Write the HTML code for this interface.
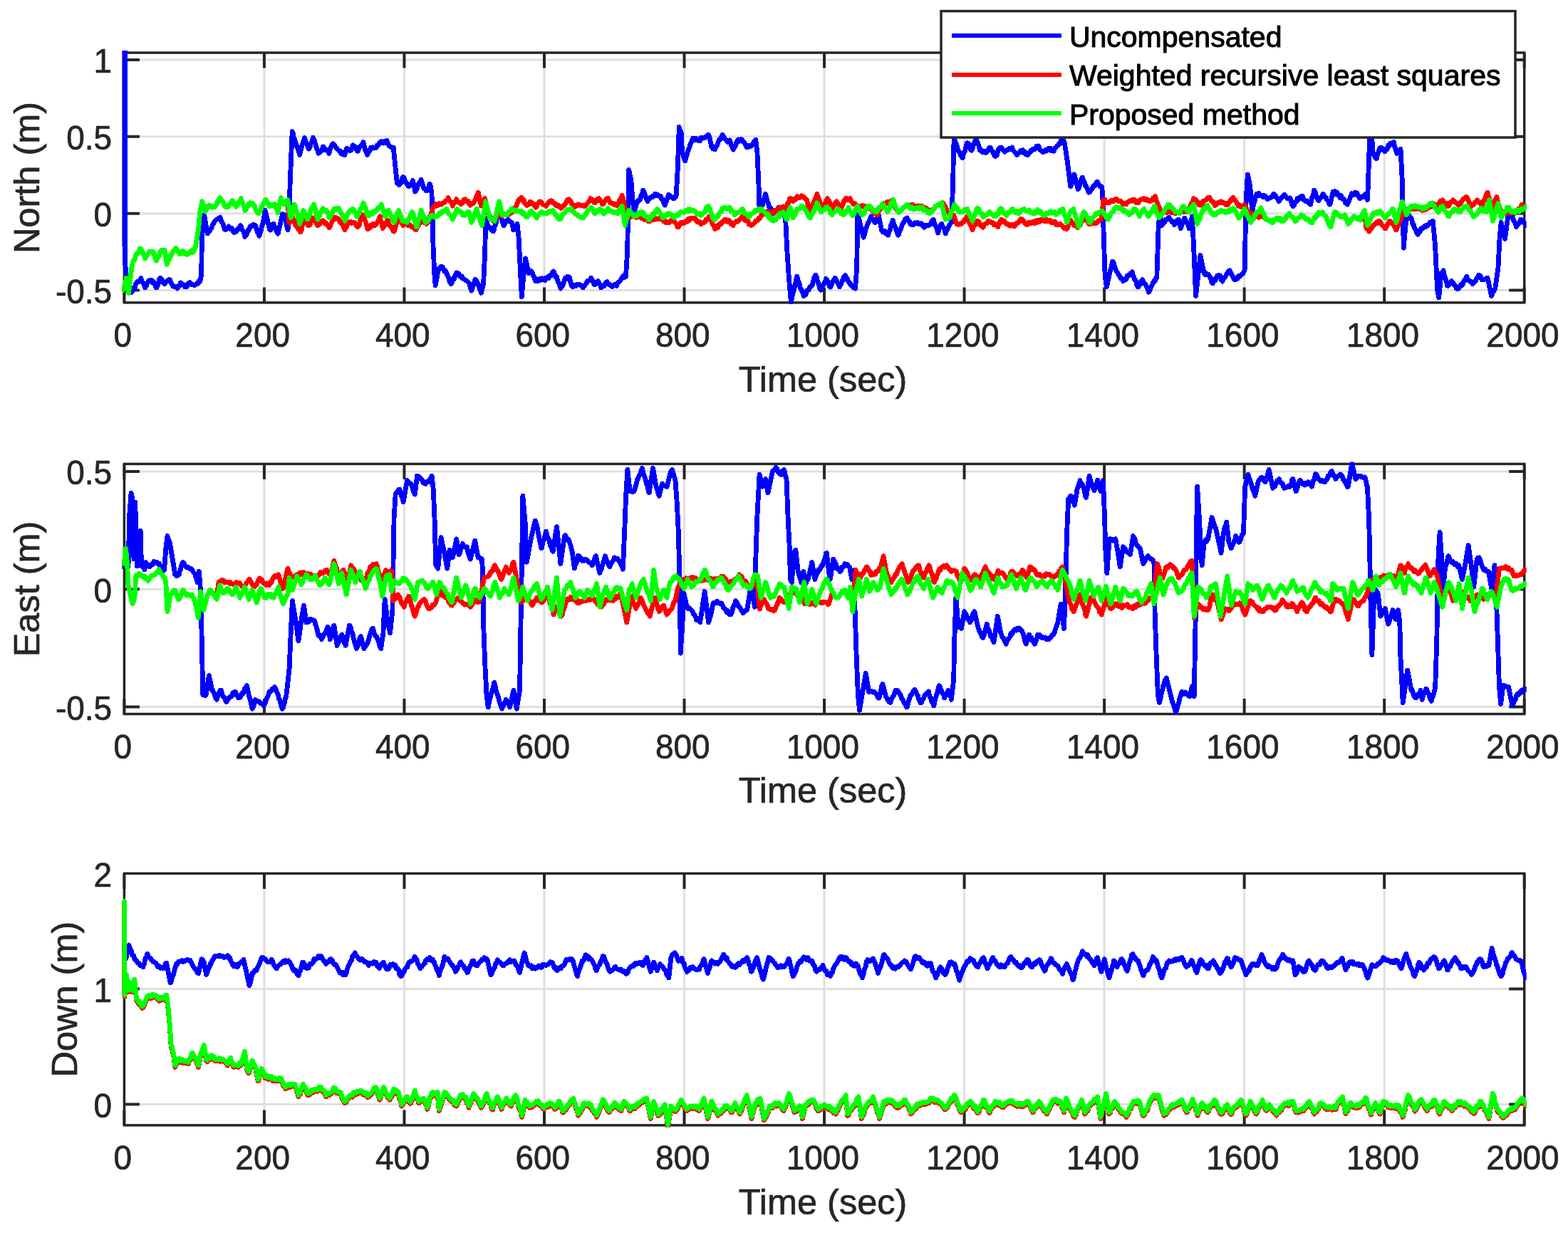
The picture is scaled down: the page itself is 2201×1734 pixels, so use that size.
<!DOCTYPE html>
<html><head><meta charset="utf-8"><title>Position error</title><style>html,body{margin:0;padding:0;background:#fff;width:2201px;height:1734px;overflow:hidden}svg{display:block}</style></head><body>
<svg width="2201" height="1734" viewBox="0 0 2201 1734" font-family='"Liberation Sans", Arial, Helvetica, sans-serif'>
<rect width="2201" height="1734" fill="#fff"/>
<path d="M370.93 74.00V424.90M567.46 74.00V424.90M763.99 74.00V424.90M960.52 74.00V424.90M1157.05 74.00V424.90M1353.58 74.00V424.90M1550.11 74.00V424.90M1746.64 74.00V424.90M1943.17 74.00V424.90M174.40 407.50H2139.70M174.40 299.67H2139.70M174.40 191.84H2139.70M174.40 84.00H2139.70" stroke="#dfdfdf" stroke-width="3" fill="none"/>
<path d="M174.40 424.90v-21.50M174.40 74.00v21.50M370.93 424.90v-21.50M370.93 74.00v21.50M567.46 424.90v-21.50M567.46 74.00v21.50M763.99 424.90v-21.50M763.99 74.00v21.50M960.52 424.90v-21.50M960.52 74.00v21.50M1157.05 424.90v-21.50M1157.05 74.00v21.50M1353.58 424.90v-21.50M1353.58 74.00v21.50M1550.11 424.90v-21.50M1550.11 74.00v21.50M1746.64 424.90v-21.50M1746.64 74.00v21.50M1943.17 424.90v-21.50M1943.17 74.00v21.50M2139.70 424.90v-21.50M2139.70 74.00v21.50M174.40 407.50h21.50M2139.70 407.50h-21.50M174.40 299.67h21.50M2139.70 299.67h-21.50M174.40 191.84h21.50M2139.70 191.84h-21.50M174.40 84.00h21.50M2139.70 84.00h-21.50" stroke="#262626" stroke-width="4" fill="none"/>
<rect x="174.40" y="74.00" width="1965.30" height="350.90" stroke="#262626" stroke-width="3.5" fill="none"/>
<clipPath id="c0"><rect x="171.40" y="71.00" width="1971.30" height="356.90"/></clipPath>
<g clip-path="url(#c0)" fill="none" stroke-width="6.8" shape-rendering="crispEdges" stroke-linejoin="round" stroke-linecap="round">
<path stroke="#0000ff" d="M174.2 72.1l0 271.8 1.5 0 0 -271.8 0.1 299.9 2.6 22.9 1.1 11 0.5 0.6 1.5 0 1.5 0.8 1.5 3.2 1.3 -1.2 1.7 -5.3 1.5 0.7 1 -3.9 0.5 -1.8 1.5 -2.2 1.5 -1.6 1.5 0.4 1.5 -1.3 0.9 -2.9 0.6 -0.7 1.5 4.6 1.5 1.7 1.5 3.6 1.2 3.4 1.8 -2.6 1.5 -3.9 1.5 -3.4 0.5 0.4 1 0.2 1.5 -1.6 1.5 0.5 1.5 3.8 0.8 -1.8 0.7 0.2 1.5 3.6 1.5 4.5 0.5 0.1 1 -1.2 1.5 -3.6 1.5 -6.9 1.3 -2 1.7 4.2 1.5 -1.7 1.5 4.5 1.6 1.4 1.4 -2 1.5 -1.9 1.5 -0.1 1.5 -2.1 0.4 -0.2 1.1 0.6 1.5 3.9 1.5 2.5 1.2 2.5 1.8 0.5 1.5 -0.3 1.5 0.6 1.5 2.3 1.1 -1 0.4 -1.6 1.5 -1 1.5 -4.5 0.8 0.8 0.7 1.7 1.5 -0.2 1.5 0.4 1.6 3.3 1.4 -2.2 1.5 1.5 1.5 -3.7 1.5 -1.5 1.4 -0.4 1.6 2.9 1.5 -0.3 1.5 1 1.8 0.6 1.2 -1.3 1.5 -1 1.5 -0.1 1.5 -3.7 1.6 0.9 2.1 -9.5 1.1 -84.3 1.2 1.4 1.5 -0.1 0.5 0.8 4.2 24.2 1.3 -2.2 1.5 -0.9 1.5 -3.3 0.9 -0.9 0.6 -0.4 1.5 -5.2 1.5 -1.2 1.5 -3.5 1.3 -1.3 1.7 -1.1 1.5 -1.1 1.5 -0.7 1.6 -1.3 1.4 5.3 1.5 2.4 1.5 3.3 1.5 4.6 0.4 1.2 1.1 0.7 1.5 -0.5 1.5 -1 1.5 -3.2 0.7 0.9 0.8 2.6 1.5 -0.1 1.5 -0.9 1.5 3.9 1.5 2.3 1.7 -0.5 1.3 -0.6 1.5 -3 1.5 -1.9 1.5 0.6 1.5 -4.4 1.1 0.9 0.4 2.5 1.5 3 1.5 2.5 1.5 4.3 0.3 2.5 1.2 -1.8 1.5 -2.1 1.5 -5.3 1.5 -0.2 1.7 -5.4 1.3 1.2 1.5 -2 1.5 -1.5 1.5 0.6 1.6 0.6 1.4 5.1 1.5 4.5 1.5 1.3 0.9 3.9 0.6 -2.1 1.5 -4.5 1.5 -6.4 1.6 -4.9 3.2 -17.9 6.3 27.4 0.9 0.3 1.5 -2.5 1.5 -5.9 1.4 -0.4 1.6 4.3 1.5 3.1 1.5 3.5 1.7 2.8 6.3 -27.4 1 1.4 1.5 -0.8 0.7 2.6 4.2 19 1.7 -10.6 1.5 -52.6 2.1 -52.7 1 -22.2 0.8 1.2 1.5 8.2 1.5 2.1 0.4 2.2 1.1 2.8 1.5 5.1 1.5 3.5 1.5 5.2 0.8 2.4 0.7 -3.7 1.5 -6.3 1.5 -5 1.5 -4.1 1.1 -4.1 0.4 -0.7 1.5 4.8 1.5 3.2 1.5 3.9 1.4 3.6 1.6 -2.4 1.5 -5.5 1.5 -2.2 1.7 -5.7 1.3 3.2 1.5 5 1.5 5.4 1.5 3.4 1.6 5.1 1.4 -1.2 1.5 -1.6 1.5 -2.1 1.5 -3.4 0.4 -1.2 1.1 0.7 1.5 4.1 1.5 0.4 1.5 -0.6 1.5 1.7 1.4 3.2 1.6 -6 1.5 -4.1 1.5 -2.4 0.6 -1.2 0.9 1.1 1.5 1.4 1.5 1.8 1.5 2.1 1.5 2.1 1.6 1 1.4 0.5 1.5 3.7 1.5 -1.8 1.5 3.2 1.5 -0.3 1 1 0.5 -2.1 1.5 -5.7 1.1 -1.7 0.4 1.7 1.5 0.2 1.5 1.8 1.5 -1 0.4 0.5 1.1 -2.1 1.8 -5.3 1.2 1 1.5 1 1.5 1 1.5 5.4 1.6 0 1.4 -3.7 1.5 -2.4 1.5 -1.8 1.5 -1.9 1.5 -2.8 1.5 7 1.5 5.1 1.5 1.7 0.8 4.1 0.7 -1.8 1.5 -1.9 1.5 -2.2 1.6 -4.6 1.4 1.9 1.5 -2.1 1.5 0.9 1.5 0.3 0.4 0 1.1 -0.6 1.5 -3.5 1.5 -0.1 1.5 -3.2 1.5 -1.2 1.3 -0.9 1.7 2.3 1.5 0.3 1.5 -2.5 0.6 2.1 0.9 -2.8 1.2 -0.4 0.3 -0.4 1.5 4.7 1.5 2.9 0.9 0.2 0.6 0.5 1.5 1.2 1.5 0.9 1.7 -0.5 2.1 21 3.1 29.5 0.6 -0.7 1.5 0.3 1.1 2.6 0.4 -2.8 1.5 0.3 1.5 -5 1.5 -3.7 0.4 0.6 1.1 0.3 1.5 4.3 1.5 3.5 1.5 0.4 1.5 3.8 1.3 0.4 1.7 -2.5 1.5 -2 1.5 -1.9 0.6 -2.1 3.1 15.8 0.8 -0.7 1.5 -2.8 1.5 -6.1 0.4 0.2 1.1 -1.8 1.5 -2.3 1.6 -3.3 1.4 4 1.5 5.7 1.4 2.9 1.6 1.2 1.5 1.8 1.1 -0.9 0.4 0.4 1.5 -3.6 1.5 -5.6 0.8 0.4 2.1 11.6 1.1 31.6 1 42.1 2.1 46.4 1.1 10.5 4.2 -23.1 1.1 0.8 1.5 -3.6 1.5 1.7 1.2 -1 0.3 -1.1 1.5 2.7 1.5 4.1 1.5 -1.1 1.5 3.8 1.5 3.2 1.5 3.8 1.5 5 1.8 2.7 1.2 -1.9 1.5 -5.3 1.5 0.2 1.5 -5.6 1.7 -3.2 1.3 0.9 1.5 0.1 1.5 3.2 0.9 1.1 0.6 -1 1.5 0.5 1.5 3.3 1.5 1.1 1.3 0.3 1.7 1.7 1.5 0.4 1.5 1.4 1.6 1.8 1.4 4.7 1.7 5.8 1.3 -3.3 1.5 -5.1 1.5 -3.8 1 -3.6 0.5 0.1 1.5 1.4 1.5 4.5 0.7 0.3 0.8 2.8 1.5 5.2 1.5 1.9 0.4 2.8 3.2 -12.7 2.1 -44.2 1.1 -48.5 0.7 3.2 1.5 5.5 0.9 1.8 0.6 0.8 1.5 2.8 1.5 -0.7 1.5 4.1 1.5 0.3 0.8 1.2 0.7 -1.3 1.5 -6.2 1.5 -3.7 1.5 -7.9 1.1 -2 0.4 -2.6 1.5 0.6 1.3 -4.3 1.7 7.8 1.5 5.6 1.5 4.2 0.5 1.3 1 -0.9 1.5 -3.5 1.5 -2.4 1.5 0.9 0.9 -2.5 0.6 2.1 1.5 0.7 1.5 0.9 1.6 0.5 2.1 10.6 0.8 -2.8 1.5 -1.1 1.5 -1.9 1.5 -2.7 2.1 19 2.1 42.2 2.1 41 2.1 -24.2 3.2 -29.5 4.2 19 0.7 1.8 1.5 -0.9 1.5 -2.6 0.5 1.7 1 0.6 1.5 4.7 1.5 2.3 1.3 5 1.7 -2.8 1.5 3.1 1.5 -1.4 1.6 -2 1.4 1.8 1.5 -2.5 1.5 0.2 1.5 2.1 0.4 -0.6 1.1 1.4 1.5 -3.7 1.5 -1 1.5 0.9 0.8 0.3 0.7 -2.9 1.5 0.3 1.5 -0.9 1.5 -4.7 1.1 -0.2 0.4 -0.9 1.5 3.3 1.5 4.9 1.5 -0.9 0.4 2 1.1 5.1 1.5 1.8 1.5 4.6 1.1 3.3 0.4 -1.8 1.5 -0.9 1.5 -3.4 1.5 -4.8 1.4 -3.9 1.6 1.7 1.5 -3.9 1.5 1.6 0.7 -0.5 0.8 0.7 1.5 6.9 1.5 4.1 1.5 2 1.5 -1.4 1.5 -1.1 1.5 1.3 1.5 -2.6 0.3 0.7 1.2 0.3 1.5 -0.7 1.5 1.1 1.5 0.3 1.5 1 0.9 2.2 0.6 -2.5 1.5 -0.7 1.5 -1.6 1.7 -2.6 1.3 -2.5 1.5 -0.1 1.5 -0.4 1.5 -3.5 0.5 1.3 1 1.3 1.5 2.1 1.5 4.7 1.3 0.3 1.7 -2.5 1.5 -1.9 1 -0.9 0.5 2.1 1.5 1.7 1.5 2.9 0.7 2.8 0.8 -1.6 1.5 -0.8 1.5 0.4 1.5 -2.1 1.5 -3.6 1.6 -0.7 1.4 2.1 1.5 1.9 1.5 0.1 1.5 1.3 0.5 0.9 1 0.8 1.5 -1.8 1.5 -1.2 1.5 0.4 1.5 1.5 0.3 -1.8 1.2 -2.9 1.5 -0.7 1.5 -1.2 1.5 -2.6 1.7 -2.1 1.3 -2.5 1.5 2.2 1.5 -0.9 1 -0.9 2.1 -33.7 1 -52.7 1.1 -63.2 3.2 14.7 2.1 27.4 2.1 16.9 0.9 -2.5 1.5 -5 1.8 -7.3 1.2 0.5 1.5 -2.7 1.5 0.1 1.5 -6.3 1.5 -1.9 1.2 -5.5 1.8 3.5 1.5 4.8 1.5 4 1.5 3.5 1.5 -3.3 1.5 -1.1 1.5 -1.6 1.5 0.1 0.4 -1.4 1.1 1.2 1.5 -1.7 1.5 -2.8 1.5 2.5 0.7 -1.3 0.8 -0.4 1.5 0.9 1.5 1.5 1.5 -0.4 1 1.5 0.5 2.8 1.5 0.3 1.5 4.3 1.8 4.2 1.2 -3.4 1.5 -3.9 1.5 -4 1 -3.4 0.5 0.5 1.5 0.7 1.5 2.2 1.5 0.3 1.4 1.5 1.6 -0.1 1.5 -3.1 1.1 0.1 2.1 -36.9 2.1 -60.1 0.7 2.9 1.5 3.3 1 3.3 1 27.4 1 1 1.5 5.9 1.7 3.6 1.3 -4.5 1.5 -5.5 1.4 -4.7 1.6 -3.4 1.5 -5.5 1.5 -2.7 1.8 -5.3 1.2 -0.3 1.5 2.3 1.5 -2.2 1.5 2.9 1.5 -1.9 1.2 2.4 0.3 -0.3 1.5 0.6 1.5 -4.5 1.5 1.1 1.5 -1.1 1.5 0.6 1.5 -1.6 1.5 -0.6 1.5 -1.2 1.4 -1.4 1.6 3.6 1.5 7.4 1.5 6.6 0.7 0.3 0.8 1.9 1.5 0 1.5 0.9 0.4 -0.7 1.1 -3.4 1.5 -0.9 1.5 -4.8 1.5 -3.8 0.7 0.2 0.8 -1.3 1.5 -2.8 1.5 -2.9 0.4 0.7 1.1 1.2 1.5 3.9 1.5 0.1 1.5 2.1 0.7 1.1 0.8 0.9 1.5 -0.8 1.5 -1.5 0.4 1.4 1.1 4.6 1.5 2.3 1.7 4.7 1.3 -3.1 1.5 -1.3 1.5 -4.7 1.5 -3.7 0.5 0.2 1 -1.6 1.5 2.3 1.5 -2 1.2 -0.8 1.8 2.3 1.5 1.7 1.5 1.8 1.5 2.8 1.1 3 0.4 -1.9 1.5 1.8 1.5 -2.4 1.5 1.3 1.4 -0.9 1.6 -1.3 1.5 -2.8 1.5 -2.9 1.8 -1.5 2.1 16.9 2.1 46.4 1 31.6 0.5 -0.3 1.5 0.8 1.2 -2.6 0.3 0.8 1.5 -4.9 1.5 -4.8 1.5 -6.2 0.5 -1.8 1 3.7 1.5 6.3 1.5 3.4 1.2 5.6 1.8 0.5 1.5 2.5 1.5 1.3 1.6 4.1 1.4 -3.4 1.5 0.6 1.5 -2.4 1.5 -0.9 0.4 -2.3 1.1 -0.3 1.5 2.3 1.5 -1.6 1.5 -0.3 1.7 0.9 3.2 20 2.1 42.2 2.1 31.6 3.2 37.9 1.2 -5.4 1.5 -6.6 1.5 -4.8 4.2 -19 1.8 6.7 1.5 3.1 1.5 7 0.5 0.1 1 1.5 1.5 4.1 1.7 4.9 1.3 -3.6 1.5 1.6 1.5 -5.5 1.5 -0.4 0.5 -0.5 1 -0.2 1.5 -4.3 1.4 0.2 1.6 -2.2 1.5 -6.1 1.5 -5.4 1.8 -3.1 1.2 2 1.5 6.9 1.5 2.9 1.5 6.3 1.6 3 1.4 -4.7 1.5 -1.8 1.5 -1.9 1.5 -2.9 1.5 -4.5 1.5 2 1.5 4.5 1.5 1.9 0.8 3.1 0.7 0.3 1.5 -2.3 1.5 -5.1 1.5 -2.1 1.5 -2.1 0.6 -1.3 0.9 0.9 1.5 4 1.5 1.6 1.5 3.4 1 2.7 0.5 -1.3 1.5 -2.6 1.5 -3.5 1.5 -4.3 1.5 -3.3 0.8 -0.8 0.7 -0.4 1.5 5 1.5 -0.4 1.5 4.9 1.5 0.4 0.7 2.1 0.8 -0.2 1.5 3.1 1.5 1 1.5 1.6 1.5 0.4 0.6 0.5 2.1 -29.5 1.1 -73.8 0.7 3.1 1.5 2.9 0.9 4.5 0.6 3.3 1.5 4.5 1.5 7.3 1.7 6 1.3 -4 1.5 -7 1.4 -3.7 1.6 -4.8 1.5 -2.4 1.5 -2.9 1.7 -4.7 1.3 2.6 1.5 1 1.5 1.9 1 2.9 0.5 0.2 1.5 -4 1.5 -3.9 1.8 -2.8 4.2 21.1 1.5 2.9 1.5 -0.9 1.5 -0.7 1.5 3.8 1.5 1 1.5 1 0.5 -0.8 1 -3 1.5 -4.3 1.5 -6.7 1.5 -2.6 0.8 -3.4 0.7 3.3 1.5 4.1 1.5 2.6 1.5 5.3 1.5 4.4 0.7 1.3 0.8 -0.5 1.5 -6.9 1.5 -0.8 1.5 -5 1 -2.6 0.5 -1.2 1.5 -1.6 1.5 -3.8 1.5 -1.2 1.3 -0.6 1.7 3.2 1.5 1.6 1.5 4.1 1.6 0.6 1.4 -1.3 1.5 1.6 1.5 -2.9 1.5 0.8 1.5 -0.2 1 -1.2 0.5 1.6 1.5 0.8 1.5 -0.7 1.5 -0.3 1.5 0.8 1.5 3.7 0.5 -0.6 1 1.6 1.5 -2.9 1.5 0.1 1.5 0.7 1.5 -0.6 1.4 -1 1.6 -1.6 1.5 -3.5 1.5 -1.9 0.7 -0.4 0.8 2.7 1.5 5.2 1.5 2.2 1.5 4 1 4.9 0.5 -0.7 1.5 -6 1.5 -3.6 1.8 -2.4 1.2 3.6 1.5 1.3 1.5 3.6 1 4.2 0.5 0.9 1.5 -5.2 1.5 -1.1 1.8 -5.2 1.2 -1.8 1.5 -2.3 0.5 -0.1 2.1 -52.6 1 -52.7 1.1 -12.7 1.3 5.3 1.5 3.3 1.5 4.9 0.9 3.4 0.6 0 1.5 3.5 1.5 3.4 1.5 2.3 1.3 1.3 1.7 -7.6 1.5 -1.5 1.5 -7 1.6 -4.9 1.4 0.3 1.5 3.1 1.5 5.4 1.5 1.1 0.4 0.6 1.1 -2 1.5 -6.3 1.5 -3.3 1.5 -2 0.7 -3.3 0.8 3.8 1.5 2.5 1.5 3.9 1.5 6.7 1.5 -0.7 1.5 3.1 1.5 0.3 1.5 -1.5 1.4 1.9 1.6 -0.1 1.5 -3.1 1.5 -1.7 1.7 -2.4 1.3 0.5 1.5 4.1 1.5 0.8 1.5 4.5 1.5 2 1.1 0.7 0.4 -2.6 1.5 0.6 1.5 -6.6 1.5 -2.8 1.4 -1.2 1.6 0.1 1.5 1.9 1.5 2 1.8 2.3 1.2 -1.1 1.5 -1.5 1.5 0 1.5 -1.3 1.5 -1.2 1.5 1.5 1.5 -2.3 0.3 -0.4 1.2 3.9 1.5 1.7 1.5 1.7 1.5 1.2 0.6 2 0.9 -0.1 1.5 -2.4 1.5 -0.5 1.5 -2.8 0.9 -0.5 0.6 0.4 1.5 -0.8 1.5 4 1.5 -1.7 1.5 3.7 1.5 0.8 0.4 -0.1 1.1 0 1.5 -3.5 1.5 0.1 1.5 -3.4 1.5 -0.2 1.3 -1.4 1.7 0.9 1.5 -0.9 1.5 -4 1.5 0.6 0.9 -0.8 0.6 0.1 1.5 4.6 1.5 1.8 1.5 0.6 1.2 1.3 0.3 0.7 1.5 -1 1.5 -2.2 1.5 1.4 1.5 -0.9 1.1 -2.2 0.4 -0.6 1.5 2.1 1.5 -2.5 1.5 3.7 1.5 -0.6 0.9 0 0.6 1.1 1.5 -4.1 1.5 -0.8 1.7 -2.5 1.3 -0.4 1.5 -2.4 1.5 -0.2 1.5 -5.6 1.6 0.1 1.4 0.1 1.8 4.2 4.2 27.3 4.2 33.8 0.3 0.1 1.5 -5 1.5 -7 1.5 -3.4 0.4 -1.6 5.3 21.1 1.8 -4.1 1.5 -6 1.5 -4.2 1.5 -2.6 1.5 4.9 1.5 2.9 1.5 4.4 1.5 1.8 1.5 3.8 1 3.3 0.5 -1 1.5 0.2 1.5 -3 1.5 -1.1 1.3 -3.5 1.7 -1.5 1.5 0.2 1.5 -4.7 1.6 -0.4 1.4 3.1 1.5 2.2 1.5 1.6 1.5 -0.4 0.4 2 1.1 16.8 1 42.2 2.1 63.2 2.2 16.8 4.2 -18.9 1 -3.7 1.5 -5.2 1.7 -8 1.3 1.2 1.5 5.5 1.5 5.2 1.5 2.4 0.5 0.5 1 2 1.5 2.2 1.5 1.8 1.5 3.1 1.5 0.4 1.4 3.1 1.6 -2.4 1.5 1.1 1.5 -1.5 1.5 -4.9 1.5 -0.1 1.5 -0.3 1.5 -2.6 1.5 -1.3 0.6 -0.6 0.9 3.5 1.5 3.3 1.5 4.8 1.5 0.6 1.5 6.8 1.5 2 1.5 -1.9 1.5 -1.3 1.5 -5.2 1.5 0 0.3 -2.1 1.2 3.6 1.5 2.5 1.5 1.1 1.5 3 1.5 3.1 1.3 4.6 1.7 -2.7 1.5 -4.8 1.5 -1.6 1.6 -4.6 1.4 -2.1 1.5 0.1 1.5 -5.1 0.8 0.8 2.2 -67.4 2.1 -29.5 3.1 23.1 0.8 -2.8 1.5 -0.1 1.5 -1.7 1.5 -3.8 1.5 0.2 1.7 -2.3 1.3 -0.6 1.5 2.2 1.5 1.2 1.5 3.2 1.5 -0.5 1.1 2.9 0.4 1.3 1.5 -1.8 1.5 -1.1 1.5 -4 1.4 -0.7 1.6 8.3 1.6 4.4 1.4 -5 1.5 -2.6 1.5 -4.5 0.8 -2.7 0.7 1.2 1.5 3.1 1.5 2.5 1.5 3.8 1.2 4.2 0.3 -2.9 1.5 -4.6 1.5 -5.3 0.9 -4.1 2.1 40 3.1 71.7 3.2 -29.5 3.2 -27.4 5.2 25.3 1.8 1.8 1.5 -1.9 1.5 0.7 1.5 1.5 1.5 1.9 1.5 3 1.5 5.7 0.8 -0.1 0.7 1.3 1.5 -5.1 1.5 1.3 1.5 -3 1.5 -3.7 1.5 0.5 1.3 -1.8 1.7 1.5 1.5 5.9 1 1 0.5 0.6 1.5 -5.1 1.5 0.2 1.5 -2.8 1.5 -3 1.5 -1.2 1.5 -3.3 1.1 -0.1 0.4 0.2 1.5 4.3 1.5 2.3 1.5 3.3 1.4 2.5 1.6 0.5 1.5 -2.7 1.5 1.1 1.5 -3.6 1.5 0.6 0.8 -0.1 0.7 -1.5 1.5 -1.6 1.5 -0.5 1.5 -3.3 1.1 -1.5 1.1 -56.9 1 -42.2 2.1 -35.8 3.2 14.8 3.2 35.8 0.3 0.3 1.5 -8.3 1.5 -4.6 1.5 -6.9 1.5 -3.7 1.5 0.1 1.5 -0.9 1.5 3.4 1.5 0.2 0.3 -0.7 1.2 -0.1 1.5 2.6 1.5 -2.4 1.5 0.5 1.5 1.8 1.5 2.8 1.5 -0.9 1.5 -0.3 1.5 -1.3 1.5 0 1.5 -2.5 1.5 -2.5 1 1.3 0.5 2 1.5 -0.2 1.5 3 1.5 2.2 1.3 2.5 1.7 -2.9 1.5 -2.7 1.5 -0.2 1.6 -2.7 1.4 -1.2 1.5 2.5 1.5 1.1 1.5 2.1 1.5 -0.8 1 0.6 0.5 -0.8 1.5 2.9 1.5 6.2 1.5 2.7 0.3 -0.5 1.2 -0.5 1.5 -4.8 1.5 -0.8 1.1 -2.3 0.4 -2 1.5 1.7 1.5 -3.3 1.5 1.3 1.4 -3 1.6 0 1.5 5.2 1.5 0.7 1.7 1.5 1.3 -1 1.5 2.3 1.5 0.1 1.5 2.6 0.6 0.2 0.9 -5 1.5 -5.6 1.5 -2.7 1.3 -6.7 1.7 3.3 1.5 6.4 1.5 2.9 0.6 1.1 0.9 0.7 1.5 -3.6 1.5 -0.1 1.5 -2.6 0.9 -1.8 0.6 -1.2 1.5 2.6 1.5 1.9 1.5 1.3 1.2 2.8 1.8 1.5 1.5 4.9 1 -0.1 4.2 -17.9 0.8 0.6 1.5 -1.4 1.5 4.4 1.5 -2.9 1 2.4 0.5 0 1.5 3 1.5 2 1.5 -2.6 1.5 4.5 0.9 -0.5 0.6 0.8 1.5 0.2 1.5 4.9 1.5 -0.7 1.2 3.2 0.3 -0.3 1.5 -3 1.5 -4 1.5 -4.7 0.5 -0.7 1 -2.6 1.5 0.7 1.5 0.9 1.5 -3.3 0.8 0.1 0.7 0 1.5 1.5 1.5 3.5 1.5 2.1 1.1 1.4 0.4 -2.1 1.5 0.3 1.5 -0.2 1.5 0.1 1.5 -3.2 1.5 -1.1 0.5 -0.2 1 3.8 1.1 4.7 1.1 -31.7 2.1 -61.1 2.1 -8.4 2.1 33.7 0.5 2.2 1.5 3.4 1.5 2.2 1.8 1.7 1.2 -6.2 1.5 -2.8 1.5 -5.8 1.5 -0.4 1.5 -0.3 1.5 1.7 1.5 2.5 1.5 1.2 0.9 -1.5 0.6 -2.4 1.5 0.8 1.5 -5.5 0.6 0.8 0.9 0.2 1.5 -3.8 1.5 0.5 1.5 0.7 1.5 -2.9 0.5 0 1 5.4 1.5 4.8 1.7 5.6 1.3 -2.8 1.5 -1.1 1.5 -1.5 1 -0.9 2.1 40 1.1 42.2 1 56.9 3.2 -35.8 3.1 -12.7 0.5 1.8 1.5 1.7 1.5 2.7 0.8 0.2 0.7 1 1.5 7.5 1.5 1.4 0.5 2.7 1 2.4 1.5 1.8 1.5 4.4 1.2 1.9 1.8 -3 1.5 -1.4 1.5 -4.1 0.5 0.1 1 0.4 1.5 -2.2 1.5 -1.7 1.5 1.2 1.5 -2.5 1.4 0.6 1.6 -1.7 1.5 -2.6 1.5 1.2 1.5 -1.4 1.3 -1.8 3.2 33.7 3.1 63.2 2.2 10.6 3.1 -33.8 0.6 -1.3 1.5 0.1 1.1 -3 0.4 2.7 1.5 5.9 1.5 4.5 1.5 5.1 0.3 2.9 1.2 0.7 1.5 -1.9 1.5 -3.3 1.5 0.3 0.7 -2.1 0.8 2.8 1.5 -0.1 1.5 2.8 1.5 1.4 1.5 3.6 0.5 0 1 0.8 1.5 -1 1.5 -2.2 1.5 -3 1.5 1 0.4 -1.9 1.1 0.2 1.5 -5.1 1.5 -0.1 1.5 -4.3 0.7 -1.3 0.8 2.9 1.5 2 1.5 1.1 1.5 1.4 1.5 -0.3 1.7 3.5 1.3 -1.6 1.5 -1.8 1.5 -1.4 1.5 -3.9 1.5 -1.5 1.1 -2.5 0.4 1 1.5 -0.2 1.5 3.2 1.5 2.9 1.4 -0.5 1.6 0.2 1.5 -0.8 1.5 -1.5 1.7 0 5.3 25.2 0.5 -1 1.5 -4.5 1.5 -1.6 1.8 -3.4 4.2 -29.5 2.1 -42.1 2.1 -21.1 5.3 23.2 4.2 -31.7 1.3 1 1.5 -2 1.5 -0.2 1 -0.9 0.5 0.3 1.5 6 1.5 2.8 1.5 2.4 1.3 5.4 1.7 -3.3 1.5 -0.5 1.5 -3.8 1.6 -2.9 1.4 3.1 1.5 -1.9 1.5 3.5 1.5 0.5 1.5 2.2 1 1"/>
<path stroke="#ff0000" d="M172.5 407.2l1.5 -3.7 1.5 -5.5 1.5 -5.2 0.4 -2.5 3.1 21.1 4.3 -35.8 1.2 -5.5 1.5 -4.2 1.5 -1.2 1 -3.9 0.5 -1.8 1.5 -2.9 1.5 -0.3 1.5 -3.4 1.5 -3.5 0.9 0.3 0.6 0 1.5 4.7 1.5 1.8 1.5 3.7 1.2 3.5 1.8 -2.8 1.5 -2.8 1.5 -1.7 1.5 -2.2 1.5 -0.1 1.5 0.4 1.5 -0.6 0.8 1.4 0.7 0.3 1.5 7.3 1.5 2.6 0.5 1.4 1 -3.2 1.5 -1.4 1.5 -2.1 1.5 -6.2 0.8 0.2 0.7 -2.2 1.5 -0.1 1.5 1.7 1.6 -1.5 3.2 20 1.2 -2.7 1.5 -4.9 1.5 -0.6 1 -4.4 0.5 0.5 1.5 -3.2 1.5 -3.4 1.5 -0.4 1.5 -3.2 0.9 -0.8 0.6 1.2 1.5 1.4 1.5 3.6 1.7 2.2 1.3 -2.1 1.5 1.1 1.4 -3.2 1.6 0.8 1.5 3.7 1.1 -0.3 0.4 -0.9 1.5 2 1.5 -1.3 1.5 -1.8 1.4 -0.1 1.6 -2.6 1.5 2.9 1.5 -4 0.7 1.6 0.8 -1.7 1.5 -4.9 0.9 -5 3.1 -17.9 2.1 -25.3 3.2 -14.8 1.2 3.5 1.5 4.7 1.5 5.5 1.5 -1.9 1.5 -3.6 1.2 -1.8 1.8 -1 1.5 2.7 1.5 -1 1.5 1.4 1.5 -2 1.5 1 1.5 -1.2 1.5 -4.7 0.4 1.6 1.1 -3.5 1.5 -2.5 1.6 -2.4 1.4 3.7 1.5 1 1.5 2.2 1.5 4.6 0.4 0.1 1.1 1.3 1.5 0.4 1.5 -2.4 1.2 0.7 0.3 1 1.5 -2.9 1.5 -2.9 1.5 -0.1 0.4 -2.5 1.1 0.6 1.5 4.4 1.5 -0.2 1.2 3.6 1.8 -1.2 1.5 -5.1 1.5 -0.2 1.5 -3 1.1 -2.1 0.4 2.7 1.5 2.9 1.5 4.7 1.5 4.6 0.3 2 1.2 -0.6 1.5 -3.8 1.5 -1.3 1.1 -3.8 0.4 1.6 1.5 -2.8 1.5 2 1.5 -1.6 1.4 1.8 1.6 1 1.5 5.8 1.5 2.2 1.5 2.8 1.3 0.9 1.7 -2.9 1.5 -2.4 1.5 -4.6 0.6 -0.6 0.9 -1.2 1.5 -3.8 1.5 -3 1.4 -0.5 1.6 4.2 1.5 1.1 1.5 3.9 0.6 -0.7 0.9 -0.5 1.5 -1.2 1.5 1.5 1.5 -0.3 0.9 -1.7 0.6 -0.7 1.5 6 1.5 0.9 1.7 5.4 4.2 -21 1.6 5.5 1.5 1.1 1.1 2.8 0.4 -1.9 1.5 -1.6 1.5 -1.5 1.5 0.2 0.4 -1.5 2.1 31.6 0.5 0.7 1.5 -5.1 1.5 -0.7 0.7 -3.3 0.8 3.8 1.5 1.6 1.5 4 0.4 2.2 1.1 1.4 1.5 0.7 1.5 4.3 1.5 -0.3 1.5 2 0.3 2.4 1.2 -2.1 1.5 -7.8 1.5 -3.9 1.1 -4.1 0.4 0.4 1.5 1.4 1.5 1 1.5 5.4 1.4 0.2 1.6 -0.7 1.5 -6 1.5 -2 1.7 -1.8 1.3 4.1 1.5 0.7 1.5 3.1 1.5 2.4 0.6 0.2 0.9 -1.6 1.5 0 1.5 -2.1 1.5 -1.4 1.5 -1.7 1.5 0.5 1.5 3.5 1.5 -0.7 1.5 2.4 1.5 1.4 1.5 2.7 0.9 -0.8 0.6 -1.8 1.5 -3.5 1.5 -3.2 1.5 -3.3 1.2 -1.9 1.8 2.4 1.5 -1.6 1.5 0.9 1.6 1.4 1.4 2.9 1.5 2.7 1.5 1.2 1.5 1.7 1.5 3.5 1 2.8 0.5 -2.6 1.5 -0.6 1.5 -4.4 1.5 -2.5 1.3 -0.5 1.7 -0.8 1.5 2 1.5 -1.2 1.3 0 1.7 0.3 1.5 2.9 1.5 2.7 1.6 0.5 1.4 -1.9 1.5 -7.1 1.5 -1.6 1.5 -3.1 0.5 -3.2 1 3.9 1.5 1.9 1.5 3 1.5 5.5 1.5 5.5 0.3 -0.8 1.2 -1.8 1.5 1.2 1.5 -4.2 1.1 0.5 0.4 1.6 1.5 -4.1 1.5 0.7 1.5 1.8 1.4 -2.1 1.6 -1.5 1.5 -3.2 1.5 -3.4 0.7 -2.4 0.8 4 1.5 3.9 1.5 7 0.4 2 1.1 -3.2 1.5 -0.3 1.5 -2.7 1.5 -4.1 0.7 -0.3 0.8 -0.5 1.5 5.9 1.5 1.7 1.5 1.3 1.5 2.3 1.5 3.6 1.2 0.5 1.8 -5.8 1.5 -4.7 1.5 -4.8 1.5 -3.7 1.5 3 1.5 1.6 1.5 3.1 1.5 0.5 0.4 2.3 1.1 -0.7 1.5 -1 1.5 -0.3 1.5 0.4 1.5 2.1 1.3 -1.5 1.7 0.9 1.5 2 1.5 -0.3 1.5 0.3 1.5 3.2 1.8 1.3 1.2 -1.9 1.5 -3.8 1.5 -2 1.5 -2.9 0.6 -2.1 0.9 -0.6 1.5 1.8 1.5 0.7 1.5 -0.3 1.5 1.5 1.5 1.1 1.5 -1.3 1.5 -2.9 1.5 -5.6 1.5 -1.5 0.3 -1.3 1.2 -5.3 1.5 -4.4 1.6 -2.9 1.4 0.9 1.5 -3.5 1.5 1.8 0.8 -1.4 0.7 1.4 1.5 -2.6 1.5 1.1 1.5 0.3 1.5 -2.3 1.8 0 1.2 -0.5 1.5 -2.3 1.5 -0.7 1.5 -1.6 0.6 -2.2 0.9 3.5 1.5 1.2 1.5 1.2 1.5 3 0.9 2.7 0.6 -2.3 1.5 -1.2 1.5 -2 1.7 -4 1.3 2.3 1.5 1.8 1.5 0.3 1.5 2.4 0.5 0.5 1 -2.5 1.5 0.5 1.5 -4.5 1.5 2 0.8 -2.8 0.7 1.9 1.5 0.8 1.5 0 1.5 4.1 1.5 1.7 0.7 -1.2 0.8 -2 1.5 1.3 1.5 -0.9 1.5 -2.6 1.5 -2.9 1.5 -4.6 1.5 -1.7 0.7 -3.4 4.2 19 1.1 -2.4 1.5 -4.1 1.5 -2.4 1.2 -1.7 5.3 23.2 1 1.8 1.5 1.2 1.5 0.8 1.5 2.7 0.8 1.9 0.7 -1.7 1.5 0.5 1.5 -4.5 1.5 -0.7 1.5 -0.5 1.7 -1.5 1.3 0.5 1.5 -0.1 1.5 0.9 1.5 -2.5 0.5 1.2 1 -0.9 1.5 1.1 1.5 -1.1 1.5 1.2 0.9 -0.3 0.6 -1.6 1.5 0.2 1.5 -1.1 1.5 -1.4 1.5 -0.8 1.8 -3.7 1.2 -2.5 1.5 -1.5 1.5 -3.4 1.5 -3.8 0.6 -1.5 0.9 -0.9 1.5 -1.1 1.5 -1.5 0.3 1.4 1.2 2.8 1.5 -0.8 1.5 4.6 1.5 1.2 0.7 0.6 0.8 1.5 1.5 -1.4 1.5 0.2 1.5 -4 1.5 0.8 0.5 -0.2 1 1.4 1.5 0.7 1.5 2.5 1.5 1.2 0.9 1.6 0.6 -1 1.5 -4.5 1.5 -0.6 1.6 -2.4 1.4 0.3 1.5 1.5 1.5 2.6 1.5 0.8 1.5 0.3 1.1 0.9 0.4 0.2 1.5 -2.4 1.5 -2 1.5 -2.2 1.5 -0.2 1.5 0 0.5 -0.8 1 2.4 1.5 1 1.5 0 1.5 3.1 0.8 -1.3 0.7 0.2 1.5 2.3 1.5 -1 1.5 2.1 1.5 1.7 1.7 -1 1.3 -2.9 1.5 0 1.5 -2.2 1.5 -2.6 1.5 -3.2 1.5 -0.3 0.7 -0.4 0.8 0.7 1.5 1.8 1.5 3.8 1.5 0.8 1.5 2.5 0.6 -0.1 0.9 1.2 1.5 -1.1 1.5 -1.5 1.5 0.5 0.9 -1.3 0.6 0.8 1.5 0.4 1.5 0.3 1.5 -0.5 1.5 1.3 1.5 -0.1 1.5 -0.1 1.5 -2.5 1.5 -1.6 1.5 -2.2 1.5 -1.7 1 -2.5 0.5 1 1.5 0.5 1.5 1.1 1.5 3.3 1.3 0.4 1.7 -1.8 1.5 -3.4 1.5 0.9 0.6 -2 0.9 1.5 1.5 2.3 1.5 0.7 1.3 3.9 1.7 -1.2 1.5 -3.3 1.5 -2.3 1.6 -1.6 1.4 -0.5 1.5 3.4 1.5 3.3 1.5 0.4 0.5 -0.3 1 0.2 1.5 1.9 1.5 0.4 1.5 -0.9 1.5 0.8 1.4 1.9 1.6 -4.7 1.5 -4.3 1.5 -0.5 1.7 -5.3 1.3 4.6 1.5 6.6 1.4 5.7 1.6 3.3 1.5 6.5 1.1 2.8 0.4 0.9 1.5 0.4 1.5 -2.2 1.5 1.3 1.5 -0.4 1.5 0.2 1.5 -1.5 1.5 2.5 1.5 0.3 1.5 -2.2 1.5 -0.4 1.5 1.1 1.5 1.6 1.5 1.3 1.5 -2.5 1.5 4.2 1.5 -0.4 1.5 -0.4 1.5 1.2 1.5 2 0.6 -0.7 0.9 0.7 1.5 -3.1 1.5 1 1.5 -2.6 1.5 2.5 1.6 -2.7 1.4 2 1.5 -0.3 1.5 -0.2 1.5 -1 1.5 1.5 1 0.1 0.5 -1.2 1.5 0.8 1.5 3 1.5 -0.6 1.5 2.3 1.5 -1.3 0.4 1.2 1.1 0.6 1.5 -0.3 1.5 -2.1 1.5 -1.1 1.5 0.8 1.4 0 1.6 0.6 1.5 2.4 1.5 1.4 1.7 4.1 1.3 0.2 1.5 -4.2 1.5 -2.2 1.5 1.2 0.5 -1.4 1 1 1.5 0.1 1.5 -1.9 1.5 -1.6 0.8 0.3 0.7 1 1.5 -3.6 1.5 1.6 1.5 -3.2 1.5 0.5 1.8 -0.5 1.2 0.4 1.5 0.1 1.5 1.3 1.5 3.3 0.6 -0.9 0.9 0.5 1.5 1.5 1.5 -0.5 1.5 3 0.9 -0.3 0.6 -1.2 1.5 -0.5 1.5 -0.2 1.5 -1.2 1.2 -3.2 1.8 -0.6 1.5 -1.2 0.9 -2.4 0.6 0.4 1.5 3.3 1.5 3.7 1.5 4.4 1.5 0.9 1.5 4.9 0.4 -0.7 1.1 0.1 1.5 -3.5 1.5 1.9 1.5 -4.7 1.5 -0.6 1.3 0.4 1.7 -3.4 1.5 -0.2 1.5 -2.5 1.6 -0.2 1.4 2.3 1.5 1.3 1.5 -2.5 1.5 1.1 0.4 2 1.1 2.5 1.5 -1.7 1.7 3.4 1.3 -2.8 1.5 -1.6 1.5 -1.8 1.5 1 0.5 -1.1 1 0 1.5 -1.7 1.5 -0.9 1.5 -2.2 0.8 -1.5 0.7 0.3 1.5 2.4 1.5 2.9 1.5 0.2 1.1 0.5 0.4 -0.6 1.5 0.7 1.5 5 1.5 0.2 1.4 1 1.6 -0.7 1.5 -1.3 1.5 -1.3 1.5 -3 1.5 0.1 0.9 -0.1 0.6 -1.2 1.5 -2.8 1.5 0.7 1.5 -3.8 1.2 -1.3 0.3 0.4 1.5 -0.8 1.5 -0.8 1.5 -1.1 1.5 -1.9 1.5 -0.6 1.5 3.2 1.5 -2.9 1.5 3.5 1.5 0.1 0.9 -1.2 0.6 1 1.5 -4.3 1.5 -1 1.5 1.8 1.5 -2.5 1.5 -1.6 0.4 0.3 1.1 1.6 1.5 -4.1 1.5 1.6 1.5 -0.8 1.5 -1.6 1.3 1.2 1.7 -0.1 1.5 0 1 -2 0.5 -3.2 1.5 -1.7 1.5 -5.5 0.7 -0.2 0.8 2 1.5 -1.4 1.5 1.3 0.4 2.3 1.1 -1.5 1.5 -0.1 1.5 -3.2 1.5 -2.2 0.8 0.7 0.7 1.1 1.5 -0.2 1.5 -0.1 1.5 -2.4 1.1 0.6 0.4 0 1.5 0.5 1.5 2.5 1.5 0.4 1.4 1.8 1.6 5.9 1.5 5.1 1.5 3 0.4 0.8 1.1 -4.4 1.5 -1.4 1.5 -4.5 1.5 -1.5 1.5 -4.8 1.5 -3.2 0.9 -3.4 0.6 2.4 1.5 3.1 1.5 5.2 1.5 3.5 1.5 1.6 1.8 5.3 1.2 -3.4 1.5 -2.9 1.5 -5.2 1.5 -2.5 0.6 -0.8 0.9 2.4 1.5 1.4 1.5 6.6 1.5 2.8 0.9 1.6 0.6 -1.7 1.5 -2.6 1.5 -2.3 1.5 -2.6 1.3 -1.4 1.7 3 1.5 2.6 1.5 0.9 1.6 4.1 1.4 -4.1 1.5 -3.4 1.5 -4.6 1.5 0.2 0.4 -2.9 1.1 -0.1 1.5 1.8 1.5 0 1.5 0.2 0.7 -1.9 0.8 2.3 1.5 2.5 1.5 2 1.5 1.5 1 0.1 0.5 -1.3 1.5 2.1 1.5 0.7 1.5 2.2 1.4 -1.5 1.6 0.8 1.5 0.1 1.5 -1.5 1.5 2.3 1.5 -1.2 0.8 -0.5 0.7 -0.1 1.5 1 1.5 2.8 1.5 -1 1.5 -0.7 1.7 2.2 1.3 2 1.5 1 1.5 2.9 1.5 -1.4 1.5 2.4 1.1 1.5 0.4 0.3 1.5 -5.3 1.5 -2.5 1.5 -0.8 1.5 -3.8 1.5 -3.2 0.6 0.5 0.9 -1.2 1.5 1 1.5 -1 1.5 -2.2 1.5 -0.6 1.5 2.6 1.5 -1.3 1.5 -2.4 1.2 0.9 1.8 1.2 1.5 4 1.5 4.6 1.5 2.1 1.5 0.9 0.7 2 0.8 0.8 1.5 -2.4 1.5 -0.2 1.5 -1.1 1.5 -3.1 1.5 -0.3 1.5 -1.7 1.5 0.3 1.3 -2.9 1.7 1.3 1.5 0.6 1.5 1.1 1.5 -2.7 1.5 0.1 1.5 2.5 1.3 -0.7 1.7 0 1.5 -0.1 1.5 -0.3 1.5 1.9 1.5 -0.4 1.5 -0.8 1.4 -0.3 1.6 2.7 1.5 -0.4 1.5 0.1 1.5 1.7 1.5 2.7 1.5 -1.5 1.4 3.1 1.6 -2.4 1.5 0.8 1.5 -2 1.5 -0.6 1.5 -3.2 0.8 -1 0.7 0 1.5 -0.7 1.5 -0.7 1.5 -0.5 1.5 0.5 1.5 -0.1 1.5 -2.8 0.9 0 0.6 1.8 1.5 1.7 1.5 3 1.5 3.8 1.2 2.4 0.3 0.5 1.5 0.6 1.5 2.4 1.5 -2.5 1.5 2.7 1.5 2.2 0.6 -1.7 0.9 3.6 1.5 3.8 1.5 3.7 0.3 1.5 1.2 -0.6 1.5 1.7 1.5 -0.5 1.5 -1.3 1.5 0.5 1.3 -1.9 1.7 -0.9 1.5 -3.8 1.5 -1.7 1.6 -2 1.4 3.1 1.5 5.4 1.5 2.8 1.5 3.3 1.5 4.4 1.5 -4.2 1.5 -1.6 1.5 -2.4 1.5 -4.1 1.3 -0.4 1.7 1.3 1.5 4.4 1.5 0.9 1.7 1.9 1.3 0.6 1.5 -4.5 1.5 -0.4 1.5 -0.6 1.5 -1.7 1.1 -1.9 0.4 -0.1 1.5 1.9 1.5 -0.7 1.5 1.4 1.4 -0.4 1.6 3.3 1.5 0.3 1.5 -1.3 1.5 1.5 1.3 2.6 1.7 -4.6 1.5 -3.8 1.5 -2.1 0.6 -0.1 0.9 0.7 1.5 3 1.5 -1.1 1.5 2.4 1.5 1.6 1.5 -0.3 1.5 0.8 1.5 1.8 1.5 -1.5 1.5 0.3 1.5 -0.5 1.5 2.7 1.5 -1.5 1.5 -3 1.5 0.3 1.5 -2.1 1.5 -0.4 1.5 -3.8 0.9 0.6 0.6 -0.5 1.5 1.2 1.5 1.9 1.5 2.4 1.5 1.4 1.5 0.8 0.4 -0.9 1.1 0.5 1.5 -2.8 1.5 0.9 1.5 0.7 1.5 -1.9 1.3 0.5 1.7 1.2 1.5 -3.5 1.5 2.5 1.5 -3.3 1.5 0.7 0.4 0.3 1.1 1.4 1.5 -3.1 1.5 1 1.5 -0.7 1.5 1.6 1.5 0.1 1.5 -3.1 0.5 0.7 1 0.5 1.5 2.4 1.5 -0.7 1.5 -0.6 1.5 3 1.4 -0.4 1.6 0.3 1.5 -1.6 1.5 4.2 1.5 -1 1.5 1.4 1.5 0.4 1.4 -1.6 1.6 1.4 1.5 0.8 1.5 2.4 1.5 1.5 1.5 -1.3 1.5 1.4 0.4 1.2 1.1 -1.5 1.5 -4.5 1.5 -4.5 1.2 -1.1 0.3 -0.9 1.5 2.8 1.5 1.5 1.5 2.8 1.5 -0.4 1.5 1.7 1.5 -0.5 1.2 2.5 1.8 -3.8 1.5 -0.7 1.5 -4.2 1.5 -2.6 1.5 -1.9 0.6 -0.5 0.9 0.7 1.5 1 1.5 2.6 1.5 -0.2 1.5 4.3 1.6 0 1.4 -0.2 1.5 -2.3 1.5 0.7 1.5 1.1 1.5 -0.5 1 -0.9 0.5 1 1.5 -0.5 1.5 -3.2 1.5 -0.1 1.5 -1.6 0.9 0.2 3.1 -27.4 0.5 -0.6 1.5 0.3 1.5 2.8 1.5 1.6 1.4 0.1 1.6 0 1.5 -2.6 1.5 -0.9 1.5 0.7 1.5 0.6 0.8 -2 0.7 -0.1 1.5 -1.3 1.5 0.4 1.5 1.5 1.5 1.7 1.7 -0.1 1.3 -0.4 1.5 2.5 1.5 2 1.5 -1.8 1.5 1.8 1.2 0.1 0.3 -0.1 1.5 -3.1 1.5 0.1 1.5 -1.9 1.5 -0.7 1.5 0.9 0.6 -1.5 0.9 1.2 1.5 -1.8 1.5 0.9 1.5 3.3 1.5 -1.7 1.5 2.3 1.5 -2 1.5 -2 1.5 -1.2 1.5 -0.7 1.5 -0.1 0.9 -0.3 0.6 2 1.5 -0.4 1.5 -0.8 1.5 2.5 1.5 -0.9 1.5 1.7 0.4 0.1 1.1 -1.8 1.5 1 1.5 -3.9 1.5 0.3 1.7 -2.9 1.3 5.4 1.5 3.9 1.5 4.4 1.5 2.7 1.6 3.6 1.4 0.7 1.5 0 1.5 0.4 1.5 0.2 1.5 -0.3 1.5 2.3 1.7 -1.2 1.3 0.4 1.5 -1.6 1.5 2.1 1.5 -1 1.5 0.4 1.5 1.2 1.7 0.6 1.3 -1.3 1.5 -0.2 1.5 0.7 1.5 -0.5 1.5 -0.6 1.5 -1.5 1.7 1.3 1.3 0.3 1.5 -0.8 1.5 -0.4 1.5 0.8 1.5 -0.8 1.2 -1.2 0.3 -0.2 1.5 -6.6 1.5 -2.9 1.5 -2.5 1.5 -4.7 1.5 3.2 1.5 -1.6 1.5 4.5 1.5 -1.2 1.5 4 0.9 -0.5 0.6 1 1.5 -3 1.5 1.2 1.5 -3.9 1.2 0.5 1.8 -1.7 1.5 -0.8 1.5 -2.4 1.5 0.9 1.1 -1.2 0.4 -0.4 1.5 3.5 1.5 2.4 1.5 1.2 1.5 -0.5 1 3.2 0.5 1.6 1.5 -0.9 1.5 -1.8 1.5 -1.8 1.5 -0.1 1.5 0.6 0.4 -1.8 1.1 0.3 1.5 1.9 1.5 -0.1 1.5 -0.1 1.5 2.6 1.5 -1.5 1.5 1.4 0.4 -0.3 1.1 -3.1 1.5 -0.4 1.5 -3.7 1.5 0.7 0.8 -1.9 0.7 -1.1 1.5 2.1 1.5 2.1 1.5 2 1.5 3.4 1.7 2.1 1.3 -1.3 1.5 2.5 1.5 -0.7 1.5 -1.4 1.5 0.2 1.1 -1.5 0.4 2.3 1.5 1.4 1.5 6 0.8 0.9 0.7 -0.7 1.5 2 1.5 -0.1 1.5 0 1.5 3.2 1.8 -0.2 1.2 -0.5 1.5 2.6 1.5 -1.9 1.5 1.6 1.5 1.6 1.5 -0.6 1.5 -2.5 0.3 1.8 1.2 0.2 1.5 0.3 1.5 0.2 1.5 2.6 0.3 -1.1 1.2 0.6 1.5 2.2 1.5 0.8 1.5 0.7 1.5 -0.7 1.3 2.7 1.7 0.2 1.5 -4 1.5 0.8 1.5 -1.8 1.5 -1.7 0.7 0.2 0.8 1.2 1.5 1.8 1.5 -3.1 1.5 4.3 1.5 -1.3 1.6 1.3 1.4 -3.1 1.5 0.3 1.5 -4.3 1.5 -0.9 1.5 0.6 1 -3.2 0.5 1.2 1.5 2.4 1.5 0.6 1.5 1.9 1.5 2 1.5 3 0.5 -0.5 1 -0.2 1.5 -3.6 1.5 -0.5 1.5 -1.1 1.5 -1.4 1.4 -1.7 1.6 3 1.5 -1.3 1.5 2.4 1.7 2.3 1.3 -1.3 1.5 0.9 1.5 1.2 1.5 3.1 1.5 0.4 1.2 -0.1 0.3 0.6 1.5 -4.5 1.5 -3.1 1.5 0.8 1.5 -4.4 1.5 1.1 1.5 -4.5 1.5 0.8 1.5 0.2 1.5 -0.4 0.9 -1.4 0.6 2.7 1.5 1 1.5 1.9 1.5 0.9 1.2 4.1 1.8 5.4 1.5 2.7 1.5 2 0.5 0.4 5.3 -21.1 1.7 3.2 1.5 -2.1 1.5 2.8 1.5 0.8 1.5 0.8 0.7 0.8 0.8 1 1.5 0 1.5 -1.3 1.5 -0.6 1 -1.2 0.5 2.2 1.5 4.4 1.5 4 0.7 2.1 0.8 -2 1.5 0.3 1.5 -4.5 1.5 0.2 1.5 -2.9 1.7 -1.7 1.3 1.3 1.5 0.1 1.5 2.7 1.5 -2.2 1.5 -0.1 1.1 2.5 0.4 1 1.5 -5.6 1.5 -3.1 1.5 -2.5 1.4 -2.5 2.1 23.2 1 2.3 1.5 0.7 1.7 3.3 1.3 -1.7 1.5 -1.7 1.5 -2.2 1.5 -2.9 1.5 -1 1.2 -1 0.3 -0.7 1.5 -1.7 1.5 1.4 1.5 -2.8 1.5 -0.4 1.5 2.1 1.5 3 1.5 1.6 1.5 1.3 1.5 2.3 0.9 0.2 0.6 -1.6 1.5 -3.3 1.5 -2 1.5 -2.1 1.3 -1.5 1.7 2.5 1.5 0.9 1.5 2.2 1.5 2.7 1.5 2.1 0.7 2.2 0.8 -0.7 1.5 -4.5 1.5 -4.9 1.5 -2.6 1 -2 0.5 0.2 1.5 -4.9 1.5 -3.9 0.7 -2 0.8 -0.8 1.5 -1.5 1.5 0.9 1.5 -2.9 1.5 2.1 1.7 -2 1.3 1 1.5 -1.5 1.5 1.2 1.5 -0.3 1.5 -1.9 1.5 1.7 1.5 -1.9 1.5 0.7 0.8 1 0.7 -0.5 1.5 -0.4 1.5 1.6 1.5 1.3 1.5 -2.6 1.5 2 1.5 -2.5 0.8 1.1 0.7 0.4 1.5 -2.3 1.5 -0.1 1.5 -2.7 1.5 2 1.5 -3.4 1.5 0.2 0.9 -0.4 0.6 -0.9 1.5 2.1 1.5 -0.8 1.5 0 1.2 -0.4 0.3 0.7 1.5 -3.5 1.5 -2.3 1.5 1.6 1.5 -2.8 1.5 2.7 1.5 2.1 1.5 0.2 1.5 -0.6 1.5 4.5 1 -0.5 0.5 -0.2 1.5 -3.6 1.5 -2.1 1.5 -0.8 1.3 -1.7 1.7 2.9 1.5 0.3 1.5 1.6 1.5 -0.6 1.5 3.2 0.7 -1.1 0.8 -2.3 1.5 0.9 1.5 -3.4 1.5 -2.5 1.5 -1 1.5 -1.2 1.5 0.7 0.7 -1.8 0.8 1.1 1.5 3.4 1.5 3.5 1.5 1.6 1.1 3.1 0.4 0.1 1.5 -1.4 1.5 -0.5 1.5 -3.1 1.5 -0.1 1.5 -1.1 0.5 -2.3 1 2.4 1.5 0.6 1.5 1.4 1.5 1.3 0.8 2.7 0.7 -0.2 1.5 -6.2 1.5 -1.7 1.5 -3.7 1.5 -5.1 1.7 -2.1 1.3 5.9 1.5 4.4 1.5 7 1.5 5.4 0.6 0.5 0.9 -4.1 1.5 -1.7 1.5 -6.5 1.5 -2.5 0.9 -2.1 0.6 2 1.5 7.6 1.5 4 1.5 3.9 1.2 5.7 1.8 -0.3 1.5 -1.7 1.5 0.3 1.5 1.7 1.5 0 0.6 -2.1 0.9 1.1 1.5 -2.8 1.5 3.3 1.5 -1.7 1.5 1.5 1.5 -2.7 1.5 -0.1 1.5 3 1.3 -1.6 1.7 -3.9 1.5 -0.1 1.5 0.1 1.5 -2.5 1.5 -3.6 0.7 -0.5 0.8 2.2 1.5 -0.3 1.5 0.7 1.5 -0.3 1 -0.2"/>
<path stroke="#00ff00" d="M172.5 407.2l1.5 -3.7 1.5 -5.5 1.5 -5.2 0.4 -2.5 3.1 21.1 4.3 -35.8 1.2 -5.5 1.5 -4.2 1.5 -1.2 1 -3.9 0.5 -1.8 1.5 -2.9 1.5 -0.3 1.5 -3.4 1.5 -3.5 0.9 0.3 0.6 0 1.5 4.7 1.5 1.8 1.5 3.7 1.2 3.5 1.8 -2.8 1.5 -2.8 1.5 -1.7 1.5 -2.2 1.5 -0.1 1.5 0.4 1.5 -0.6 0.8 1.4 0.7 0.3 1.5 7.3 1.5 2.6 0.5 1.4 1 -3.2 1.5 -1.4 1.5 -2.1 1.5 -6.2 0.8 0.2 0.7 -2.2 1.5 -0.1 1.5 1.7 1.6 -1.5 3.2 20 1.2 -2.7 1.5 -4.9 1.5 -0.6 1 -4.4 0.5 0.5 1.5 -3.2 1.5 -3.4 1.5 -0.4 1.5 -3.2 0.9 -0.8 0.6 1.2 1.5 1.4 1.5 3.6 1.7 2.2 1.3 -2.1 1.5 1.1 1.4 -3.2 1.6 0.8 1.5 3.7 1.1 -0.3 0.4 -0.9 1.5 2 1.5 -1.3 1.5 -1.8 1.4 -0.1 1.6 -2.6 1.5 2.9 1.5 -4 0.7 1.6 0.8 -1.7 1.5 -4.9 0.9 -5 3.1 -17.9 2.1 -25.3 3.2 -14.8 1.2 3.5 1.5 4.7 1.5 5.5 1.5 -1.9 1.5 -3.6 1.2 -1.8 1.8 -1 1.5 2.7 1.5 -1 1.5 1.4 1.5 -2 1.5 1 1.5 -1.2 1.5 -4.7 0.4 1.6 1.1 -3.5 1.5 -2.5 1.6 -2.4 1.4 3.7 1.5 1 1.5 2.2 1.5 4.6 0.4 0.1 1.1 1.3 1.5 0.4 1.5 -2.4 1.2 0.7 0.3 1 1.5 -2.9 1.5 -2.9 1.5 -0.1 0.4 -2.5 1.1 0.6 1.5 4.4 1.5 -0.2 1.2 3.6 1.8 -1.2 1.5 -5.1 1.5 -0.2 1.5 -3 1.1 -2.1 0.4 2.7 1.5 2.9 1.5 4.7 1.5 4.6 0.3 2 1.2 -0.6 1.5 -3.8 1.5 -1.3 1.1 -3.8 0.4 1.6 1.5 -2.8 1.5 2 1.5 -1.6 1.4 1.8 1.6 1 1.5 5.8 1.5 2.2 1.5 2.8 1.3 0.9 1.7 -2.9 1.5 -2.4 1.5 -4.6 0.6 -0.6 0.9 -1.2 1.5 -3.8 1.5 -3 1.4 -0.5 1.6 4.2 1.5 1.1 1.5 3.9 0.6 -0.7 0.9 -0.5 1.5 -1.2 1.5 1.5 1.5 -0.3 0.9 -1.7 0.6 -0.7 1.5 6 1.5 0.9 1.7 5.4 4.2 -21 1.6 5.5 1.5 1.1 1.1 2.8 0.4 -1.9 1.5 -1.6 1.5 -1.5 1.5 0.2 0.4 -1.5 4.2 25.3 1.4 -3.1 1.5 -5.6 1.5 -7.9 0.9 -2.4 0.6 1.3 1.5 6.5 1.5 4.1 1.5 7.7 1.5 3.2 0.8 4.6 0.7 -4.6 1.5 -1.5 1.5 -8.1 1.5 -4.7 1.5 3.3 1.5 3.1 1.5 2.6 0.8 3.6 0.7 -0.3 1.5 -3.8 1.5 -4.2 0.5 -3.3 1 -3.3 1.5 -2.3 1.5 -1.1 1.3 -2.8 1.7 7.1 1.5 6.6 1.5 5.9 0.6 1.5 0.9 -3 1.5 -2.1 1.5 -4.2 1.5 -3.5 0.9 -0.9 0.6 -1.5 1.5 1 1.5 3.1 1.5 -1.9 1.2 0.4 0.3 1.3 1.5 3.8 1.5 4.9 0.9 0.5 0.6 -1.6 1.5 -3.3 1.5 -3 1.5 -3 1.2 -1.7 1.8 1.2 1.5 -2.6 1.5 -0.1 1.6 0.4 1.4 3.4 1.5 3.3 1.5 1.7 1.5 2.3 1.5 4.1 1 3.1 0.5 -2.7 1.5 -1.1 1.5 -4.9 1.5 -3 1.3 -0.9 1.7 -2.3 1.5 0.7 1.8 -2.6 1.2 3.5 1.5 -0.4 1.5 3.9 1.5 3.7 0.6 -0.2 0.9 -3.7 1.5 0.1 1.5 -6.5 1.5 -1 1.5 -2.5 1.5 -5.4 1.5 3.3 1.5 3.1 1.5 5.6 1.5 5.7 0.3 -0.8 1.2 -1.3 1.5 1.7 1.5 -3.6 1.5 2.4 1.7 -2.4 1.3 -2 1.5 0.9 1.5 -1.9 1.5 -1.1 0.5 -2.2 1 0.4 1.5 -1.9 1.5 -1.7 1.3 -2.1 1.7 5.2 1.5 3.7 1.5 7 0.6 1 0.9 -0.8 1.5 -4.1 1.5 -3.1 1.3 -0.4 1.7 5 1.5 2.4 1.5 3.4 1.5 4.7 1.2 1.3 1.8 -5.1 1.5 -4.3 1.5 -4.3 1.5 -3.1 1.5 4.7 1.5 3.2 1.5 4.8 0.8 2 0.7 -1.5 1.5 1.7 1.5 -0.4 1.5 0.5 1.1 1.8 0.4 -1.7 1.5 -0.7 1.5 -4.7 1.5 -3 1.5 -2.2 1 -2.4 0.5 0.6 1.5 4.1 1.5 7 1.5 4.9 1.3 4.5 1.7 -6.4 1.5 -4.5 1.5 -5.4 1.6 -6.9 1.4 3.6 1.5 3.9 1.5 3 1.5 4.7 0.5 1.6 1 -0.9 1.5 -0.3 1.5 -1.7 1.5 -4.3 1.5 -0.2 0.3 -1 1.2 -1.8 1.5 0.1 1.5 1.8 1.5 1.4 1.7 -1.5 1.3 0 1.5 -0.8 1.5 -3.5 1.5 0.3 0.5 -1.3 1 0.8 1.5 -2.8 1.5 0.4 1.5 -0.8 1.5 -1.5 1.5 -1.3 1.5 4.2 1.5 2.9 1.5 1.1 1.5 1 1.5 2.9 0.9 2.6 0.6 -2.5 1.5 -2.1 1.5 -2.7 1.5 -6.4 1.2 -1 1.8 2.6 1.5 0 1.5 2.2 1.5 0.1 1.5 3.8 0.7 -0.3 0.8 -2.3 1.5 3 1.5 -1.4 1.5 -1.5 1.5 -2.2 1.6 0.2 3.1 14.7 1.3 -2.1 1.5 -3.6 1.5 -4.6 1.5 -3.7 1.6 -4.9 1.4 6 1.5 4.9 1.5 2.4 1.5 6.4 1.5 3.4 5.3 -33.7 6.3 25.3 0.4 -0.2 1.5 -0.7 1.5 1.2 1.5 0.4 1.4 1.4 6.3 -27.4 4.2 19 1.6 -1.2 1.5 0.3 1.5 1.1 1.8 -0.2 1.2 -1.3 1.5 -3.3 1.5 -0.3 1.5 -1.6 0.6 -1.9 0.9 1.5 1.5 1.1 1.5 -1.3 1.5 0.2 1.5 1.9 0.5 -1.3 1 1.4 1.5 -0.4 1.5 -0.3 1.5 0 1.5 -0.3 0.3 1.7 1.2 2.4 1.5 -1.3 1.5 4 1.5 0.7 0.7 0.5 0.8 1 1.5 -2.3 1.5 -0.6 1.5 -4.9 1.5 0 0.5 -0.6 1 1.6 1.5 0.8 1.5 2.7 1.5 1.4 1.5 2.6 0.4 0.4 1.1 -3.4 1.5 -0.3 1.5 -1.9 1.5 -2.6 0.7 -0.2 0.8 -0.2 1.5 1.9 1.5 0 1.5 -0.4 1.5 1 1.7 -0.2 1.3 -1.9 1.5 -1.5 1.5 0.3 1.5 0.6 1.5 0.3 1.1 -2 0.4 1.9 1.5 1 1.5 4.1 1.5 0.2 1.5 3.7 1.5 0.6 0.5 1.1 1 -0.2 1.5 -0.9 1.5 -4.6 1.5 -2.5 1.5 0 1.4 -2.3 1.6 -1.4 1.5 -2.1 1.5 0.8 1.5 -0.6 1.5 -0.9 0.9 0 0.6 2 1.5 0.4 1.5 2.1 1.5 2.2 1.5 0.9 1.5 0.5 0.3 0.3 1.2 1.6 1.5 0.4 1.5 0.8 1.5 0.7 1.5 -0.1 0.9 0.8 0.6 -0.4 1.5 -2.5 1.5 -1.3 1.5 -3.1 1.3 -3.2 1.7 -0.4 1.5 -1 1.5 -2 0.5 -0.8 1 0.9 1.5 2.1 1.5 4.2 1.3 1.2 1.7 -1.5 1.5 -3.1 1.5 1.2 1.6 -2.9 1.4 1.2 1.5 -0.2 1.5 3.4 1.5 2.4 0.4 -0.5 1.1 -1.4 1.5 -1.8 1.5 -0.3 1.5 -4 0.8 1.2 0.7 0.5 1.5 2.8 1.5 -0.1 1.5 -0.1 1.1 1.1 0.4 0.9 1.5 0.1 1.5 -1 1.5 0.5 1.4 1.6 1.6 -3.6 1.5 -3.3 1.5 0.5 1.7 -4.1 4.2 27.3 5.3 -21 0.8 2.2 1.5 -0.5 1.5 3.1 1.5 0.2 1.5 3 0.6 0.4 0.9 -1.9 1.5 1.6 1.5 -0.6 1.5 -3 1.5 -1.4 1.5 2.1 1.5 -1.9 0.6 -1.2 0.9 2.2 1.5 -1.7 1.5 5 1.5 0.4 1.5 0.2 1.5 2 1.5 2.8 0.6 -0.4 0.9 0.1 1.5 -4.3 1.5 -0.2 1.5 -3.7 1.5 1.3 1.5 -4 1.5 -0.1 1.7 -3.8 1.3 2.6 1.5 1.2 1.5 3.6 1.5 1 1.6 4.2 1.4 -0.2 1.5 -2.5 1.5 0.4 1.5 -3.1 1.5 0.7 1 -1.6 0.5 1.2 1.5 -0.5 1.5 0.3 1.5 2.3 1.5 1.5 1.5 -0.4 0.5 1.9 1 -2.3 1.5 -2 1.5 0.7 1.5 -0.4 1.5 -4.1 1.4 -0.3 1.6 0.4 1.5 0.1 1.5 0.2 1.5 -1.8 1.5 -1.4 0.8 0.4 0.7 1.3 1.5 -2.9 1.5 2.3 1.5 -2.3 1.5 1.2 1.8 0.4 1.2 0.3 1.5 0.2 1.5 1.2 1.5 3.4 0.6 -0.9 0.9 0.1 1.5 1 1.5 -1 1.5 2.6 0.9 -0.6 0.6 -1.5 1.5 -0.9 1.5 -0.8 1.5 -1.6 1.5 -5.8 1.5 1 1.4 -3 1.6 3.4 1.5 4.1 1.5 4.6 1.5 5.3 1.3 1.5 1.7 0.4 1.5 -1.5 1.5 -3.4 1.6 0.3 1.4 -4.3 1.5 -2 1.5 -0.4 1.5 -4.9 0.4 1.1 1.1 -0.8 1.5 -1.4 1.5 1 1.5 1.1 1.5 -0.1 1.3 -1.9 1.7 0.3 1.5 5 1.5 -1.3 1.5 2.8 1.5 1.2 0.8 2.5 0.7 -2.2 1.5 -1.5 1.5 1.3 1.5 -0.8 1.5 -1.4 1.5 -0.6 1.5 -1.9 0.8 -1.3 0.7 0.4 1.5 2.8 1.5 3.3 1.5 0.5 1.5 0.3 1.7 3.2 1.3 0.8 1.5 -2.5 1.5 -2.1 1.5 -0.1 1.5 -1.3 1.2 -1.1 0.3 -0.1 1.5 -2.4 1.5 0.6 1.5 -0.4 1.5 -1.5 1.5 2.2 1.5 -2.5 1.2 -0.1 0.3 0.9 1.5 1.7 1.5 1.6 1.5 1.5 1.5 1.6 1.5 -0.5 0.6 1.6 0.9 2.8 1.5 -1.8 1.5 4.6 1.5 1.2 1.5 1.5 1.6 0.1 1.4 -3.1 1.5 1.4 1.5 -2.8 1.5 -1.9 0.4 0.1 1.1 1 1.5 -5.1 1.5 0.7 1.5 -1.6 1.7 -1.3 1.3 2.1 1.5 4.2 1.5 3.7 1 0.5 4.2 -16.8 0.8 3.9 1.5 2.3 1.5 5.1 0.4 3.4 1.1 -2.6 1.5 -1.6 1.5 -4.6 1.5 -3.8 0.8 0 0.7 0.7 1.5 -1 1.5 -0.8 1.5 -3.2 1.1 0.1 0.4 0.2 1.5 1.3 1.5 3.2 1.5 1.1 1.4 2.6 1.6 3.8 1.5 3.3 1.5 1 0.4 0.3 1.1 -4.1 1.5 -1.1 1.5 -4.2 1.5 -1.1 1.5 -4.4 1.5 -2.9 0.9 -3.3 0.6 2.1 1.5 2.4 1.5 4.4 1.5 2.8 1.2 1 0.3 -1.1 1.5 -1.7 1.5 -0.2 1.5 -0.5 1.5 -2.9 1.5 -0.1 0.6 0.2 0.9 1.7 1.5 0.4 1.5 5.6 1.5 1.9 0.9 0.9 0.6 -1.3 1.5 -1.6 1.5 -1.3 1.5 -1.6 1.5 0.2 1.5 -2.5 0.4 -0.3 1.1 1.4 1.5 0.2 1.5 4.8 1.5 -0.7 1.7 2.7 1.3 -3.5 1.5 1.5 1.5 -4.2 1.5 -0.4 1.6 -3.9 1.4 4.2 1.5 1.8 1.5 3 1.5 2.5 0.4 -1 1.1 -0.9 1.5 -5.7 1.5 -1.4 1.5 -2.8 0.8 -1.8 0.7 3.4 1.5 2.2 1.5 2.7 1.5 3.1 1.1 1.2 0.4 -1.2 1.5 0.1 1.5 -3.5 1.5 -3.2 1.5 -2 1.5 -0.2 0.5 -2.6 1 0.8 1.5 -0.4 1.5 1.1 1.5 3.2 1.5 0.6 1.5 2.5 1.5 -1.8 1.6 2.4 1.4 -0.7 1.5 -4.3 1.5 -1.5 1.5 0.1 1.5 -2.8 1.5 -2.3 0.6 0.9 0.9 0.6 1.5 4 1.5 2.1 1.5 0.7 0.9 3.2 0.6 -3.1 1.5 -0.3 1.5 -4.3 1.5 -5.3 1.5 -0.7 0.8 -3.2 0.7 -0.2 1.5 4.8 1.5 5.3 1.5 2.9 1.5 1.7 0.7 2.4 0.8 0.8 1.5 -2.4 1.5 -0.2 1.5 -1.1 1.5 -3.1 1.5 -0.3 1.5 -1.7 1.5 0.3 1.3 -2.9 1.7 2.2 1.5 1.5 1.5 1.9 1.5 -1.9 1.5 0.9 0.7 1.8 0.8 0.8 1.5 -0.2 1.5 -1.3 1.5 -0.4 1.5 -0.7 1.5 1.6 1.5 -0.6 0.8 -1.3 0.7 0.8 1.5 -1.2 1.5 4.3 1.5 -0.6 1.5 -0.1 1.5 1.5 1.5 2.5 1.5 -1.7 1.4 2.9 1.6 -2.8 1.5 0.5 1.5 -2.5 1.5 -0.9 1.5 -3.6 0.8 -1.2 0.7 -0.1 1.5 -0.8 1.5 -0.9 1.5 -0.7 1.5 0.4 1.8 -2.2 5.2 23.2 0.5 -1 1.5 0.3 1.5 -0.3 1.8 -1.1 1.2 -1.2 1.5 -7.1 1.5 -1.9 1.5 -2.5 1.7 -6.3 1.3 2.2 1.5 1.4 1.5 2.2 1.5 4.3 1.5 0.5 1.5 0.1 1.5 0.3 1.5 -0.5 1.5 -0.9 1.5 -2.5 1.5 -0.2 1.6 -0.5 1.4 2.7 1.5 4.9 1.5 2.4 1.5 2.8 1.5 4 1.5 -5.2 1.5 -2.7 1.5 -3.4 1.5 -5.3 1.3 -1.3 1.7 1.3 1.5 4.5 1.5 1 1.5 0.8 1.5 4.9 0.8 -0.9 0.7 -1.5 1.5 -0.1 1.5 -0.2 1.5 -1.4 1.5 -2.1 1.7 -1 1.3 0.9 1.5 2.1 1.5 0.2 1.5 3 1.5 0.1 1.1 0 0.4 -2.2 1.5 -2 1.5 1.2 1.5 -5 1.5 -3 1 0.5 0.5 -0.4 1.5 2.6 1.5 3.6 1.5 -0.5 1.5 3 0.9 0.1 0.6 0.7 1.5 -4.5 1.5 0.6 1.5 0.1 1.5 -3.3 1.5 -1.6 0.3 -0.4 1.2 0.3 1.5 3.5 1.5 1.2 1.5 -2.3 1.5 2.9 1.2 0.7 1.8 -0.6 1.5 -3.4 1.5 -0.5 1.5 -1.1 1.5 -0.3 0.7 -0.4 0.8 1.6 1.5 1 1.5 0.4 1.5 0.3 1.5 -1.6 1.5 2 1.5 1.9 1.5 -0.8 1.3 1.5 1.7 0.6 1.5 -4 1.5 2 1.5 -3.9 0.9 1.1 0.6 0.1 1.5 3.3 1.5 -1.5 1.5 2.6 1.5 0.8 0.8 1 0.7 1.2 1.5 -0.4 1.5 -3.5 1.5 0 1.5 0.9 1.7 -2.4 1.3 -0.8 1.5 2.5 1.5 -1.3 1.5 1 1.5 -1.6 1.1 2.3 0.4 1.7 1.5 -2.2 1.5 0.2 1.5 -0.8 1.5 -3.7 1.5 0.2 1.5 -1.3 1.1 -0.4 0.4 2.3 1.5 5.7 1.5 3 1.5 5.5 0.4 2.4 1.1 -2.2 1.5 -5.4 1.5 -5.3 1.2 -1.8 0.3 -1.6 1.5 0 1.5 -1.3 0.9 -1.3 0.6 3.9 1.5 3.4 1.5 5.5 1.5 3.3 1.5 6.2 0.8 3 0.7 -3 1.5 -2.6 1.5 -6 1.5 -4.5 1.5 -3.7 0.6 -1.3 0.9 1.4 1.5 2.1 1.5 3.7 1.5 0.9 1.5 5.4 1.6 1.2 1.4 -2 1.5 -4.1 1.5 -1.2 1.5 -0.8 1.5 -2.4 1 -2.1 0.5 1.1 1.5 0 1.5 -2.7 1.5 0.3 1.5 -1 1.5 -1.2 0.4 1.4 1.1 -0.1 1.5 2.3 1.5 1.2 1.5 3.7 1.5 2.5 1.4 0.9 1.6 -2.1 1.5 -4.5 1.5 -2.7 1.5 -1.1 1.5 -1.4 0.8 -2.9 0.7 -0.5 1.5 -1.9 1.5 -0.2 1.5 0.9 1.1 0.6 0.4 0.6 1.5 -1.5 1.5 1.1 1.5 2.4 1.5 1.8 1.5 -2.1 0.5 0.9 1 1.3 1.5 1.2 1.5 -0.5 1.5 2.8 0.9 1.5 0.6 -2.1 1.5 -1 1.5 0.5 1.5 -1.8 1.5 -4.1 1.8 0.1 1.2 2.9 1.5 0 1.5 3.3 1.5 2.4 0.6 1.9 0.9 -3.3 1.5 -2.5 1.5 -2.1 1.5 -1.5 0.9 -1.1 0.6 2.6 1.5 1.4 1.5 0.9 1.5 4.2 1.3 1.4 1.7 -3 1.5 -3.4 1.5 -0.1 1.5 -5 1.5 -0.8 0.7 -2.4 0.8 2.7 1.5 4.8 1.5 3 1.5 5.1 1 1.2 0.5 -1 1.5 -0.9 1.5 -2.3 1.5 -2.3 1.3 -1.9 1.7 -2.7 1.5 -3 1.5 -0.5 1.7 -4.4 1.3 1.6 1.5 -0.5 1.5 3.3 1.5 0.2 1.5 1.7 1.5 2.3 1.7 2 1.3 -0.6 1.5 0.6 1.5 1.5 1.5 0.3 0.5 0.3 1 -2.9 1.5 -4.9 1.7 -2.7 1.3 1.8 1.5 1.1 1.5 1.5 1.5 2.7 1.5 1 1.2 0.3 0.3 0.1 1.5 -5.1 1.5 -1.4 1.5 -1 1.5 -3.2 5.2 27.4 0.8 -3 1.5 -1.4 1.5 -3.8 1.5 -5.9 1.5 -1.7 0.6 -3.1 0.9 -2.3 1.5 1.3 1.5 -3.4 1.5 -1.2 0.9 -0.7 0.6 -0.7 1.5 4.1 1.5 1 1.5 3.8 1.5 2.8 1.5 1.5 0.4 0.1 1.1 -2.6 1.5 2.8 1.5 -1 1.5 -2 1.5 -2 1.5 -0.1 1.5 0.4 0.4 -1.8 1.1 0 1.5 1.6 1.5 -0.4 1.5 -0.4 1.5 2.3 1.5 -1.8 1.5 1.1 0.4 -0.3 1.1 -2.3 1.5 0.9 1.5 -2.5 1.5 1.9 1.5 -3.5 1.4 1.3 1.6 1.7 1.5 3.1 1.5 4.5 1.7 3.3 1.3 -2.9 1.5 0.6 1.5 -2.5 1.5 -3.3 1.5 -1.6 1.1 -2.9 0.4 2.1 1.5 1.1 1.5 5.6 1.5 1.1 1.5 4.7 1.5 2.5 0.6 1.8 0.9 -3 1.5 -0.1 1.5 -2.1 1.5 -5 1.5 -0.4 1.5 -4.1 1.5 -0.4 1.5 0.4 1.5 -1.9 1.5 -3.9 0.3 1.6 1.2 2.2 1.5 3 1.5 2.8 1.5 5.2 0.3 -0.5 1.2 0.6 1.5 2.2 1.5 0.8 1.5 0.7 1.5 -0.7 1.3 2.7 1.7 0.2 1.5 -4 1.5 0.8 1.5 -1.8 1.5 -1.7 0.7 0.2 0.8 1.2 1.5 1.8 1.5 -3.1 1.5 4.3 1.5 -1.3 1.6 1.3 1.4 -3.1 1.5 0.3 1.5 -4.3 1.5 -0.9 1.5 0.6 1 -3.2 0.5 1.2 1.5 2.4 1.5 0.6 1.5 1.9 1.5 2 1.5 3 0.5 -0.5 1 -0.2 1.5 -3.6 1.5 -0.5 1.5 -1.1 1.5 -1.4 1.4 -1.7 1.6 3 1.5 -1.3 1.5 2.4 1.7 2.3 1.3 -1.3 1.5 0.9 1.5 1.2 1.5 3.1 1.5 0.4 1.2 -0.1 0.3 0.6 1.5 -4.5 1.5 -3.1 1.5 0.8 1.5 -4.4 1.5 1.1 1.5 -4.5 1.5 0.8 1.5 0.2 1.5 -0.4 0.9 -1.4 0.6 2.7 1.5 1 1.5 1.9 1.5 0.9 1.2 4.1 1.8 5.4 1.5 2.7 1.5 2 0.5 0.4 5.3 -21.1 1.7 3.2 1.5 -2.1 1.5 2.8 1.5 0.8 1.5 0.8 0.7 0.8 0.8 1 1.5 0 1.5 -1.3 1.5 -0.6 1 -1.2 0.5 2.2 1.5 4.4 1.5 4 0.7 2.1 0.8 -2 1.5 0.3 1.5 -4.5 1.5 0.2 1.5 -2.9 1.7 -1.7 1.3 1.3 1.5 0.1 1.5 2.7 1.5 -2.2 1.5 -0.1 1.1 2.5 0.4 1 1.5 -5.6 1.5 -3.1 1.5 -2.5 1.4 -2.5 4.2 21.1 0.4 -1.5 1.5 -2.1 1.5 -3.3 1.5 -2.8 1.5 -3.4 1.5 -4 0.6 0.2 0.9 -0.6 1.5 -0.3 1.5 -1.1 1.5 2.2 1.5 -2.1 1.5 -1.1 1.5 1.3 0.6 -0.4 0.9 2.6 1.5 1.7 1.5 1.4 1.5 2.4 0.9 0.4 0.6 -1.4 1.5 -2.6 1.5 -1.3 1.5 -1.4 1.5 -2.1 1.5 -1.1 1.5 -3 1 0.2 4.2 19 0.8 -1.7 1.5 -6.3 1.5 -6.6 1.5 -4.3 1.5 -3.5 1.6 -7.1 1.4 4.3 1.5 3.9 1.5 3.7 1.5 6.2 0.4 0.8 1.1 -3.8 1.5 -0.1 1.5 -6 1.5 -0.2 0.8 -2.5 0.7 -0.3 1.5 1.5 1.5 -0.1 1.5 -1.5 1.5 1.9 1.5 -1.6 1.5 1 0.8 1.2 0.7 -0.5 1.5 -0.4 1.5 1.5 1.5 1.3 1.5 -2.5 1.5 2 1.5 -2.5 0.8 1.1 0.7 0.3 1.5 -2.5 1.5 -0.4 1.5 -2.9 1.5 1.8 1.8 -2.6 1.2 1.7 1.5 1.5 1.5 4.4 1.5 1.3 1.5 2.4 1.2 1.3 0.3 0.6 1.5 -4 1.5 -2.7 1.5 1 1.5 -3.3 1.5 3.8 1.5 3.2 1.5 1.3 1.5 0.6 1.5 5.6 1 0.2 0.5 -0.1 1.5 -3.4 1.5 -2.1 1.5 -0.6 1.5 -3.5 1.5 1.3 0.4 -2.1 1.1 1.4 1.5 1.2 1.5 -1 1.5 2.9 1.5 -2.4 1.3 2.1 1.7 -2.6 1.5 -2.6 1.5 -1 1.5 -1.2 1.5 0.8 0.7 -1.8 0.8 0.6 1.5 2.5 1.5 2.6 1.5 0.7 1.5 3.6 1.5 2.2 1.5 3.1 0.8 -0.6 0.7 -0.8 1.5 -0.5 1.5 -1.4 1.5 -2.7 1.5 -3.3 1.7 -1.8 1.3 -1 1.5 3.7 1.5 -2 1.5 2.4 1.5 0.4 1.1 0.7 0.4 -3.2 1.5 -5.4 1.5 -3.5 0.9 -4.7 5.2 29.5 1.4 -4 1.5 -7.7 1.5 -3.6 1.5 -5.1 1.5 -4.9 4.2 21.1 1.8 -3.1 1.5 -3.9 1.5 -2 1.5 -0.5 1.5 -2.2 0.6 -3.1 0.9 1.7 1.5 -1.7 1.5 4.5 1.5 -0.7 1.5 2.7 1.6 -0.2 1.4 -1.7 1.5 2.6 1.5 -2.8 1.5 -1.4 1.5 1.5 1 -0.3 0.5 1.7 1.5 -1.5 1.5 -2.7 1.5 1.5 1.5 -1.7 1.5 -0.7 1.5 -1.7 1 -1.2"/>
</g>
<g font-size="46" fill="#262626" stroke="#262626" stroke-width="0.7"><text transform="translate(172.20 486.90) scale(1 1.045)" text-anchor="middle">0</text><text transform="translate(368.73 486.90) scale(1 1.045)" text-anchor="middle">200</text><text transform="translate(565.26 486.90) scale(1 1.045)" text-anchor="middle">400</text><text transform="translate(761.79 486.90) scale(1 1.045)" text-anchor="middle">600</text><text transform="translate(958.32 486.90) scale(1 1.045)" text-anchor="middle">800</text><text transform="translate(1154.85 486.90) scale(1 1.045)" text-anchor="middle">1000</text><text transform="translate(1351.38 486.90) scale(1 1.045)" text-anchor="middle">1200</text><text transform="translate(1547.91 486.90) scale(1 1.045)" text-anchor="middle">1400</text><text transform="translate(1744.44 486.90) scale(1 1.045)" text-anchor="middle">1600</text><text transform="translate(1940.97 486.90) scale(1 1.045)" text-anchor="middle">1800</text><text transform="translate(2137.50 486.90) scale(1 1.045)" text-anchor="middle">2000</text><text transform="translate(157.2 425.90) scale(1 1.045)" text-anchor="end">-0.5</text><text transform="translate(157.2 318.07) scale(1 1.045)" text-anchor="end">0</text><text transform="translate(157.2 210.24) scale(1 1.045)" text-anchor="end">0.5</text><text transform="translate(157.2 102.40) scale(1 1.045)" text-anchor="end">1</text></g>
<text x="1155" y="549.80" text-anchor="middle" font-size="50.5" fill="#262626" stroke="#262626" stroke-width="0.7">Time (sec)</text>
<text transform="translate(54.80 249.45) rotate(-90)" text-anchor="middle" font-size="50.5" fill="#262626" stroke="#262626" stroke-width="0.7">North (m)</text>
<path d="M370.93 651.40V1002.50M567.46 651.40V1002.50M763.99 651.40V1002.50M960.52 651.40V1002.50M1157.05 651.40V1002.50M1353.58 651.40V1002.50M1550.11 651.40V1002.50M1746.64 651.40V1002.50M1943.17 651.40V1002.50M174.40 992.40H2139.70M174.40 827.20H2139.70M174.40 662.00H2139.70" stroke="#dfdfdf" stroke-width="3" fill="none"/>
<path d="M174.40 1002.50v-21.50M174.40 651.40v21.50M370.93 1002.50v-21.50M370.93 651.40v21.50M567.46 1002.50v-21.50M567.46 651.40v21.50M763.99 1002.50v-21.50M763.99 651.40v21.50M960.52 1002.50v-21.50M960.52 651.40v21.50M1157.05 1002.50v-21.50M1157.05 651.40v21.50M1353.58 1002.50v-21.50M1353.58 651.40v21.50M1550.11 1002.50v-21.50M1550.11 651.40v21.50M1746.64 1002.50v-21.50M1746.64 651.40v21.50M1943.17 1002.50v-21.50M1943.17 651.40v21.50M2139.70 1002.50v-21.50M2139.70 651.40v21.50M174.40 992.40h21.50M2139.70 992.40h-21.50M174.40 827.20h21.50M2139.70 827.20h-21.50M174.40 662.00h21.50M2139.70 662.00h-21.50" stroke="#262626" stroke-width="4" fill="none"/>
<rect x="174.40" y="651.40" width="1965.30" height="351.10" stroke="#262626" stroke-width="3.5" fill="none"/>
<clipPath id="c1"><rect x="171.40" y="648.40" width="1971.30" height="357.10"/></clipPath>
<g clip-path="url(#c1)" fill="none" stroke-width="6.8" shape-rendering="crispEdges" stroke-linejoin="round" stroke-linecap="round">
<path stroke="#0000ff" d="M172.2 793.8l0.3 1.4 1.5 -1.6 1.5 -1.8 1 -0.2 0.5 1.1 1.5 2.5 1.5 -0.1 1.9 -75.2 2.2 -27.9 1.9 8 1 60 1 25.1 1.1 -45 0.8 -35.1 1.1 64.9 1.5 25.2 1.5 -35.1 1.6 -10 0.9 -1.7 0.6 -3.3 0.8 29.9 1.1 20.2 0.5 0.3 1.5 -5.3 1.9 9.9 1.8 -10.6 0.8 2.9 1.5 1.9 1.5 -1 1.6 2.7 1.4 -3.1 1.5 0 1.5 -0.5 1 -2.9 0.5 -1 1.5 1.1 1.5 -0.6 1.5 1 1.5 1.7 1.5 -0.4 1.5 4.8 1.5 0.8 0.9 -0.9 0.6 0.7 1.5 3.1 1.1 0.6 2.2 -30.4 2.2 -17.3 0.5 2.1 1.5 3.6 1.2 3 3.3 19.5 4.3 26 1.7 1.5 1.5 -0.1 1.5 -0.8 0.7 -0.6 0.8 -4.3 1.5 -3.4 1.5 -6.1 1.6 -3.6 1.4 1.1 1.5 3.1 1.5 2.3 1.5 1.1 1.5 -0.9 1.5 2.1 1.5 -0.2 0.5 0.1 1 1.4 1.5 1 1.5 2.8 1.5 1.6 1 1.9 0.5 2.7 1.5 4 1.2 4.1 2.2 -15.2 2.1 26 1.1 39 1.1 54.1 1.1 54.2 1.7 -0.4 1.5 1.5 1.1 -1.1 4.3 -27.1 4.4 20.6 0.7 -0.5 1.5 4.2 1.5 3 1.5 4.7 1.3 1.6 1.7 -5.1 1.5 -3.9 1.5 -3.7 0.7 -0.3 0.8 0 1.5 5.8 1.5 3.6 1.5 0.1 1.5 5.1 0.8 0.5 0.7 1.1 1.5 -4.5 1.5 0 1.5 -2 1.3 -1.1 1.7 -0.2 1.5 -4.9 1.5 -0.8 1.8 -0.6 1.2 2.8 1.5 2.8 1.6 3.1 1.4 -0.4 1.5 -0.7 1.5 -4 1.5 -2.6 0.6 1.2 0.9 -1.1 1.5 -5.5 1.5 -1 1.5 -3.2 3.2 15.1 1.3 3.7 1.5 6 1.6 7.7 1.4 -2.8 1.5 -4 1.4 -6.2 1.6 2.7 1.5 -0.6 1.5 0.3 1.5 1.2 0.4 0.7 1.1 1.2 1.5 0.3 1.5 0.4 1.3 2.4 1.7 -3.5 1.5 -4.2 1.5 -3.4 1.5 -2.8 1.4 -5.6 1.6 0 1.5 -1.3 1.5 -3.2 1.5 -0.5 1.5 -1.5 1.5 2.5 1.5 4.5 1.5 2.5 0.9 3.5 0.6 3.7 1.5 1.8 1.5 6.6 1.5 4.6 0.3 0.7 1.2 -2 1.5 -5.5 1.5 -6.5 1.2 -3.4 4.4 -38.9 2.1 -49.9 2.2 -45.4 4.3 26 4.3 30.3 4.4 -32.5 3.2 -17.3 3.3 23.8 0.6 -0.6 1.5 0.3 1.5 -0.6 1.5 -3.8 1.4 0.4 1.6 0.9 1.5 0 1.5 1 0.8 0.2 0.7 4.4 1.5 4 1.5 4.9 0.6 4 0.9 3.3 1.5 -1 1.5 2.4 1.5 4 1.5 -3.7 1.5 -3.1 1.5 -1.5 1.5 -2.1 1.5 -5.1 1.2 -1.8 3.2 17.3 1.6 -5.5 1.5 -7.4 1.5 -4.9 0.9 -1.7 4.3 28.2 0.8 -1.4 1.5 -4.1 1.5 -3.1 1.5 -4.2 1.2 -2.4 0.3 -0.2 1.5 4.7 1.5 6.7 1.5 1 0.6 3 5.4 -28.2 1.5 1.8 1.5 7 1.3 2 1.7 8.3 1.5 5.3 1.5 4.5 0.8 3.6 0.7 -1.6 1.5 -2.7 1.5 -7.4 1.5 -4 1 -1.6 0.5 1.1 1.5 8.2 1.5 3.7 0.8 4.3 0.7 -2.1 1.5 -0.9 1.5 -2.5 1.7 -3.2 1.3 -3.5 1.5 -6.6 1.5 -4.6 1.5 -4.4 0.7 -0.3 0.8 -0.3 1.5 5.9 1.5 3.8 1.7 1.4 1.3 3.1 1.5 2.5 1.5 5.7 1.5 4.9 0.7 1.1 3.2 -21.7 2.2 -47.6 3.2 26 4.3 21.6 3.3 -32.4 1.1 -65 1.1 -65 2.1 -32.5 1.3 -2.8 1.5 -0.6 1.5 -3.1 1.1 0 0.4 -0.5 1.5 6.6 1.5 3.3 1.5 4.6 0.6 3.4 5.4 -30.3 1.5 1.5 1.5 1.4 1.5 1.7 0.9 -0.3 0.6 1.4 1.5 4.6 1.5 5 1.8 4.1 3.2 -25.9 1 0.9 1.5 -0.1 1.5 1.5 1.5 2 1.5 1.5 1.5 3.6 1.5 -0.2 0.9 1.6 0.6 0.4 1.5 -2.8 1.5 0.1 1.8 0.1 1.2 -3.7 1.5 -1.2 1.6 -3.7 2.2 19.4 2.1 49.9 1.1 54.1 0.5 2.2 1.5 2.8 1.3 1.5 4.3 -43.3 4.3 19.5 4.4 23.8 3.2 -26 0.5 3 1.5 2.2 1.5 2.1 0.9 3.5 5.4 -26 3.2 21.7 1 -0.9 1.5 -6 1.5 -4.7 1.4 -3.6 1.6 2.8 1.5 2 1.5 0.7 1.5 -0.9 0.4 1.9 1.1 5.8 1.5 5 1.8 4.4 6.5 -26 4.3 23.8 0.9 0.2 1.5 0 1.5 2.4 1.5 -0.4 1.1 17.3 1.1 75.8 2.1 54.2 2.2 43.3 2.2 17.3 3.2 -15.2 1.6 -5.3 1.5 -5 1.5 -4.9 0.8 -4.3 0.7 2 1.5 7.7 1.5 5.5 1.7 4.3 1.3 5.1 1.5 5.2 1.5 3.7 1.2 3.4 0.3 -2.4 1.5 -1.4 1.5 -4.5 1.5 -2 0.6 -2.7 0.9 0.7 1.5 2.2 1.5 3.7 1.5 4.2 5.4 -23.8 4.3 26 4.4 -26 1 -69.3 1.1 -65 1.1 -65 1.1 -73.6 3.2 36.8 2.2 56.3 5.4 -30.3 6.5 -28.1 1.8 5.4 1.5 5.7 1 6.2 4.4 21.6 0.6 -0.7 1.5 -8.7 1.5 -2.1 1.5 -6.2 1.4 -6.1 1.6 6.2 1.5 2.8 1.5 3 1.5 8.4 0.4 -0.9 1.1 3.6 1.5 4.3 0.6 0.8 5.4 -34.7 5.4 52 5.5 -39 1.1 -1 1.5 3.3 1.5 1.5 1.3 0.5 1.7 4.8 1.5 4.5 1.5 5.4 0.7 2.7 3.2 23.8 0.6 -3.7 1.5 -2.7 1.5 -3.7 1.5 -8 0.4 0.8 1.1 -0.2 1.5 4.8 1.5 -1.3 1.5 3.4 0.8 -0.2 0.7 -1.9 1.5 1.7 1.5 -1.7 1.5 0.8 1.3 1.1 1.7 2.3 1.5 0.6 1.5 1.1 1.5 1.8 0.3 0.7 1.2 -2.2 1.5 -5.5 1.5 -4.2 1 -1.1 5.4 23.8 1.1 -3.4 1.5 -2.9 1.5 -6.7 1.5 -3.5 1.5 -6.4 0.5 -0.9 1 2.5 1.5 4.4 1.5 3.2 1.5 3.1 1 1.9 0.5 -1.8 1.5 -4 1.5 -1.3 1.5 -2 1.5 -3.9 1.5 1.9 1.5 0 1.5 -0.6 1.5 3.1 0.5 0 1 2.4 1.5 2.4 1.5 2.8 1.4 4.3 2.2 -50.9 2.1 -54.2 2.2 -34.6 3.2 30.3 0.9 -0.4 1.5 0 1.5 1.6 1.6 -1.2 1.4 -2.8 1.5 -5.2 1.5 -6.2 1 -3.1 0.5 0.2 1.5 -4.8 1.5 -2 1.5 -5.2 1.5 -3.4 1.5 6.4 1.5 4.9 1.3 3.9 1.7 6.9 1.5 3.6 1.5 7 0.7 2 5.4 -34.7 4.4 26 1.5 3.6 1.5 6.4 1.3 3 4.3 -17.3 0.4 1.3 1.5 1.2 1.5 0.9 1.5 0.5 1.6 0.4 4.3 -17.3 1.6 -4.4 1.7 -2.1 1.3 5.1 1.5 4.9 1.5 5.2 2.2 30.3 2.2 43.3 1 43.3 1.1 43.3 0.7 82.3 2.6 -39 2.1 -45.5 4.4 19.5 1.7 2.4 1.5 -1.2 1.5 1.6 1.8 1.6 1.2 2.1 1.5 3.4 1.5 1.3 1.5 2.9 0.8 3.3 0.7 1.4 1.5 -0.6 1.5 1.3 1.7 2.2 3.2 -21.7 3.3 -21.6 5.4 43.3 1.4 -4.9 1.5 -5.1 1.5 -6.6 1.5 -7.3 0.6 -2.1 0.9 -2 1.5 0.4 1.5 0.1 0.4 -0.7 1.1 -1.5 1.5 2.8 1.5 -0.3 1.5 0.8 0.9 0.4 0.6 -1 1.5 2.1 1.5 4.3 1.5 0.5 1.4 2.8 1.6 2.8 1.5 -2 1.5 3.9 1.5 1.8 1.5 0 1.5 -3.9 1.5 -7 1.5 -2.9 1.5 -2.8 0.5 -2.9 1 1.2 1.5 2.9 1.5 3.3 1.4 1.2 1.6 2 1.5 3.4 1.5 1.8 0.8 1.5 0.7 -1.2 1.5 -2.3 1.5 -0.4 1.7 -0.4 4.4 -28.2 1.4 1.3 1.5 3.6 0.3 1.6 3.3 17.3 1 -60.6 2.2 -65 3.3 -60.6 4.3 17.3 0.6 -0.5 1.5 -5.3 1.5 -1.7 0.7 -3.3 3.3 19.5 3.2 -15.2 3.3 -15.1 1.5 -1.1 1.5 -1.2 1.5 -3.1 0.9 1 0.6 0.2 1.5 4.9 1.5 1.8 1.8 1.8 1.2 0.4 1.5 -5.4 1.5 0.5 1.2 -2 1.8 8.6 1.5 4.4 2.1 54.1 2.2 43.3 1.1 43.4 0.6 1.9 1.5 2.4 2.2 -36.8 0.8 -1.5 1.5 -6.5 0.9 -0.7 3.3 30.3 0.3 0.4 1.5 6.3 1.5 3.1 1 5.4 3.3 -15.2 3.2 17.3 1.5 -4.2 1.5 -1.6 1.4 -5 4.3 -19.5 4.3 23.9 0.5 -1.9 1.5 -3.8 1.5 -3.4 1.5 -4.5 0.4 0.6 1.1 0.1 1.5 -3.5 1.5 -2.8 1.3 -0.3 1.7 -6.6 1.5 -2 1.5 -8.3 0.8 -0.5 4.3 34.7 0.8 2.2 4.3 -28.2 1.8 3 1.5 3.2 1.1 4.6 0.4 2.2 1.5 -1.1 1.5 1.3 1.5 4.6 0.5 -0.5 1 -1.4 1.5 -4.7 1.5 -0.3 1.5 -2.7 1 -1.7 0.5 2 1.5 -0.3 1.5 -0.8 1.5 2.9 1.5 0.5 3.2 17.4 1.3 -4.8 1.5 -8.1 0.5 -0.1 1.1 56.3 2.1 64.9 2.2 54.2 2.2 21.6 3.2 -19.5 5.4 -32.4 4.4 25.9 1.4 -0.9 1.5 -0.3 1.5 1.3 1.5 0.8 1.6 -0.9 1.4 1.2 1.5 1.6 1.5 3.4 1.5 2 0.6 0.5 0.9 -1.7 1.5 -5.5 1.5 -8.7 1.5 -3.6 4.4 17.3 1.6 2.2 1.5 2.9 1.5 2.5 1.5 0.1 0.4 1 1.1 -4.6 1.5 -2.6 1.5 -1.8 1.5 -3.6 1.5 -4.9 0.5 0.2 1 2 1.5 -1.4 1.5 2 1.5 3 1 0.9 0.5 1.5 1.5 4.2 1.5 0.9 1.5 4.7 1.5 1.7 1.5 2.3 0.6 2 0.9 -1 1.5 -6.7 1.5 -3.9 1.5 -5.7 1.5 0 1.5 -3.1 1.5 -3.2 1.5 -1.4 0.5 1.2 1 1.6 1.5 3.7 1.5 2.2 1.5 6.4 1.5 2.2 0.6 1.2 0.9 0.5 1.5 -3.3 1.5 -1.5 1.5 -4.6 1.5 -2.6 1.5 -1.3 1.5 -1.4 0.9 -1 0.6 -0.3 1.5 7.4 1.5 1.3 1.5 5.8 1.5 0.9 1 4.4 0.5 -0.4 1.5 -7.6 1.5 -4.9 1.5 -5.2 1.5 -5.5 1.1 -4.5 0.4 0.1 1.5 3.3 1.5 3.9 1.5 4.1 1.5 1.2 1.2 4.7 0.3 -1.7 1.5 -3.7 1.5 0.1 1.5 -3.6 0.6 -1.9 0.9 4 1.5 3.9 1.5 2 0.4 3.1 3.3 -28.2 1 -54.1 2.2 -60.7 3.3 41.2 0.3 -1.5 1.5 1.8 1.5 0.6 1 1.3 4.3 -23.9 0.7 3.2 1.5 0.3 1.5 4.9 1.5 2.8 1.5 0.4 0.9 3.6 0.6 -1.1 1.5 -2.3 1.5 -6.9 1.5 -2.7 1.4 -2.2 5.4 23.9 0.7 0.8 1.5 4.2 1.5 2.5 1.5 4.1 1.3 1.3 1.7 -4.4 1.5 -5.6 1.5 -5.9 0.7 -3.5 0.8 3.9 1.5 3.5 1.5 3.1 0.6 2.4 0.9 4.1 1.5 1.2 1.5 3.6 1.5 4.1 5.4 -36.8 4.3 23.8 0.8 1.8 1.5 3.5 1.5 1.5 1.5 4.2 1.5 2.4 0.8 1.8 0.7 -3.3 1.5 -2.8 1.5 -1.8 1.5 -1.7 1.5 -5.2 0.9 -0.4 0.6 1.4 1.5 -3.7 1.5 -2.3 1.5 -1 1.5 1.7 1 -2.5 0.5 1.5 1.5 -0.2 1.5 -1.9 1.5 2.8 1.5 -0.1 1.5 3.6 1.5 3.8 1.5 6.9 1.5 5.1 0.4 0.1 1.1 -4.1 1.5 -1.6 1.8 -7.3 1.2 3.5 1.5 0 1.5 4.9 1.5 1.9 1.5 0.4 0.4 2.3 1.1 -2.4 1.5 -4.5 1.7 -6.1 1.3 -0.1 1.5 0.3 1.5 3.1 1.5 -0.2 0.7 1.2 0.8 -0.8 1.5 1.2 1.5 -0.9 1.5 2.5 1.5 -1 1.5 0.3 0.4 0.9 1.1 -1.4 1.5 -1.5 1.5 -1.5 1.5 -2.2 0.8 0.1 0.7 -0.7 1.5 -3.4 1.5 -5.4 1.5 -3.3 1.3 -4.5 4.4 -26 4.3 34.7 1.9 -47.7 2.2 -86.6 2.1 -47.7 1.8 -2.1 1.5 -2.2 1.5 2.2 1.5 5.9 1.5 1.8 0.9 3.1 3.3 -19.5 0.3 -3 1.5 -3.8 1.5 -4.3 1 -4 0.5 1.8 1.5 3.2 1.5 0.4 0.8 3.2 0.7 0.9 1.5 6 1.5 7.4 0.7 0.9 4.3 -30.3 1 4 1.5 4.5 1.5 3.6 0.3 3 1.2 2 1.5 3.3 0.6 -1 0.9 -2.1 1.5 -4.3 1.5 -7.1 0.4 0.6 1.1 4.3 1.5 6.5 1.7 4.3 3.3 -15.1 2.1 51.9 1.1 43.3 2.2 34.7 3.2 -47.7 1.4 -0.4 1.5 0.9 1.5 1.7 1.5 -1.2 1.5 -0.5 1.3 -0.5 3.2 17.4 3.3 21.6 4.3 -28.1 1.4 2 1.5 1 1.5 3.5 1.5 1 1.5 0.4 1.5 2.1 0.9 0.8 4.3 -26 0.8 2.6 1.5 1.3 1.5 6.2 1.6 2.9 1.4 1.5 1.5 1.8 1.4 1 4.4 21.7 1.7 -2.8 1.5 -2.7 1.5 -3.8 1.8 -1.5 1.2 1.5 1.5 1.7 1.5 0.7 1.2 0.4 0.3 0.6 1.5 1.2 1.4 4.7 1.1 65 2.2 64.9 2.2 54.2 2.1 10.8 5.4 -23.8 0.6 0 1.5 -7 1.5 -2 0.8 -1.8 4.3 17.3 4.3 17.3 1.1 1.7 1.5 4.5 1.8 6.8 1.2 -2.1 1.5 -5.3 1.6 -5.6 1.4 -6.3 1.5 -4.8 1.4 -4.1 1.6 0.8 1.5 2.3 1.5 -2.4 0.8 1.5 0.7 0.3 1.5 1.3 1.5 1.5 1.7 1.2 1.3 -4.6 1.5 -7 1.6 -3.5 2.1 15.1 2.2 -121.2 1.1 -108.3 1.1 -65 2.1 32.5 2.2 39 2.2 39 3.2 -32.5 1.7 -2.6 1.5 1.7 1.5 -4.7 0.7 1.2 5.4 -30.3 1.4 4.6 1.5 4.3 1.5 4.5 1.1 1.8 4.3 19.5 3.2 15.1 3.3 -28.1 1.6 -7.6 1.5 -1.9 1.2 -5.7 3.3 28.2 1.5 3.9 1.7 4.7 1.3 -4 1.5 -1.9 1.5 -3.8 1.5 -3.7 0.7 -3.9 0.8 1.9 1.5 3.3 1.5 2.6 0.5 0.9 1 -0.8 1.5 -3.4 1.5 -5.3 1.5 -1.8 1 -1.7 1.1 -32.5 1.1 -32.5 4.3 -17.3 1.5 5.6 1.5 3.2 1.5 5.5 1 3 0.5 3 1.5 2.9 1.5 5 0.8 2.1 4.3 -19.5 0.9 -2.4 1.5 -0.9 1.5 -3 1.5 -0.2 1.5 0.8 1.5 4.5 1.4 1.2 1.6 -3.3 1.5 -5.3 1.5 -6.1 0.8 -2.6 5.4 26 1.3 -3.1 1.5 0.6 1.5 -3.5 1.5 -4.3 1.5 -0.8 1.4 -1.9 1.6 4 1.5 1.7 1.5 0.3 1.5 4.6 1.4 2.4 1.6 -1.4 1.5 0.2 1.5 -1.1 1.5 -0.9 1.5 1 1.5 -1.7 1.5 -7.5 1.3 -1.6 4.4 17.3 0.3 -1.2 1.5 -3.6 1.5 -5.6 1.6 -4.7 1.4 -0.2 1.5 3.9 1.5 1.3 1.5 -0.9 1.7 2.3 1.3 -2.5 1.5 0.9 1.5 -2.7 1.5 0.6 1.5 2.9 1.5 1.2 0.9 1.8 0.6 -2.1 1.5 -6.1 1.5 -2.5 1.5 -7 0.3 0.4 1.2 -0.1 1.5 3.8 1.5 3.2 1.5 1.3 0.8 0.5 0.7 1.1 1.5 -1.4 1.5 0.9 1.5 1.5 1.3 0 1.7 -3.1 1.5 -0.8 1.5 -5 1.5 -0.1 1.5 -3.8 1.5 -2.4 0.6 0.1 0.9 3.1 1.5 3 1.5 0 1.5 4.7 1.5 -2.1 1.5 -1.2 1.5 -1.6 1.5 -0.6 0.5 -1 1 0.9 1.5 1.4 1.5 5 1.5 2.1 1 -0.7 0.5 2.3 1.5 3.1 1.5 3.5 0.8 -0.3 5.4 -32.5 1.3 5.6 1.5 5.6 1.5 7.4 1.1 3.1 0.4 -2.2 1.5 0.6 1.5 -2.4 1.5 -0.1 1.6 -0.2 1.4 1.4 1.5 0.5 1.5 0.3 1.5 -0.5 0.6 0.4 0.9 3.6 1.5 6.9 0.9 2.5 2.1 43.3 1.1 43.3 1.1 65 2.2 84.5 2.1 -62.8 2.2 -28.2 0.3 -0.8 1.5 1.8 1.5 2.3 1 3.2 3.3 30.3 1.7 -2.5 1.5 -4.9 1.5 0.9 1.8 -4.3 4.3 21.7 1.4 -2.8 1.5 -6.1 1.5 -3.9 1.5 -3.4 0.6 -3.3 0.9 2 1.5 6.3 1.5 4.4 0.4 0.3 1.1 -4.2 1.5 -6.9 0.7 -1.9 2.1 17.3 1.1 47.6 3.3 65 3.2 -21.7 3.3 -23.8 5.4 28.2 0.4 -1.3 1.5 3.1 1.5 5 1.5 3.1 1.6 0.9 1.4 -2.8 1.5 -2.3 1.5 -1.9 1.5 -1.1 0.6 -2.7 2.1 13 1.8 -6.6 1.5 -2.4 1.5 -3.7 0.7 -2.5 0.8 0.9 1.5 4 1.5 2.2 1.5 6.2 1.5 2.5 0.7 1.5 0.8 -4.2 1.5 -2.9 1.5 -4.6 1.7 -7.8 2.1 -64.9 1.1 -65 1.1 -54.1 2.1 -33.6 2.2 31.4 2.2 52 3.2 -34.7 0.8 -1.3 1.5 -5.3 1.5 -7.2 0.6 -1.3 0.9 1.3 1.5 5.3 1.5 1.4 0.4 0.6 1.1 -1.3 1.5 0.9 1.5 3.5 1.3 -0.9 1.7 -0.1 1.5 4 1.5 -1.8 0.7 2.2 0.8 2.5 1.5 6.4 1.5 7.8 0.6 0.7 4.3 -21.7 4.3 -26 4.3 30.3 3.3 28.2 4.3 -39 1.4 -1.9 1.5 -0.2 0.4 -0.1 1.1 2.8 1.5 5.3 1.5 4.6 1.5 1.9 0.9 2.8 0.6 -1.7 1.5 0.6 1.5 2.9 1.5 0.7 1.4 -0.4 4.3 23.8 4.3 -32.4 2.2 41.1 2.2 65 2.1 64.9 2.2 23.9 3.2 -26 0.6 2.1 1.5 -2.1 1.5 1.1 1.5 0.2 1.5 1.5 1 -0.7 5.4 26 1.1 -2.6 1.5 -3.6 1.5 -1.8 1.5 -5.7 0.9 -1.4 0.6 -1.4 1.5 1.1 1.5 -3.3 1.5 0.8 0.3 -1.6 1.2 -2.5 1.5 0.1 1.5 -1.1 1.5 1.1 0.8 -1.9"/>
<path stroke="#ff0000" d="M174.3 791.6l2.2 -21.7 2.2 21.7 1 28.1 3.3 15.2 1.5 6.8 1.7 6.2 1.3 -3.7 1.5 -6.9 0.5 -2.4 1.1 -26 1.4 -1.8 1.5 1.5 1.5 -3.2 1 1.4 0.5 -1 1.5 1.9 1.5 1.6 1.5 -0.4 1.5 0 1.5 3.5 1.5 -1 1.5 1 0.9 3 0.6 -1.6 1.5 -1.1 1.5 -3.4 1.5 -1.3 0.3 0.9 1.2 -1.1 1.5 0.1 1.6 -1.1 1.4 -2.5 1.5 0 1.5 -1.7 1.1 -3.4 0.4 1.4 1.5 2.8 1.5 2.3 1.5 0.9 0.5 2.3 1 0.2 1.5 2.9 1.5 6.6 0.3 -1 2.2 41.1 4.3 -23.8 0.7 -0.9 1.5 -0.8 1.5 -3.5 1.7 -1.3 1.3 0.9 1.5 4.9 1.5 3.7 1.5 3.7 0.7 -0.2 0.8 -0.9 1.5 -3.8 1.5 -3.2 1.6 -5.1 1.4 0.8 1.5 2.8 1.5 2.4 1.5 1.4 0.6 -0.9 0.9 -0.3 1.5 1.5 1.5 0.3 1.5 -1.2 1.1 -0.3 0.4 1.5 1.5 2.7 1.5 4.6 1 2 4.3 21.7 3.2 -36.8 4.4 26 0.6 -2.3 1.5 -6.5 1.5 -4.4 1.8 -8.5 1.2 -0.8 1.5 -5.2 1.6 -0.5 1.4 2 1.5 1.3 1.4 3.2 1.6 2.3 1.5 2.8 1.3 1.4 2.1 -21.7 1.1 -3 1.5 -0.3 1.8 -1 1.2 -0.9 1.5 0.3 1.5 3.3 1.5 -0.6 1.5 -0.5 1.4 0.6 1.6 -0.2 1.5 1.9 1.5 -1.4 1.5 1.4 0.4 0.4 1.1 0.8 1.5 -0.1 1.5 -0.8 1.3 -2 1.7 1 1.5 -0.5 1.5 -0.1 0.8 1.7 0.7 0.5 1.5 2.4 1.5 1 1.5 0.5 1.3 0 1.7 -3.8 1.5 -3 1.5 -1.3 1.7 -2.7 1.3 0.9 1.5 3.3 1.5 3.3 1.5 2 0.7 1.3 0.8 -1.7 1.5 0.2 1.5 -1.3 1.5 -4 1.5 -3.4 1.5 -2 0.4 1.4 1.1 2.5 1.5 -1.8 1.5 4.2 1.5 0.9 0.9 0.6 0.6 -0.5 1.5 2.4 1.5 -2.6 1.5 1 1.4 1.9 1.6 -4.6 1.5 0.8 1.5 -4.9 1.5 -2.9 0.4 0.8 1.1 -2.6 1.5 1.4 1.5 -1.8 1.5 -0.2 0.9 -1.1 0.6 2.4 1.5 5.1 1.5 5.1 1.5 3.4 1.4 3.4 6.5 -28.1 1.1 4.2 1.5 2.3 1.7 6.5 1.3 -1.3 1.5 0.7 1.5 -1.5 1.5 -0.3 1.5 -0.2 1.4 -1.7 1.6 0.7 1.5 0.1 1.5 -3.7 1.5 3.1 1.5 -1.3 1 -1.1 0.5 -1.4 1.5 1.6 1.5 1 1.5 1.4 1.5 -1.8 1.5 1.1 1.5 1.5 1.4 -1.2 1.6 2.8 1.5 -0.9 1.5 1.7 1.5 -0.7 0.4 1.4 1.1 -0.3 1.5 -1.1 1.5 -2.2 1.5 -1.2 0.9 -1.7 0.6 -1.5 1.5 2 1.5 -0.4 1.5 -0.8 1.5 -2.5 1.5 0.3 0.5 -1.4 1 0.2 1.5 3.9 1.5 1.3 1.5 -0.6 1 1.7 4.4 -19.5 0.6 3.2 1.5 3.9 1.5 3.1 1.5 8.1 1.4 3.3 1.6 -1 1.5 -4.5 1.5 -1.3 1.5 -0.2 0.4 -1.6 1.1 1.6 1.5 4 1.5 5.5 1.5 4.8 0.8 1.4 4.4 -23.8 0.8 1.3 1.5 4.3 1.5 -0.9 1.5 3 1.2 3.1 0.3 0.5 1.5 0.8 1.5 3.5 1.5 1.5 1.5 1.3 1 1.1 0.5 1.3 1.5 -1.1 1.5 -1 1.5 0.3 1.5 0.5 1.5 -2.5 1.5 -6.7 1.5 -1.5 1.5 -3.5 0.5 -3.2 1 -0.4 1.5 -0.5 1.5 -2.3 1.5 0.6 1.5 -0.9 1.7 -0.8 1.3 2.6 1.5 8.8 1.5 3.1 1.5 4.6 0.7 2.6 0.8 -0.3 1.5 -3.4 1.5 -2.8 1.5 -1.7 1.1 -2.7 0.4 -1.7 1.5 1.9 1.5 -0.5 1.5 2.1 1.5 -0.1 1.5 -2.6 0.8 0.9 2.2 41.2 1.5 -2.3 1.5 -0.5 1.5 -1.7 1.5 -3.7 0.5 -0.5 1 1.3 1.5 2.5 1.5 4.7 1.5 4.3 1.5 -0.2 1.6 4.7 1.4 -5.1 1.5 -2.8 1.5 -3.3 1.5 -1.7 0.6 -2.2 0.9 2.1 1.5 5 1.5 5.9 1.5 2.8 1.5 7.4 1.8 4.9 1.2 -3.1 1.5 -5.1 1.5 -4.2 1.5 -2.7 0.8 -2.2 0.7 -1 1.5 -1.7 1.5 -1.4 1.5 -1 1.3 -1.4 1.7 2.2 1.5 4.8 1.5 3 1.8 3 1.2 0.5 1.5 -2.1 1.5 -0.1 1.5 -3.7 1.5 0.9 1.4 -2 1.6 -2.5 1.5 -6.4 1.5 -4 1.5 -1.6 0.4 -2.8 1.1 -0.1 1.5 4.6 1.5 1.1 1.5 -1.5 1.5 1.9 1.6 2.6 1.4 0.8 1.5 1.2 1.5 4.9 1.5 0.2 1.5 3.3 1.3 0.5 1.7 -2.6 1.5 -0.7 1.5 -4.6 1.5 -1.1 1.5 0 0.9 -1.9 0.6 2.3 1.5 1.7 1.5 -1.9 1.5 3 1.5 2.5 1.5 0.5 0.6 0.6 0.9 1.2 1.5 -1.2 1.5 0.2 1.5 0.9 1.5 0.5 1.8 2.7 1.2 -1.6 1.5 -1.8 1.5 -3.6 1.5 -1.9 0.8 0.3 0.7 -1.2 1.5 2.5 1.5 0.6 1.5 -0.2 1.3 -1.7 6.4 -32.5 1.3 -1.1 1.5 0 1.5 -0.3 1.5 -0.8 0.7 0 0.8 -0.9 1.5 -5 1.5 0.1 1.5 -2 1.5 -5.3 1.5 -1.5 0.4 -0.5 1.1 3.4 1.5 2 1.5 2.6 1.5 3.2 1.5 4.8 1.6 3.5 1.4 -2.3 1.5 -4.4 1.5 -4.3 1.5 -3.4 0.6 -3 0.9 2.4 1.5 2.1 1.5 3.8 0.4 0.4 1.1 -2.6 1.5 -1.6 1.5 -4.2 1.5 -5.7 0.9 -1.1 6.5 34.7 4.3 21.6 1.8 -1.3 1.5 -2 1.5 -3.4 1.7 -1.9 1.3 0.2 1.5 3.3 1.5 2.8 1.5 0.4 1.5 3.6 1.4 2.7 1.6 -2.2 1.5 -4.1 1.5 0.3 1.5 -3.6 0.4 -1.3 1.1 0.5 1.5 2.8 1.5 1.1 1.5 1.4 0.9 0.7 0.6 -1.2 1.5 0.6 1.5 -3.3 1.5 -1.7 1.5 -1.6 1.5 -1 0.5 -2.6 1 1.2 1.5 7.3 1.5 5.3 1.5 3 1.5 5.4 1.7 6 1.3 -4.5 1.5 -3 1.5 -3.4 1.5 2 1.5 5.6 1.5 1.6 1.5 2.8 0.5 1 1 -1.3 1.5 -6.6 1.5 -3.3 1.5 -6.5 1 -3.9 0.5 1 1.5 -3.7 1.5 1.3 1.5 -0.1 1.5 -3.6 1.5 2.8 0.7 -2.1 0.8 -0.5 1.5 2.7 1.5 0.3 1.5 2.8 1.2 1.2 0.3 0.4 1.5 -2.5 1.5 3.3 1.5 -2.4 1.5 0.1 1.5 0 1.5 -1.3 1.5 0.3 1.5 0.2 1.5 -0.7 1.5 -1.5 1.5 1.3 1.5 -2 1.2 0.5 0.3 -1.8 1.5 1.3 1.5 -0.3 1.5 0.9 1.5 2.8 1 -0.7 0.5 0.2 1.5 4 1.5 1.4 1.5 -0.8 1.5 3.8 1.5 -0.1 1.5 -5.3 1.5 1.4 1.5 -3.8 1.5 -1.6 1.2 -1.4 0.3 1.9 1.5 -2.9 1.5 1.1 1.5 1.7 1.5 -0.9 1.5 -1 1.5 2 1.5 -1.9 1.5 -0.7 1.5 -3.1 1.5 0.9 1.5 -1.8 1.5 -2.1 1.1 0.3 4.4 17.3 4.3 21.7 6.5 -36.8 1.7 6.5 1.5 3.8 1.5 3.1 1.5 2 0.3 1.9 1.2 -4.3 1.5 -0.4 1.5 -4 1.5 -4.1 0.8 -2.4 0.7 1.1 1.5 3.2 1.5 5.1 1.5 3 1.3 2.8 1.7 3.4 1.5 2.9 1.5 0.3 1.8 4.2 6.5 -26 0.7 0.4 1.5 5.3 1.5 5.2 1.5 5.3 1.3 3.3 1.7 -2.1 1.5 -3.9 1.5 -1.9 1.8 -0.7 1.2 3.8 1.5 4.8 1.6 4.4 1.4 -2 1.5 -3 1.5 -1.5 1.5 -0.4 0.6 -1.8 0.9 -0.4 1.5 -6.1 1.5 -2.8 1.5 -1.5 3.3 -17.4 1.2 -2.9 1.5 -1.4 1.5 -3 1.5 0 1.5 -4 1.4 -1.6 1.6 1.6 1.5 -3 1.5 0.6 1.5 0.5 1.5 0.4 1.5 -2.3 1.8 0 1.2 -1.1 1.5 3.7 1.5 -2.6 1.5 0.6 1.5 2.5 1.5 0.3 1.5 1.4 0.6 -0.5 0.9 -1 1.5 1.5 1.5 -3.2 1.5 0.2 1.5 1.4 1.8 -1 1.2 -0.8 1.5 1.7 1.5 -0.2 1.5 -1.6 1.5 -0.6 1.5 0.9 1.5 1.5 1.5 -1.5 1.3 0.6 1.7 0.1 1.5 -1.2 1.5 0.8 1.5 -0.5 1.5 -0.7 1.5 -2.5 1.6 -0.4 1.4 0.7 1.5 1.5 1.5 1.8 1.5 3.7 1.5 1.3 1.2 -0.3 1.8 -1 1.5 -0.4 1.5 -0.4 1.5 -0.2 1.5 -0.4 0.9 0.2 0.6 -2 1.5 -0.5 1.5 -1.1 1.5 -3 1.4 -2 1.6 2.2 1.5 0.3 1.5 4.2 1.5 2.4 1.5 -0.5 1.1 2.2 0.4 -1.3 1.5 3.9 1.5 2.1 1.5 2.1 1.6 1.8 1.4 -1.3 1.5 -1.4 1.5 -4.9 1.5 -0.1 0.6 -0.9 0.9 3.5 1.5 0.9 1.5 3.8 0.4 2.6 2.2 26 0.4 0.7 1.5 -6.3 1.5 -0.8 1.5 -4.9 1.6 -1.7 1.4 3.5 1.5 1.4 1.5 2.9 1.5 5.2 0.5 0 1 0.3 1.5 1.4 1.5 -1.1 1.5 0.1 1.5 2.9 1.7 -1.4 1.3 -3.5 1.5 -3.8 1.5 -3.3 1.5 -4 0.7 -2.8 0.8 2.5 1.5 -0.5 1.5 3.1 1.5 0.9 1.2 0.5 1.8 -1.4 1.5 -2.2 1 -2.9 0.5 1 1.5 -1.8 1.5 -3.2 1.5 -2.5 1.5 -2.1 1.5 1.9 1.5 -0.8 1.5 0.8 1.5 -0.4 1.5 3.2 1.2 -0.4 0.3 2.4 1.5 -0.6 1.5 1 1.5 2 1.5 2.8 1.5 1.3 0.9 1.9 0.6 2.1 1.5 -3.3 1.5 1.4 1.5 -0.4 1.5 2.5 1.5 0.9 0.5 -1 1 -1.3 1.5 -0.5 1.5 1.6 1.5 0.5 1.5 1.3 1.7 -1.6 1.3 -1.9 1.5 -0.1 1.5 -0.2 1.5 -0.3 1.5 1.5 1.3 -1.2 1.7 -0.7 1.5 0.3 1.5 0.7 1.5 0 1.5 2.7 1 -0.8 0.5 -2.4 1.5 -4.1 1.5 -4 1.7 -6.8 1.3 1.2 1.5 4.9 1.5 2.5 1.1 0 0.4 -0.9 1.5 -0.4 1.5 0.4 1.5 -3.1 0.5 -0.3 1 -2.1 1.5 -2.2 1.5 2.1 1.5 -2.1 1 -2.2 0.5 0.8 1.5 4.4 1.5 3.7 0.8 1.9 3.3 -15.1 3.2 34.6 4.3 -58.4 0.4 1.7 1.5 2.2 1.5 2.1 1.5 0.7 1.6 4.1 1.4 -3.1 1.5 -2.9 1.5 -0.2 1.5 -4 1.5 -2.1 1.3 -2.9 1.7 1.9 1.5 3.6 1.5 1 1.5 4.9 0.3 -0.5 1.2 -2.4 1.5 2.7 1.5 -0.4 1.5 -0.6 0.8 -1.5 0.7 -2.4 1.5 -0.7 1.5 0.3 1.5 -4 1.3 0.3 4.3 -17.3 4.4 23.8 0.5 2.2 1.5 1.5 1.5 5 1.5 -0.3 1.5 4.6 1.5 -3.8 1.5 -1.1 1.5 -2.6 1.5 -4 0.5 0.7 1 -0.6 1.5 -4.7 1.5 -2.6 1.5 -3.5 1.5 -1.8 1.6 -2 1.4 5 1.5 3.1 1.5 5.8 1.5 2.2 1.5 5.6 1.3 4.3 1.7 -2.2 1.5 -4 1.5 -4.2 1.8 -4.8 1.2 -1.9 1.5 -0.4 1.5 -3.6 1.5 -0.4 1.5 -2.1 0.4 -0.2 1.1 0.6 1.5 7.4 1.5 2.6 1.5 1.1 1.5 5.1 0.4 0.5 1.1 -3.3 1.5 -3.1 1.5 -2.7 1.5 -4.4 1.5 -3.3 0.5 -0.5 1 2.6 1.5 5.8 1.5 3.1 1.5 4.5 1.5 6.8 0.6 1 0.9 -3.1 1.5 -1.6 1.5 -5.5 1.5 -3.3 1.1 -3.8 0.4 -1 1.5 1.1 1.5 -3.8 1.5 -0.7 1.5 -1.1 1.5 1.4 1.5 -0.8 1.4 -1.6 1.6 1.7 1.5 3.7 1.5 1 1.5 0 0.4 2.2 1.1 -1.1 1.5 -0.2 1.5 -0.2 1.5 1.1 0.9 0.4 0.6 -0.3 1.5 6.9 1.5 1.5 1.5 3.8 1.4 3.3 1.6 -4.7 1.5 -5.2 1.5 -7.1 0.8 -2.5 0.7 0.7 1.5 3.3 1.5 1.4 1.5 4.5 1.5 4.2 0.9 1.1 0.6 1.3 1.5 -2.3 1.5 -2 1.5 -1.7 1.4 -1.8 1.6 0.9 1.5 1.5 1.5 2.8 1.5 -0.7 0.4 2 1.1 -2.7 1.5 -2.5 1.5 -1.9 1.5 -2.9 1.5 -3.8 1.6 -3.6 1.4 3.5 1.5 3 1.5 1.1 1.5 1.7 0.6 1.6 0.9 1.1 1.5 0.4 1.5 4 1.5 1 1.5 -3 1.5 -2.2 1.5 -2.6 0.9 -3.1 0.6 -0.9 1.5 3.8 1.5 -0.6 1.5 -0.9 1.5 0.3 1.5 1.4 0.5 1.3 1 1.5 1.5 2.5 1.5 0.5 1.5 4.4 1 -0.3 0.5 -1.9 1.5 -4.1 1.5 -5.9 0.9 -1.1 0.6 2.4 1.5 -2.2 1.5 4.2 1.5 -0.4 1.5 1.2 1.5 1.2 0.5 0.1 1 -2.2 1.5 0.6 1.5 -1.7 1.5 -2.7 1 -2.6 0.5 1.1 1.5 0.6 1.5 5.3 1.5 0.4 1.5 3.4 1.5 -6.2 1.5 -3.9 1.4 -5.1 1.6 0.4 1.5 3 1.5 -0.4 1.5 1.3 1.5 2.1 1 2.3 0.5 2.2 1.5 0.5 1.5 -0.3 1.5 -0.7 1.5 2.2 1.5 1 0.7 -0.6 0.8 -0.7 1.5 0.5 1.5 0.5 1.5 -3.5 1.5 0.3 1.5 0.7 0.4 0.1 1.1 -0.7 1.5 2 1.5 1.7 1.5 -0.6 0.8 1.9 0.7 -0.4 1.5 -2 1.5 0.2 1.5 -1.9 1.3 -0.2 1.7 -4.7 1.5 0.1 1.5 -4.6 1.5 0.7 0.3 -2.4 9.5 47.7 0.7 2.5 1.5 2.5 1.5 5.5 1.5 2.9 1.3 1.7 1.7 -4.9 1.5 -4.1 1.5 -3.6 1.5 -2.7 1.5 -5.7 1 -2.8 0.5 1.9 1.5 4.9 1.5 7.1 1.5 2.9 1.5 4.2 1.5 8 0.7 1.3 6.4 -26 0.4 -0.3 1.5 3.2 1.5 -0.1 1.5 2.2 1.6 3.7 1.4 2.4 1.5 2.2 1.5 1.2 1.5 5.2 1.5 2 1.3 2.2 1.7 -6.5 1.5 -4.6 1.5 -5.6 1.5 -5.7 0.3 0.7 1.2 4 1.5 3.3 1.5 1.8 1.5 3.8 0.8 0.1 0.7 -1 1.5 0 1.5 -3.8 1.5 0.6 1.3 -2.3 1.7 2.5 1.5 -2.5 1.5 3.5 1.5 -1.9 1.5 2.4 1 0.3 0.5 1.7 1.5 -4.2 1.5 0.6 1.5 -0.1 1.5 -0.3 1.5 -1.4 0.6 1.6 0.9 2.1 1.5 0.7 1.5 -0.7 1.5 0.9 1.1 1.3 0.4 0.1 1.5 -3.3 1.5 -1.2 1.5 2.3 1.5 -3.5 1.5 -0.3 0.8 -0.6 0.7 1.6 1.5 -0.2 1.5 -2.4 1.5 -1.5 1.5 0 1.5 2.1 0.4 -1.8 1.1 0.8 1.5 -3.9 1.5 1.4 1.5 -3 1.5 -0.7 1.6 -1.1 1.4 -1.2 1.5 -2.6 1.4 -4.8 4.4 -39 1.7 4 1.5 5.2 1.5 7.5 1.8 5 1.2 -1.7 1.5 -4.2 1.5 -4.6 1.5 -6.3 0.8 -0.6 0.7 0.6 1.5 0.4 1.5 -2.4 1.5 -2 1.3 1.3 1.7 0.9 1.5 3.1 1.5 -0.5 1.8 3 1.2 2 1.5 5.5 1.6 3.3 1.4 -2.3 1.5 -0.7 1.5 -1 1.5 -3 1.5 -3.4 1.3 -0.4 1.7 -0.7 1.5 -3 1.5 -3.6 1.7 -1.4 1.3 -3.3 1.5 1.6 0.5 -2.6 3.2 80.1 4.4 -19.5 0.9 0.1 1.5 1.3 1.5 3.7 1.5 -1.3 1.1 2.7 0.4 -0.8 1.5 2.3 1.5 -1.7 1.5 0.5 1.5 1.5 1.5 -1.1 0.7 1.5 0.8 -1 1.5 -4.6 1.5 -8.9 1.5 -3.2 1.2 -4 1.8 2.5 1.5 4.7 1.5 0.8 1.7 2.8 5.4 23.9 0.4 -0.4 1.5 -3.7 1.5 -5.3 1.5 -4.2 0.6 -1.6 0.9 1.7 1.5 -0.2 1.5 -0.1 1.5 2.2 1.1 -1.4 0.4 -1.9 1.5 0.4 1.5 -4.5 1.5 -0.2 1.6 -2.5 1.4 -0.2 1.5 1.3 1.5 0 1.5 0.1 1.5 -2.3 1.2 1.1 1.8 3.1 1.5 4.9 1.5 3.2 1.7 4 1.3 -3.5 1.5 -4.1 1.5 -5 1.5 -3.3 0.7 -3.6 0.8 -0.5 1.5 1.4 1.5 0.9 1.5 3.4 1.5 1.3 1.5 1.5 0.4 0.6 1.1 -0.1 1.5 3.3 1.5 -1.8 1.5 4.5 1.5 -0.2 1.5 0.8 1.5 0.3 1.5 -3.1 1.5 -1.3 1.5 -0.2 1.5 -2 1.5 0.2 1.5 0.3 0.4 -0.7 1.1 0.7 1.5 -0.3 1.5 2.1 1.5 -1.3 1.5 3.7 1.5 -0.5 1.5 -3.2 1.5 -2.7 1.5 -0.1 1.5 -1.7 1.5 -2.4 1.2 -2.9 0.3 -1.5 1.5 2.9 1.5 1.3 1.5 0.9 1.5 4.6 1.5 -2.2 0.8 2.6 0.7 -0.4 1.5 0 1.5 -0.1 1.5 -4.3 1.3 0.5 1.7 4 1.5 -0.1 1.5 3.5 1.3 3.4 1.7 -4.7 1.5 -2 1.5 -3.4 1.5 -2.5 0.3 -0.4 1.2 0.7 1.5 2.8 1.5 6.9 1.5 2 0.8 0.6 0.7 0.1 1.5 -4.1 1.5 -1.9 1.5 -0.8 1.3 -1.9 1.7 -3 1.5 -0.6 1.5 -4.8 1.5 -2.6 0.3 0.1 1.2 3.5 1.5 0.6 1.5 -0.3 1.5 3.4 0.8 1.5 0.7 0.9 1.5 -1.6 1.5 1.9 1.5 2.2 1.5 1.4 1.5 -0.3 0.5 -0.2 1 2.6 1.5 -0.2 1.5 1.2 1.5 3.3 1 -0.4 4.3 -17.3 0.7 -0.3 1.5 0.1 1.5 2.2 1.5 -0.7 1.5 0.9 1.5 0.8 0.5 1.3 1 0.7 1.5 0.6 1.5 1.8 1.4 1.3 1.6 6.5 1.5 6.1 1.5 2.8 0.8 4.1 6.5 -28.2 1.7 0.4 1.5 2.6 1.5 2.3 1.8 3.4 1.2 0.8 1.5 -2 1.5 -2.9 1.5 -0.8 1.5 -1.9 1.5 0.3 1.5 -4.2 1.5 -1.9 1.5 -3.7 1.5 -2.7 0.4 -2.7 1.1 -4.4 1.5 -2.3 1.5 -3.2 1.5 -4.7 0.9 -0.5 0.6 1.5 1.5 -2.2 1.5 1.7 1.5 -1 1.5 -1.8 1.5 1.3 0.6 0.5 0.9 -1.5 1.5 -1.6 1.5 -0.3 1.5 1 1.5 -3 1.8 1 1.2 -0.3 1.5 0.5 1.5 -1.6 1.5 2.2 1.5 -1.7 1.4 0.9 1.6 1.1 1.5 -1.7 1.5 0.6 1.5 0.7 1.5 2.1 1.1 -0.6 4.3 -17.3 0.6 0 1.5 3.3 1.5 3.2 1.5 2.5 0.3 1.8 1.2 -4.6 1.5 -3.7 1.5 -1.2 1.3 -3.5 1.7 3.6 1.5 2.6 1.5 -0.7 1.8 3.2 1.2 2.3 1.5 -2.1 1.5 2.6 1.5 0.7 1.5 1.9 1.4 -1.1 1.6 -3.1 1.5 -0.2 1.5 -4.1 1.5 -0.5 1.5 -2 1.1 -0.9 0.4 -0.8 1.5 4.8 1.5 3.3 1.5 4.1 1.6 3.7 1.4 -3.3 1.5 -1 1.5 -1.7 1.5 -3.2 0.6 0.6 0.9 2.9 1.5 2.1 1.5 3.2 0.4 2.6 6.5 32.5 0.6 -0.6 1.5 -3.9 1.5 -2.8 1.5 -6.1 1.5 -1.9 1.5 -3.5 0.6 -0.7 0.9 1.1 1.5 5.8 1.5 3.1 1.5 6.3 1.1 3.2 0.4 -0.4 1.5 -2.7 1.5 -2.8 1.5 -2.5 1.5 -3.2 1.5 -1 0.7 -0.4 0.8 1.9 1.5 -0.5 1.5 -0.5 1.5 2.4 1.5 -1.2 1.5 1.9 0.4 0.3 1.1 1.6 1.5 2.8 1.5 -0.8 1.5 2.3 1.5 3 1.5 -0.2 1.5 -1 1.5 -1.5 1.5 -2.3 1.5 -1.5 1.5 -2.1 1.2 -0.3 1.8 2.9 1.5 -0.9 1.5 3.2 1.5 -2.3 1.5 1.5 0.9 2.1 0.6 -0.4 1.5 -2 1.5 -0.9 1.5 1.4 1.5 -4.5 1.5 -0.9 0.5 0.8 1 -1.1 1.5 1.8 1.5 -1.8 1.5 -0.9 1.5 2.2 1.7 -0.2 4.3 -36.8 1.5 -0.2 1.5 -0.1 1.5 -0.6 1.5 0.7 1.5 0.2 1.2 -2.2 0.3 -0.5 1.5 0.8 1.5 2.9 1.5 -1.5 1.5 2.3 1.5 0.7 0.9 -0.3 0.6 2 1.5 4.1 1.5 2.5 0.7 0 0.8 -1.5 1.5 1.4 1.5 -0.9 1.5 -0.1 1.5 -1.1 1.5 -0.7 0.3 0.8 1.2 -0.2 1.5 -2.4 1.5 -2.7 1.5 -1.4 0.8 0.2"/>
<path stroke="#00ff00" d="M174.3 791.6l2.2 -21.7 2.2 21.7 1 28.1 3.3 15.2 1.5 6.8 1.7 6.2 1.3 -3.7 1.5 -6.9 0.5 -2.4 1.1 -26 1.4 -1.8 1.5 1.5 1.5 -3.2 1 1.4 0.5 -1 1.5 1.9 1.5 1.6 1.5 -0.4 1.5 0 1.5 3.5 1.5 -1 1.5 1 0.9 3 0.6 -1.6 1.5 -1.1 1.5 -3.4 1.5 -1.3 0.3 0.9 1.2 -1.1 1.5 0.1 1.6 -1.1 1.4 -2.5 1.5 0 1.5 -1.7 1.1 -3.4 0.4 1.4 1.5 2.8 1.5 2.3 1.5 0.9 0.5 2.3 1 0.2 1.5 2.9 1.5 6.6 0.3 -1 2.2 41.1 4.3 -23.8 0.7 -0.9 1.5 -0.8 1.5 -3.5 1.7 -1.3 1.3 0.9 1.5 4.9 1.5 3.7 1.5 3.7 0.7 -0.2 0.8 -0.9 1.5 -3.8 1.5 -3.2 1.6 -5.1 1.4 0.8 1.5 2.8 1.5 2.4 1.5 1.4 0.6 -0.9 0.9 -0.3 1.5 1.5 1.5 0.3 1.5 -1.2 1.1 -0.3 0.4 1.5 1.5 2.7 1.5 4.6 1 2 4.3 21.7 3.2 -36.8 4.4 26 0.6 -2.3 1.5 -6.5 1.5 -4.4 1.8 -8.5 1.2 -0.8 1.5 -5.2 1.6 -0.5 1.4 2 1.5 1.3 1.4 3.2 1.6 2.3 1.5 2.8 1.3 1.4 4.3 -19.5 0.4 0.2 1.5 5.3 1.5 1.8 0.9 3.5 0.6 -1.8 1.5 1.4 1.5 -2.5 1.5 -2.4 1.4 -1.2 1.6 1.4 1.5 3.4 1.5 0.1 1.5 3 0.4 0.8 1.1 -0.9 1.5 -2.6 1.5 -3.1 1.3 -4.2 1.7 5 1.5 3.1 1.5 3.5 0.8 3.5 0.7 -1.7 1.5 -2.2 1.5 -3.4 1.5 -4.1 1.3 -3.7 1.7 3.8 1.5 3.5 1.5 5.1 1.7 4.9 1.3 -4.9 1.5 -3.7 1.6 -4.4 1.4 3.8 1.5 3.3 1.5 6.1 1.5 4.5 0.6 -0.4 0.9 -3.5 1.5 -6.9 1.5 -5.6 1.5 -3.5 1.5 1.8 1.5 6.3 1.5 3.1 0.9 1.8 0.6 -1.1 1.5 0.9 1.5 -4.1 1.5 -0.5 1.4 0.5 1.6 -0.8 1.5 4.2 1.5 -1.4 1.5 0.6 0.4 1.7 1.1 -4.3 1.5 -1.2 1.5 -4.2 1.5 -2.8 0.9 -2.6 0.6 2.8 1.5 6.1 1.5 6.1 1.5 4.4 1.4 4.4 1.6 -3.3 1.5 -4.2 1.5 -3.7 1.5 -1.1 0.4 -0.7 2.2 -23.8 4.3 17.3 0.6 -1 1.5 -5.3 1.5 -4.1 1.5 -3.9 1.4 -5.2 1.6 3.9 1.5 2.9 1.5 -0.7 1.5 5.8 0.4 -1.1 1.1 -1.3 1.5 -5.4 1.5 -1.7 1.5 -2.3 0.9 -2.2 0.6 2.2 1.5 -0.6 1.5 2.3 1.5 2.7 1.4 -0.1 1.6 0.6 1.5 -2.9 1.5 -0.2 1.5 -2.8 0.4 0.9 1.1 3.2 1.5 3.4 1.5 2.2 1.5 3.4 0.9 0.8 0.6 -2.2 1.5 0.3 1.5 -2.2 1.5 -2.5 1.4 -4.2 1.6 3.3 1.5 0.1 1.5 4.4 1.5 1.8 0.4 -1 6.5 -28.1 6.5 28.1 1.6 -4.5 1.5 -7.8 1.2 -2.8 6.5 30.3 6.5 -34.6 0.8 2.1 1.5 5.8 1.5 0.6 1.5 4.5 1.2 4.3 0.3 -0.8 1.5 -5.2 1.5 -2.4 1.5 -4.6 0.6 -2.2 0.8 0 1.6 6.4 1.5 3.6 1.5 3.7 1.5 5 1.5 5.1 1.5 -2.4 1.5 -6.7 1.5 -1.5 1.5 -3.5 0.5 -3.2 1 -1.1 1.5 -1.7 1.5 -3.4 1.5 -0.5 1.5 -2 1.7 -2.1 1.3 2.8 1.5 9 1.5 3.4 4.3 23.8 5.4 -28.2 0.8 -0.2 1.5 -1.3 1.5 1.5 0.6 -2.1 3.2 23.8 0.7 -2.5 1.5 -6.7 1.5 -4 0.6 -2 0.9 1.9 1.5 1.3 1.5 -0.7 1.5 0.4 1.1 1.4 0.4 -1.7 1.5 -0.6 1.5 -1 1 -3.1 0.5 -1.4 1.5 3.1 1.5 -2.5 1.5 1.2 1.5 1.7 1.5 3.3 1.5 1.1 1.5 2.6 1.5 3.6 0.5 0.2 1 2.1 1.5 7.7 1.8 5.4 4.3 -23.8 1.4 -0.4 1.5 -0.8 1.5 -0.8 1.5 -0.3 0.6 0.1 0.9 1.6 1.5 1 1.5 2.7 1.5 4.2 1.1 1.3 0.4 0.2 1.5 -1.9 1.5 -0.2 1.5 -2.5 1.5 -0.5 1.5 -4 0.8 0.3 4.3 17.3 0.9 -4.3 1.5 -6 1.5 -3.6 0.4 -3.4 1.1 0.4 1.5 5.4 1.5 1.8 1.5 -0.7 1.5 2.6 1.6 3.5 1.4 1.5 1.5 1.9 1.5 5.6 1.5 1 1.5 4.1 1.3 1 6.5 -34.6 6.5 28.1 0.7 -1.9 1.5 -3 1.5 -5 1.5 -3.3 1.3 -4.1 1.7 5.3 1.5 6.1 1.5 5.7 1.8 8.9 1.2 -4.1 1.5 -4.8 1.5 -6.7 1.5 -4.8 0.8 -1.3 0.7 0.4 1.5 5.5 1.5 3.6 1.5 2.7 1.3 0.8 1.7 -5.2 1.5 0.5 1.5 -4.9 1.7 -3.4 1.3 0.9 1.5 2.5 1.5 2 1.5 1.6 1.5 2.5 1.4 1.4 1.6 -4 1.5 -3.9 1.5 -7.2 1.5 -3.4 0.4 -1 1.1 4.6 1.5 3.6 1.5 4.2 1.5 4.9 0.9 4.3 0.6 -1.1 1.5 -5 1.5 0.5 1.5 -3.3 1.4 -4.1 1.6 3.6 1.5 1.1 1.5 1.1 1.5 2.8 0.4 0.1 1.1 -4 1.5 -3.6 1.5 -6.2 1.5 -7.7 0.9 -2.3 6.5 32.5 1.6 -3.3 1.5 -4.5 1.5 -5.3 1.5 -4.2 0.4 -2.2 1.1 4.4 1.5 3 1.5 5.8 1.5 1.9 0.9 4.4 0.6 -2.1 1.5 -3 1.5 -5.3 1.5 -2.1 1.4 -2.7 1.6 -1.7 1.5 -3.5 1.5 0.8 1.5 -3.1 0.4 -1.2 1.1 3.1 1.5 6.3 1.5 4.7 1.5 4.8 0.9 2.8 0.6 -1.7 1.5 -0.5 1.5 -4.5 1.5 -2.7 1.5 -2.8 1.5 -2.1 0.5 -3 6.5 32.5 6.5 -45.5 4.4 54.1 6.5 -36.8 1.1 -0.9 1.5 -1.2 1.5 -4.8 1.5 0.2 1.5 -1.2 1.5 -2.9 1.5 6.6 1.5 1.9 1.5 6.3 1.5 3.8 0.5 3 1 -1.3 1.5 -1.5 1.5 -4.2 1.5 1.5 1 -3.1 0.5 0.3 1.5 2.4 1.5 2.3 1.5 1.1 1.5 2.5 1.5 -3.1 1.5 -4.1 1.3 -3.6 1.7 3.1 1.5 0.3 1.5 0.9 1.5 2.9 0.3 1.5 1.2 -5.1 1.5 -3.7 1.5 -1.8 1.5 -5.6 0.6 -1.2 4.3 32.5 4.3 -17.3 1.3 -1.5 1.5 -5.7 1.6 -3.6 1.4 5.9 1.5 1.2 1.5 5.4 1 2.6 0.5 0.9 1.5 -3.4 1.5 -3.6 1.5 -0.5 1.5 -3.3 1.1 -3.1 0.4 0.5 1.5 -2 1.5 2 1.5 -0.6 1.5 -1 1.1 1.1 4.4 17.4 0.5 1.3 1.5 5.4 1.5 3.7 0.8 2.6 3.3 -28.2 0.4 -1.2 1.5 -1.6 1.5 -4 0.9 -1.9 0.6 4.2 1.5 5.3 1.5 4.5 1.5 3.4 0.3 2.1 1.2 -5.3 1.5 -1.7 1.5 -5.3 1.2 -5 1.8 -3.4 1.5 -2.8 1.5 -0.7 0.6 -1.7 0.9 3.3 1.5 5.3 1.5 5.4 0.5 1.1 1 3.9 1.5 2 1.5 4.4 1.4 4.9 4.3 -43.3 3.3 23.8 1.5 4.6 1.5 5.6 1.5 2.7 0.9 4.4 0.6 -1.3 1.5 -5.5 1.5 -3.6 1.8 -2.6 1.2 3.3 1.5 4 1.6 3.5 4.3 -21.6 1.6 -0.6 1.5 -1.1 1.5 -4.6 1.5 -1.3 1.5 1.3 1.1 -2.4 0.4 1 1.5 2.4 1.5 -0.5 1.5 2.7 0.5 0.9 1 1 1.5 5.2 1.5 1.2 1.4 3.4 1.6 -1.7 1.5 -6.3 1.5 -2.7 0.9 -2.2 0.6 2.2 1.5 3.7 1.5 1.1 1.8 3.8 1.2 -2.9 1.5 1.6 1.5 -4.6 1.5 -1.5 0.8 0.9 0.7 -0.3 1.5 -1.3 1.5 -0.2 1.5 -2.5 1.3 0 1.7 -5.9 1.5 -3.1 1.5 -1.8 0.7 -2.2 0.8 0.3 1.5 4.5 1.5 5.2 1.6 3 1.4 1.4 1.5 2 1.5 3.3 1.5 4 0.6 0.1 0.9 -2.1 1.5 -3.5 1.5 -0.1 1.5 -3.1 1.1 -2 0.4 1.5 1.5 -0.6 1.5 -0.7 1.5 -2.5 0.5 0.1 1 3.2 1.5 1 0.7 2.3 0.8 0.5 1.5 2.8 1.5 4.7 1.5 2.3 1.2 0.5 1.8 -2.9 1.5 -2 1.5 -2 1.7 -1.8 1.3 -2.2 1.5 -2.9 1.5 -0.7 1.5 -1.2 1.5 -3.2 0.3 -0.6 1.2 3.7 1.5 1.9 1.5 1.5 1.2 3.7 1.8 2.7 1.5 -1.3 1.5 -0.1 1.7 3.1 1.3 0.8 1.5 0.8 1.6 0.5 1.4 -3.7 1.5 -3.9 1.5 -7.4 1.5 -2.6 0.6 -1.8 0.9 2 1.5 -1.3 1.5 1.5 0.4 2.1 4.3 28.1 1.3 -3.7 1.5 -7 1.5 -2.5 1.5 -5.4 0.7 -3 0.8 1.6 1.5 4.9 1.5 7.2 1.5 4 1.2 3.9 1.8 -1.6 1.5 -1.2 1.5 1.5 1.7 -3 1.3 -3 1.5 -3.4 1.5 -2.7 1.5 -3.6 0.7 -2.5 0.8 2.2 1.5 -1 1.5 2.7 1.5 0.3 1.2 0.2 6.5 30.3 4.3 -30.3 1.5 2.2 1.5 -0.6 1.5 1 1.5 -0.1 0.5 1.8 4.4 17.3 6.5 -28.1 4.3 30.3 0.8 -4 1.5 -2.3 1.5 -4 1.5 -6.9 1.2 -2.3 0.3 -0.8 1.5 6.1 1.5 5 1.5 5.8 1.7 3.4 1.3 -5.5 1.5 -4.2 1.5 -4.4 1.5 -4.4 0.7 -1 0.8 -0.8 1.5 -3.5 1.5 -4.4 1.5 -3.2 1.5 -2.6 0.8 -0.6 0.7 0.2 1.5 5.4 1.5 1.3 1.5 4 1.5 4.2 1.7 2.2 1.3 1.2 1.5 4.9 1.5 2.5 1.1 0 0.4 -0.9 1.5 -0.4 1.5 0.4 1.5 -3.1 0.5 -0.3 1 -2.1 1.5 -2.2 1.5 2.1 1.5 -2.1 1 -2.2 0.5 0.8 1.5 4.4 1.5 3.7 0.8 1.9 3.3 -15.1 3.2 34.6 4.3 -28.1 0.4 -0.3 1.5 -6.3 1.5 -6.4 1 -4.3 4.3 23.8 0.7 -3.5 1.5 -3.1 1.5 -6.9 1.5 -5 1.3 -5.3 4.3 17.3 0.4 -2.3 1.5 -1.1 1.5 -6.7 1.5 -0.3 0.6 -2.6 0.9 3.3 1.5 2.9 1.5 0 1.5 4.6 1.5 -0.7 1.5 -3.9 1.3 0.3 4.3 -26 0.4 1.7 1.5 6.5 1.5 3.1 1.5 7.4 0.5 0.8 1 2.7 1.5 6.8 1.5 1.5 1.5 6.3 1.5 -3.2 1.5 -0.7 1.5 -2 1.5 -3.5 0.5 0.7 1 -0.2 1.5 -4.3 1.5 -2.3 1.5 -3.2 1.5 -1.3 1.6 -1.6 1.4 4.8 1.5 2.8 1.5 5.6 1.5 2 1.7 6.4 1.3 -2.8 1.5 -0.9 1.5 -3.6 1.1 -3.5 0.4 -0.1 1.5 -5.2 1.5 -1.1 1.5 -1.3 1.5 -4.6 1.5 -1.3 0.8 -1.6 0.7 1.3 1.5 1.2 1.5 6.9 1.5 2.3 1.5 0.6 1.5 4.6 0.4 0.4 1.1 -2.9 1.5 -2.7 1.5 -2.3 1.5 -4 0.9 -1 6.5 25.9 1.6 -2.7 1.5 -5.1 1.5 -1 1.5 -5.1 0.4 -1.2 1.1 2.3 1.5 0.4 1.5 4 1.5 -0.9 0.9 2.8 0.6 -2.9 1.5 -4.2 1.5 -1.7 1.5 -3.9 1.4 -4.6 1.6 0.4 1.5 2.5 1.5 -0.2 1.5 -1.3 1.5 1.3 1.1 1.6 0.4 -0.1 1.5 4.4 1.5 5.6 1.5 3.2 1.6 6.4 6.5 -34.6 0.9 2.8 1.5 0.6 1.5 2.2 1.5 3.1 1.5 1.5 1.5 5.1 1.5 4.7 1.5 4.6 0.5 -0.8 1 -0.9 1.5 -3.5 1.5 -3.2 1.5 -5.3 1.5 -1.8 0.6 -0.4 0.9 0.9 1.5 3.7 1.5 0.3 1.5 3.6 1.1 2.3 0.4 -1.3 1.5 -3.4 1.5 -4.3 1.5 -5.4 1.6 -5.1 1.4 4.4 1.5 4.1 1.5 2 1.5 2.8 0.6 1.8 0.9 2.3 1.5 2.2 1.5 5.9 1.5 2.6 5.4 -21.6 0.6 0 1.5 6 1.5 1.7 1.5 1.3 1.4 4 1.6 -1.6 1.5 0.8 1.5 0 1.5 -1.9 0.4 0.5 1.1 -0.9 1.5 -5.8 1.5 -3.1 1.5 -4.8 0.9 -0.5 0.6 3.7 1.5 1.2 1.5 7.5 1.5 3.1 1.4 3.9 1.6 -3.5 1.5 -4.7 1.5 -0.9 1.5 -3.2 0.4 -2.8 1.1 4.3 1.5 3.1 1.5 2.1 1.5 6.8 0.9 1 0.6 -2.5 1.5 -1.6 1.5 -6.6 1.5 -2.7 1.4 -3.9 1.6 0.8 1.5 3.3 1.5 0 1.5 1.7 1.5 2.5 1 2.5 0.5 1.6 1.5 -1.3 1.5 -2.3 1.5 -2.5 1.5 0.3 1.5 -0.8 0.7 -1.5 0.8 0.6 1.5 2.9 1.5 2.8 1.5 -1.1 1.2 3.5 0.3 -1.6 1.5 -1 1.5 -3.3 1.5 -1 1.7 -1.8 1.3 0.7 1.5 3.6 1.5 1.2 1.5 3.5 1.5 1.3 1.3 2.7 6.5 -28.1 1.2 2.5 1.5 2.2 1.5 2.5 1.5 3.6 1.5 3 1.5 3 0.8 0.5 0.7 3.5 1.5 4.4 1.5 7.5 1.5 4.9 1.3 3.5 1.7 -5.4 1.5 -4.4 1.5 -4 1.5 -3.1 1.5 -6 1 -3.1 0.5 2 1.5 5.2 1.5 7.5 1.5 3.2 1.5 4.5 1.1 5.8 5.4 -28.2 1 4.4 1.5 3.2 1.5 6.2 1.5 2.9 1 5 0.5 -2.6 1.5 -1.7 1.5 -2.8 1.5 -3.4 1.5 -2.5 4.3 19.5 1.7 -5.9 1.5 -4.1 1.5 -5.2 1.5 -5.1 0.3 0.8 1.2 6 1.5 5.7 1.5 4.3 1.5 6.3 0.8 1.5 0.7 -2.9 1.5 -3.9 1.5 -7.9 1.5 -3.4 1.3 -5.7 1.7 6.7 1.5 1.3 1.5 7.3 1.8 4.2 4.3 -17.4 1.4 0.9 1.5 2.2 1.5 2.1 1.5 0.9 0.6 2.6 0.9 1.9 1.5 0.2 1.5 -1.2 1.5 0.3 1.1 1 0.4 -0.1 1.5 -3.6 1.5 -1.6 1.5 2 1.6 -3.2 1.4 3.2 1.5 5.2 1.5 3.7 1.5 1.5 0.6 1.5 0.9 -2.6 1.5 -2.2 1.5 0 1.5 -2.6 1.1 -3.4 0.4 -2.1 1.5 -1 1.5 -5.4 1.5 -3 1.6 -3.7 4.3 28.2 4.4 -19.5 4.3 -17.3 4.3 23.8 0.6 -0.2 1.5 -5.1 1.5 -6.9 1.5 -2.2 1.4 -5.1 1.6 -0.7 1.5 -2 1.5 0.1 1.5 -0.2 0.4 0.7 1.1 3.2 1.5 1.3 1.5 3.3 1.5 3.6 1.5 5.1 1.6 2.9 1.4 -1.9 1.5 -0.3 1.5 -0.6 1.5 -2.7 0.6 -1 0.9 -2.9 1.5 -2.7 1.5 -0.5 1.5 -4 1.1 -2.8 0.4 -1.6 1.5 -1 1.5 -4.6 1.5 1.2 0.5 -2.7 3.2 60.6 5.5 -41.1 1.3 0.6 1.5 4 1.5 -1.1 1.1 3 0.4 -0.3 1.5 3.9 1.5 -0.1 1.5 2.2 1.6 2.9 1.4 -4.6 1.5 -0.6 1.5 -3.2 1.5 -7.3 0.6 0.6 0.9 -0.8 1.5 0.2 1.5 -2.5 1.5 1.2 1.1 -2.5 6.5 45.5 5.4 -30.3 4.3 -26 5.4 41.2 1.3 -5.2 1.5 -2.7 1.5 -6 1.5 -3.7 0.7 -1.9 0.8 1.3 1.5 0.6 1.5 0.5 1.5 -1.7 1.2 1.4 1.8 3.1 1.5 4.9 1.5 3.2 1.7 4 4.3 -28.2 1.5 3.5 1.5 -0.8 1.5 1.9 1.5 1.5 0.5 2.6 1 -1 1.5 -1.7 1.5 -1.5 1.5 -2.2 1 -0.1 0.5 2.6 1.5 1.6 1.5 7.8 1.5 3.2 1.5 4.3 1.5 -2.1 1.5 -5.6 1.5 -3.8 1.5 -2.7 1.5 -4.4 1.2 -0.9 0.3 -0.1 1.5 4.2 1.5 2.6 1.5 2 1.5 4.3 1.5 1 0.9 3.3 0.6 0 1.5 -5.6 1.5 -2.6 1.5 -3.4 1.5 -0.9 1.5 -2.4 0.5 -2.4 1 2.4 1.5 -1 1.5 3.2 1.5 1.7 1.5 1.3 1.7 3.2 1.3 -4.4 1.5 -1.2 1.5 -2 1.5 -2.1 1.5 -6.3 1.3 -1.3 1.7 5.2 1.5 1 1.5 4.6 1.3 4.4 1.7 -2.3 1.5 0.3 1.5 -1.2 1.5 -0.2 1.5 -2.2 1 1.2 0.5 -0.8 1.5 6.8 1.5 2.1 1.5 2.9 1.5 2 1.5 -4.3 1.5 -2.1 1.5 -4.6 1.5 -2.5 1.5 -1.4 1.5 -5.6 0.7 -1.1 0.8 0.6 1.5 5.2 1.5 1.1 1.5 0.3 1.5 4 0.8 1.8 0.7 0.7 1.5 -1.9 1.5 1.5 1.5 1.8 1.5 1 1.5 -0.7 0.5 -0.3 1 3.3 1.5 0.8 1.5 2.2 1.5 4.3 1 0.3 2.1 -23.9 1.4 0.7 1.5 2.6 1.5 1.3 1.5 3.5 0.6 0.6 0.9 -1.6 1.5 -0.2 1.5 -0.3 1.5 0.6 1.5 -1 1.8 0.3 6.5 28.2 6.5 -36.8 1.7 2.6 1.5 4.7 1.5 4.3 1.8 5.7 1.2 0.5 1.5 -2.3 1.5 -3.3 1.5 -1.2 1.5 -2.3 1.5 -0.1 1.5 -3.1 1.5 -0.9 1.5 -2.6 1.5 -1.8 0.4 -2.4 1.1 0.2 1.5 4.2 1.5 3.3 1.5 1.8 0.9 3.5 4.4 -19.5 0.7 2.3 1.5 2.6 1.5 5.9 0.6 2.2 0.9 -1.9 1.5 -2.3 1.5 -1.1 1.5 0.3 1.5 -3.8 1.8 0.2 1.2 -1.4 1.5 -0.8 1.5 -2.9 1.5 1 1.5 -3.1 0.3 0.7 1.2 3.5 1.5 3.2 1.5 1.3 1.5 3.7 1.5 3.7 0.4 1.9 1.1 -2.4 1.5 -5.7 1.5 -4.6 1.5 -2.6 0.9 -4.2 5.4 28.1 5.5 -23.8 1.7 4.2 1.5 3.1 1.5 -0.2 1.8 3.7 1.2 2.1 1.5 -2.3 1.5 2.4 1.5 0.4 0.7 -0.4 0.8 3.3 1.5 2.7 1.5 0.5 1.7 4.3 1.3 -6.1 1.5 -3.6 1.5 -5.2 1.5 -6.3 0.7 -0.4 0.8 2.3 1.5 4.8 1.5 5.7 1.5 4.1 1.2 4.7 0.3 -2.3 1.5 -3.2 1.5 -3.9 1.5 -5.5 0.6 -0.2 0.9 3.4 1.5 2.8 1.5 3.9 0.4 2.9 1.1 3 1.5 5.3 1.5 3.9 1.5 6.8 0.9 2.6 0.6 -1.6 1.5 -6.6 1.5 -5.4 1.5 -8.7 1.5 -4.5 1.5 -6.1 0.6 -1.7 0.9 0.1 1.5 4.4 1.5 1.6 1.5 4.7 1.1 2.2 0.4 1.6 1.5 4.1 1.5 3.9 0.9 3.4 4.3 -23.9 4.4 34.7 8.6 -43.3 4.3 19.5 4.4 28.1 1.6 -5.2 1.5 -5 1.5 -2.3 1.5 -4.3 0.4 -2.7 1.1 -3.8 1.5 -2.4 1.7 -6.8 1.3 1.6 1.5 5 1.5 2.7 1.5 3.7 0.7 2.2 0.8 0.6 1.5 -5.8 1.5 -2.4 1.5 -2.3 1.2 -0.9 0.3 1.6 1.5 2.5 1.5 3.3 1.5 6.5 1.5 3.7 1.3 4 5.4 -28.1 0.8 -1.5 1.5 -4.1 1.5 -2.6 0.5 -2.6 1 1.8 1.5 -2.5 1.5 0 1.5 2.2 1 -1.5 0.5 0.9 1.5 6.8 1.5 5.2 0.9 2.2 0.6 0.6 1.5 0.7 1.5 -0.9 1.5 -3 1.5 1.4 1.5 -0.9 0.5 -0.1 1 -0.3 1.5 -1.7 1.5 -1.2 1.5 0.9 1.5 -1.7 1.5 -2.1 1.5 -0.9 0.8 0.5"/>
</g>
<g font-size="46" fill="#262626" stroke="#262626" stroke-width="0.7"><text transform="translate(172.20 1064.50) scale(1 1.045)" text-anchor="middle">0</text><text transform="translate(368.73 1064.50) scale(1 1.045)" text-anchor="middle">200</text><text transform="translate(565.26 1064.50) scale(1 1.045)" text-anchor="middle">400</text><text transform="translate(761.79 1064.50) scale(1 1.045)" text-anchor="middle">600</text><text transform="translate(958.32 1064.50) scale(1 1.045)" text-anchor="middle">800</text><text transform="translate(1154.85 1064.50) scale(1 1.045)" text-anchor="middle">1000</text><text transform="translate(1351.38 1064.50) scale(1 1.045)" text-anchor="middle">1200</text><text transform="translate(1547.91 1064.50) scale(1 1.045)" text-anchor="middle">1400</text><text transform="translate(1744.44 1064.50) scale(1 1.045)" text-anchor="middle">1600</text><text transform="translate(1940.97 1064.50) scale(1 1.045)" text-anchor="middle">1800</text><text transform="translate(2137.50 1064.50) scale(1 1.045)" text-anchor="middle">2000</text><text transform="translate(157.2 1010.80) scale(1 1.045)" text-anchor="end">-0.5</text><text transform="translate(157.2 845.60) scale(1 1.045)" text-anchor="end">0</text><text transform="translate(157.2 680.40) scale(1 1.045)" text-anchor="end">0.5</text></g>
<text x="1155" y="1127.40" text-anchor="middle" font-size="50.5" fill="#262626" stroke="#262626" stroke-width="0.7">Time (sec)</text>
<text transform="translate(54.80 826.95) rotate(-90)" text-anchor="middle" font-size="50.5" fill="#262626" stroke="#262626" stroke-width="0.7">East (m)</text>
<path d="M370.93 1226.40V1579.90M567.46 1226.40V1579.90M763.99 1226.40V1579.90M960.52 1226.40V1579.90M1157.05 1226.40V1579.90M1353.58 1226.40V1579.90M1550.11 1226.40V1579.90M1746.64 1226.40V1579.90M1943.17 1226.40V1579.90M174.40 1550.50H2139.70M174.40 1388.50H2139.70" stroke="#dfdfdf" stroke-width="3" fill="none"/>
<path d="M174.40 1579.90v-21.50M174.40 1226.40v21.50M370.93 1579.90v-21.50M370.93 1226.40v21.50M567.46 1579.90v-21.50M567.46 1226.40v21.50M763.99 1579.90v-21.50M763.99 1226.40v21.50M960.52 1579.90v-21.50M960.52 1226.40v21.50M1157.05 1579.90v-21.50M1157.05 1226.40v21.50M1353.58 1579.90v-21.50M1353.58 1226.40v21.50M1550.11 1579.90v-21.50M1550.11 1226.40v21.50M1746.64 1579.90v-21.50M1746.64 1226.40v21.50M1943.17 1579.90v-21.50M1943.17 1226.40v21.50M2139.70 1579.90v-21.50M2139.70 1226.40v21.50M174.40 1550.50h21.50M2139.70 1550.50h-21.50M174.40 1388.50h21.50M2139.70 1388.50h-21.50" stroke="#262626" stroke-width="4" fill="none"/>
<rect x="174.40" y="1226.40" width="1965.30" height="353.50" stroke="#262626" stroke-width="3.5" fill="none"/>
<clipPath id="c2"><rect x="171.40" y="1223.40" width="1971.30" height="359.50"/></clipPath>
<g clip-path="url(#c2)" fill="none" stroke-width="6.8" shape-rendering="crispEdges" stroke-linejoin="round" stroke-linecap="round">
<path stroke="#0000ff" d="M173.1 1329.1l3.5 17.6 4.4 -19.8 0.5 3 1.5 3 1.5 3 0.9 4.2 0.6 1.2 1.5 0.5 1.5 4.8 1.5 1.2 1.4 1.1 1.6 3.2 1.5 0 1.5 3.2 1.5 0.5 1.5 -0.6 1.2 2.5 1.8 -4.3 1.5 -7.8 1.5 -1.3 0.7 -4.2 0.8 -0.9 1.5 4.5 1.5 1.2 1.5 0.9 1.5 2.5 0.9 0.6 0.6 0.9 1.5 0.6 1.5 1.2 1.5 0.6 1.5 3.3 1.5 2.3 1.5 -1.3 1.5 2.7 1.5 -1.1 1.5 0.2 1.3 1.6 1.7 -1.4 1.5 -5.9 1.2 -0.4 5.4 27.4 0.9 -0.2 1.5 -6.3 1.5 -4.3 0.5 -0.2 1 -5.1 1.5 -5 1.5 -5.4 0.4 0.2 1.1 0.8 1.5 -3.9 1.5 -0.3 1.5 -0.1 1.5 -1.1 1.5 1.9 1.3 -1.7 1.7 0.7 1.5 -1.3 1.5 -0.8 1.5 0.3 1.5 1.2 1.1 -0.1 0.4 -0.3 1.5 3.1 1.5 2.4 1.5 3.1 1.7 2.7 1.3 0.7 1.5 3.1 1.5 2.2 1.2 0.6 4.3 -19.8 0.5 0.6 1.5 1.4 1.3 2.4 3.3 17.5 1.4 -3.9 1.5 -4.7 1.5 -2 1.1 -4.7 0.4 1.3 1.5 -3.9 1.5 -2.8 1.5 -2.2 1.7 -3.4 1.3 0.5 1.5 -0.8 1.5 0.6 1.5 -0.3 0.8 -1.1 0.7 1 1.5 0.2 1.5 0.2 1.5 0.1 1.4 1.8 1.6 -1.4 1.5 0 1.5 -1.7 0.9 0.9 0.6 2.7 1.5 -0.5 1.5 5.6 1.5 1.3 1.5 3.9 1 0.2 0.5 1.5 1.5 -2.8 1.5 0.4 1.5 2.9 1.6 -2 1.4 -2.9 1.5 -0.5 1.5 -2 1.5 -0.4 1.5 -2.2 0.3 1.4 4.4 19.7 3.3 15.4 1 -3.4 1.5 -6 1.5 -8.1 0.4 0 1.1 -0.4 1.5 -2.3 1.5 -1.8 1.5 0.7 1 -2.8 0.5 -1.5 1.5 -2.5 1.5 -3.2 1.5 -4.7 1.5 -3.5 1.5 -0.2 1.5 1.5 1.5 0.6 1.5 2 1.7 1.6 1.3 0.9 1.5 -0.3 1.5 -0.8 1.5 -2.3 0.8 1.4 0.7 0 1.5 5.2 1.5 2.4 1.5 1.9 1.4 1.5 1.6 -3 1.5 -1.4 1.5 -1.1 1.5 -1.6 1.6 -1.7 1.4 -1.4 1.5 1.9 1.5 -2.9 1.5 1.2 1.5 0.6 1.4 -1.6 1.6 2.1 1.5 2.6 1.5 2.2 1.5 5 0.4 -0.9 1.1 2.8 1.5 -1 1.5 1.6 1.5 4.1 1.5 1.6 0.6 0.7 0.9 -4.8 1.5 -1.8 1.5 -5 1.6 -7 1.4 0.2 1.5 2.4 1.5 4.6 1.5 1.4 0.7 0.2 0.8 -1.2 1.5 0.1 1.5 -5.3 1.5 0.7 1.5 -1.2 1.5 -1.8 1.5 -4.7 1.2 0.2 0.3 0.6 1.5 -1.4 1.5 -0.6 1.5 -2.7 1.5 2.3 1.4 -2.6 1.6 0.8 1.5 3.9 1.5 2.1 1.5 1.8 1.5 2.4 1.5 -2.5 1.5 0.4 1.5 -2.3 1.5 -1.8 0.6 -0.4 0.9 1.1 1.5 1 1.5 4.3 1.5 1.4 1.5 -0.2 1.5 2.1 0.4 1.3 1.1 1.9 1.5 2.8 1.5 3.4 1.4 0.7 1.6 -1.3 1.5 3.8 1.5 -3 1.5 2.8 0.5 -0.2 1 -1.7 1.5 -6.6 1.5 -4 1.5 -3 1.5 -3.3 1.5 -1.5 1.5 -6.3 1.5 0 1.6 -4.3 1.4 3.9 1.5 0.9 1.5 2 1.1 2 0.4 -0.9 1.5 2.3 1.5 -1.5 1.8 0.1 1.2 1.9 1.5 2.1 1.5 -0.6 1.5 0.7 1.5 1.9 1.6 2.8 1.4 -2.3 1.5 -1.1 1.5 0.6 1.5 0.5 1.5 -2.7 1.3 0.6 1.7 0.1 1.5 5 1.5 1.2 1.5 1.8 0.4 -1.5 1.1 -0.8 1.5 -2.8 1.5 -2.2 1.4 -0.8 1.6 4.7 1.5 2.4 1.3 2.8 1.7 0 1.5 -1.4 1.5 -4.7 1.5 -1 1.5 0.4 1.1 -1 0.4 0.3 1.5 2.9 1.5 -1 1.5 4.6 1.7 -0.2 1.3 1.9 1.5 7.1 1.6 1.9 1.4 -1.2 1.5 -5 1.5 0.7 1.5 -5.1 0.6 -0.3 0.9 -1.3 1.5 -0.4 1.5 -5 1.5 -2.4 1.2 0.3 1.8 -2 1.5 0 1.5 -1.7 1.5 -4.2 0.3 0.2 1.2 3.5 1.5 0.4 1.5 6 1.5 2.1 1.5 2.7 0.5 1.8 1 -2.1 1.5 -1 1.5 -1.8 1.5 -2.3 1.1 -0.5 0.4 -2.4 1.5 -1.7 1.5 -1.8 1.5 1.5 1.7 -3.3 1.3 1.2 1.5 3.3 1.5 -1.8 1.5 4.4 0.7 -0.5 0.8 3.7 1.5 2.4 1.5 5.3 1.5 1.6 1.3 5.6 1.7 -7.6 1.5 -2.3 1.5 -4.2 1.5 -5.3 1.5 -6.9 1.5 2.8 1.5 0.9 1.5 -1.2 1.5 2.7 1.7 2.5 1.3 1.9 1.5 2.2 1.5 1.4 1.5 2.5 1.5 3 0.4 2.2 1.1 -2 1.5 -1.9 1.5 -3.8 1.5 -2.1 1 -3.4 0.5 -0.3 1.5 2.2 1.5 2.7 1.5 0.9 1.5 4 1.5 0.6 1.5 1.9 0.3 2.3 1.2 -1 1.5 -5.4 1.5 -2.2 1.5 -2.9 1.5 -4.7 0.5 0.8 1 -1 1.5 4.5 1.5 1.4 1.5 0.7 1.1 -0.1 0.4 -0.6 1.5 -2.8 1.5 -1.8 1.5 -0.2 1.5 -2.9 1.5 0 1.5 -0.2 0.5 -2.5 1 2.8 1.5 -1.3 1.5 1.5 0.4 1.4 4.4 19.7 1.2 -1.2 1.5 -3.6 1.5 -3.7 1.5 -1.9 1.5 -5.6 1.5 -2.4 1.1 -2.4 0.4 2.1 1.5 0.5 1.5 0.8 1.5 1.1 1.7 3.2 1.3 0.5 1.5 -2.2 1.5 -0.7 1.5 -0.6 1.5 -1.6 1.5 -2 1.5 -1.4 1.5 3.3 1.5 -1.8 1.5 0.1 1.5 -0.2 1.3 2.2 1.7 4.2 1.5 1.2 1.5 3.2 1.5 4.7 0.4 1 6.6 -27.5 0.5 0.8 1.5 7 1.5 4.7 1.5 2.9 0.4 2.2 1.1 -0.1 1.5 1.1 1.5 -0.7 1.5 4.1 1.5 -2.1 1.7 2.1 1.3 0.3 1.5 -1.7 1.5 0.1 1.5 -2.6 1.5 1.4 0.4 -0.8 1.1 1.7 1.5 -0.2 1.5 -3.9 1.5 0.3 1.5 0.1 1.7 0.9 1.3 -0.7 1.5 -1 1.5 -1.8 1.5 -1.4 1.5 0.5 0.4 0 1.1 0.6 1.5 4 1.5 3.5 1.5 -1.1 1 2.9 0.5 1.5 1.5 -0.2 1.5 -2.4 1.5 -1.7 1.5 1.7 1.5 -3.4 1.5 -0.7 1.5 -1.5 1.5 -2.5 0.6 -2.9 0.9 -1.4 1.5 -0.3 1.5 0.4 1.5 -1 1.5 1.2 1.5 -0.5 0.4 -0.6 1.1 1.5 1.5 5.6 1.5 5.5 1.5 4.7 1.5 6 0.6 0.8 0.9 -4.6 1.5 -4.7 1.5 -3.6 1.6 -4.6 1.4 -4.4 1.5 0.4 1.5 -4.1 1.1 -2.9 0.4 -1.6 1.5 3.7 1.5 -1.7 1.5 4.2 1.5 -2.1 1.2 1.9 1.8 1.4 1.5 3.4 1.5 2.4 1.5 5.1 1.5 3.6 0.7 -0.5 0.8 -3.4 1.5 -2.8 1.5 -1.1 1.5 -4.5 1.5 -2.2 1.5 -5.5 0.5 -0.3 1 0.6 1.5 4.8 1.5 3.2 1.5 2.2 1.5 5.4 1.5 3.7 1.3 2.1 1.7 -0.9 1.5 -1.4 1.5 -0.9 1.5 -2.2 0.4 -1.2 1.1 -0.4 1.5 2.9 1.5 0.5 1.5 0.5 1.5 0.8 1.7 -1 1.3 2.4 1.5 0.9 1.5 -0.9 1.5 0.4 1.5 3.5 0.4 -0.8 1.1 0 1.5 -3.7 1.5 -3.4 1.5 -1.6 1.5 -1.3 0.6 0.1 0.9 0.2 1.5 -0.3 1.5 -3.5 1.5 -0.8 1.5 1.4 1.5 -1.4 1.5 -0.6 1 -0.5 0.5 2.1 1.5 -2.1 1.5 4.1 0.9 0.3 0.6 -1.6 1.5 -2.3 1.5 -4.4 1.5 -0.6 0.4 -2.1 1.1 3.5 1.5 5.7 1.5 6 1.4 4.6 1.6 -6.3 1.5 -2.9 1.3 -4 1.7 4.2 1.5 4.5 1.2 2.3 0.3 0.9 1.5 -4.5 1.5 -2.9 1.1 -2.3 0.4 0.7 1.5 2.1 1.5 0.7 1.5 2.6 1.7 2.7 1.3 1 1.5 5.8 1.5 0.4 1.2 3.7 3.2 -28.5 1.6 -3.4 1.5 -1.8 1.5 -0.4 0.9 -1 0.6 1.4 1.5 1.8 1.5 5.1 1.5 3 0.4 -0.3 1.1 -0.7 1.5 -1.9 1.5 -0.9 0.3 1.3 1.2 4.5 1.5 1 1.5 6.6 1.5 1.5 0.9 2.9 0.6 1.4 1.5 -3.4 1.5 0.6 1.5 -3.6 1.5 0.1 1.5 0.8 0.7 -1.4 0.8 1.9 1.5 0.5 1.5 0.7 1.5 0.7 1.5 -0.5 1.5 -0.4 0.5 0.4 1 -3.6 1.5 -1.4 1.5 -2.7 1.5 -4.1 1 -2.5 0.5 0.5 1.5 7 1.5 5.5 1.5 4.6 0.5 2.2 1 -4.4 1.5 -2.6 1.5 -7.1 1.5 -3.5 1.5 1.5 1.5 0.3 1.5 2.3 1.5 -1.9 1.5 0.9 1.3 1.3 1.7 -2.5 1.5 -1.5 1.5 -2.8 1.5 -3.3 1.5 -3.1 1.5 2.2 1.5 4 1.5 -1.7 1.5 4.8 1.7 1.7 1.3 2.4 1.5 0.9 1.5 2.5 1.1 0.8 0.4 -0.2 1.5 -1.2 1.5 1.8 1.5 -1 1.5 -3.3 1.5 -1.3 1.5 2.2 0.5 -1.4 1 -1 1.5 -0.9 1.5 -2.8 1.5 1.7 1.5 -1.5 1.5 -2.4 1.4 -1.9 1.6 3.2 1.5 6.5 1.5 2.5 1.5 7.5 0.5 0.1 1 -2.4 1.5 -3.1 1.5 -5.2 1.5 -5 1.5 -3.2 0.7 -0.9 0.8 3.2 1.5 5.8 1.5 6.2 1.5 4.7 1.5 5.2 1.5 5.5 0.4 0.1 1.1 -4.7 1.5 -5.2 1.5 -7.6 1.5 -5.2 1.5 -4.2 0.6 -3.8 0.9 0.1 1.5 1.3 1.5 2.2 1.5 0.3 1.5 2.7 1.5 1.1 1.5 3 1.5 0.6 0.7 1.9 0.8 1.1 1.5 -1.4 1.5 0.5 1.5 -2.1 1.5 0.8 1.5 1.4 1.5 -0.6 1.2 -1.9 0.3 -0.8 1.5 -1.6 1.5 -2.4 1.5 -4.3 0.7 0.3 5.4 24.1 1.4 -2.2 1.5 -3.7 1.5 -2.4 1.5 -6.2 0.7 -0.8 0.8 -2.4 1.5 -2.1 1.5 -2.1 1.5 1.2 1.5 -3.9 1.5 -2.4 0.5 0.7 1 0.5 1.5 -0.2 1.5 3 1.5 -3 1.5 3.8 1.5 0 1.5 1.6 1 -1.3 0.5 0.2 1.5 5.2 1.5 1 1.5 6.2 1.6 2.8 1.4 -3.3 1.5 0.5 1.5 -0.1 1.5 -2.2 1.5 -1.2 1.4 -2.5 1.6 4 1.5 3.6 1.5 -0.3 1.5 4.1 0.4 1.7 1.1 -1.5 1.5 -0.2 1.5 3.4 1.1 -1.7 0.4 -2.8 1.5 -0.1 1.5 -6.5 1 -1.5 0.5 -0.8 1.5 -3 1.5 -1.1 1.5 -3 1.5 -3 1.5 -2.9 0.8 0.6 0.7 1.7 1.5 -3 1.5 3.1 1.5 0.8 1.5 -2.8 1.5 0.5 0.5 1.9 1 0.4 1.5 3 1.5 -0.7 1.5 1.3 1.1 2.6 0.4 0.8 1.5 1.1 1.5 -2.1 1.5 3.3 1.5 -3.5 1.5 2.3 0.9 0.3 0.6 1.4 1.5 5.5 1.5 4.6 1.5 2.3 1.5 3.7 1.5 -5 1.5 -7.5 1.5 -2.7 1.5 -8.4 0.6 -0.5 0.9 -1.2 1.5 2.3 1.5 -0.4 1.5 -1.2 1.5 -1.4 1.5 -1 0.3 0.7 1.2 2.7 1.5 3.6 1.5 4.3 1.5 4.7 0.9 4.5 0.6 -1.5 1.5 -4.4 1.5 -3.1 1.5 -4.8 1.5 -6.2 1.5 -5.9 0.7 -0.5 0.8 2 1.5 3 1.5 0.2 1.5 2.2 1.3 3.6 1.7 2.9 1.5 0.8 1.5 3.6 1.5 -0.8 0.4 2.3 1.1 -1.6 1.5 1.9 1.5 -2.6 1.5 0.3 1.5 -0.6 1.7 -1.8 1.3 -1.9 1.5 -1.5 1.5 -1.1 1.5 -0.4 0.7 -1.7 0.8 1 1.5 0.2 1.5 3.7 1.5 2.2 1.5 2.5 1.5 1.5 0.5 1 1 -3.2 1.5 -3.5 1.5 -5 1.5 -5.9 1.5 -1.1 1.5 3.6 1.5 -0.2 1.5 -1.7 1.7 2.7 1.3 1.8 1.5 3 1.5 -1.1 1.5 0.6 1.5 2.8 1.5 1.7 1.5 0.7 1.5 -3.4 1.5 2.9 1 -2.4 0.5 -0.6 1.5 6.3 1.5 5.4 1.5 0.8 1.5 4.1 1.1 3.7 0.4 -2.3 1.5 -1.6 1.5 -3.4 1.5 -4.7 1.7 -3.3 1.3 2.3 1.5 2.8 1.5 3.4 1.5 0.8 0.8 1.6 0.7 -1.1 1.5 -3.5 1.5 -5.5 1.5 -3.5 1.4 -3.9 1.6 -0.4 1.5 0.9 1.5 1.9 1.5 1.6 0.5 -1.8 1 3 1.5 7 1.5 2.3 1.5 5.7 1.1 5 0.4 -1.4 1.5 -4.8 1.5 -4.2 1.5 -2.9 1.7 -5.3 1.3 -1.5 1.5 -2.1 1.5 -4.4 1.5 1.3 1.5 -2.5 1.4 -2.9 1.6 1.7 1.5 0.3 1.5 1.1 1.5 3.8 1.5 1.9 1.5 2.6 1.5 -0.1 0.4 0.8 1.1 -3.6 1.5 -1.7 1.5 -2.2 1.5 -3.8 1.5 0.9 0.6 -2.8 0.9 1.8 1.5 6.4 1.5 2.1 1.6 5.1 1.4 -3 1.5 -3.7 1.5 -1.4 1.5 -4.4 1.8 -2.9 1.2 3.4 1.5 0.6 1.5 3.4 1.5 2 1.5 2.1 0.4 -0.5 1.1 1.8 1.5 0.6 1.5 -3.1 1.5 2.1 1.5 0.8 1.7 0 1.3 -3.4 1.5 -1.1 1.5 -0.6 1.5 -4.6 1.5 -3.1 1.5 -1.5 1.5 2.7 1.5 1 1.5 2.6 1.5 1.8 1.5 -0.4 1.5 3.1 1.5 2.1 1.5 -0.9 1.5 0.8 0.8 2.6 0.7 0.2 1.5 -1.8 1.5 -4.4 1.5 0.3 1.5 -2.7 1.5 -3 0.6 0.4 0.9 -0.2 1.5 3.1 1.5 5.5 1.5 1.5 1.5 0 1.5 -4.1 1.5 -1.1 1.5 1.1 1.5 -3.6 1.5 -0.6 1.5 -0.5 0.5 -1.1 1 0 1.5 3.4 1.5 4.6 1.5 2.7 1.5 2.8 0.7 1.9 0.8 -0.2 1.5 -6 1.5 -2 1.5 -2.4 1.5 -1.1 1.5 -3.9 0.5 -2 1 1 1.5 3.8 1.5 1.4 1.5 1.2 1.5 1.8 1.8 0.7 1.2 0.8 1.5 3.5 1.5 2 1.5 1.9 1.5 1.5 0.4 2.3 1.1 -4.3 1.5 -2.8 1.5 -3.8 1.5 -0.3 0.7 -3 0.8 3.3 1.5 3 1.5 3.7 1.5 2.8 1.5 2.7 1.5 7 0.5 -0.6 1 -3 1.5 -8.5 1.5 -4.1 1.4 -6.3 1.6 -5 1.5 -2.6 1.5 -2.1 1.5 -3.5 1.6 -4.4 1.4 2.6 1.5 1.7 1.5 -0.3 1.5 3 1.5 -1.8 0.3 1.4 1.2 3.4 1.5 0.2 1.5 2.7 1.5 2.7 1.5 1.7 1.6 2.5 1.4 -3.8 1.5 -4.8 1.5 -2.4 1.5 6.9 1.5 2.9 1.5 7.2 1 2.8 4.4 -17.6 0.6 2.9 1.5 7.5 1.5 5.1 1.5 5.6 1.4 5.2 1.6 -6.1 1.5 -3.9 1.5 -6.4 1.5 -4.6 0.5 -3.1 1 1.1 1.5 4.6 1.5 1.1 0.4 2 1.1 -2.6 1.5 -1.7 1.5 -3.2 1.5 -3.1 1 -0.4 0.5 0.8 1.5 1.6 1.5 6.1 1.5 1.6 1.5 4.7 1.2 1.7 0.3 -0.2 1.5 -5.8 1.5 -5.7 1.5 -3.6 1.8 -7.8 1.2 -0.5 1.5 4.1 1.5 0.1 1.5 3.3 1.5 1.3 1.6 0.5 1.4 4.7 1.5 3.2 1.5 5.9 1.5 2.5 0.6 3.4 0.9 0.9 1.5 -4.4 1.5 -2.1 1.5 -0.8 1.2 -0.1 1.8 -3.5 1.5 -5.4 1.5 -1.3 1.5 -3.8 1.4 -4.7 1.6 1.6 1.5 4.5 1.5 -1.1 0.9 2.7 0.6 1.2 1.5 6.5 1.5 2.7 1.5 7.7 1.5 3.8 1.5 -2.9 1.5 -6.5 1.5 -3.5 1.5 -0.7 1.5 -6.7 1.3 -1.6 1.7 -2.1 1.5 1.4 1.5 -0.6 1.5 0.2 1.5 -1.3 1 0.2 0.5 -1.6 1.5 1.4 1.5 -2.6 1.5 1.6 1.5 -0.4 1.5 -0.3 1.5 -2 1.5 -0.5 1.5 2.1 1.5 4.6 1.5 3.7 1.5 1.1 0.6 1.7 0.9 -1.2 1.5 -1 1.5 -0.7 1.5 -3.7 1.5 -2.8 0.8 0.6 0.7 1.9 1.5 4.5 1.5 3.7 1.5 4.2 1.4 2.2 1.6 -5.7 1.5 -6.2 1.5 -5 0.9 -0.7 0.6 1.2 1.5 0.8 1.5 4 1.5 1.7 1.5 1.3 1.5 -1 1.7 4.1 1.3 0.1 1.5 -5.2 1.5 -2.9 1.5 -0.9 1.5 -1.6 0.4 -0.5 1.1 1.7 1.5 4.4 1.5 -0.1 1.5 4.2 1.5 1.5 1.5 4 1.3 1.9 1.7 -2.5 1.5 -2.6 1.5 -3.9 1.5 -5.5 1.5 -2.8 1.5 -2.5 0.7 -1.1 0.8 0.1 1.5 6.8 1.5 1.8 1.7 3.4 1.3 -2.6 1.5 -2.6 1.5 -4.5 1.1 -3.5 0.4 1.3 1.5 -0.1 1.5 -0.1 1.5 1.8 1.5 0.8 1.5 -0.3 0.9 1 0.6 2.2 1.5 4.8 1.5 4.5 1.5 3.5 1.5 4.7 1.5 -2.3 1.5 -4.3 1.5 0.6 1.5 -5.3 1.5 -0.7 1.3 -3.3 1.7 -0.2 1.5 1.2 1.5 1 1.5 0.2 1.5 0 1.5 -4.9 1.5 -4.2 1.5 -1.9 1 -4.4 0.5 2.3 1.5 1.4 1.5 6.5 1.5 2.1 1.5 3.1 1.5 1.6 1.5 -1.5 1.5 2.1 1.5 -0.3 1.5 1.5 1.5 2 1.5 -2.3 1.6 2.4 1.4 -0.9 1.5 -2.9 1.5 -5.5 1.5 -3.4 1.5 -1.7 1.5 -1.2 1.5 -4.4 0.6 -0.9 0.9 2.3 1.5 1.3 1.5 2.9 1.5 -0.3 1.5 1.5 0.8 1.1 0.7 -1 1.5 -0.5 1.5 2.5 1.5 0.1 1.4 -1.1 3.2 19.7 1.4 -1.1 1.5 -3.5 1.5 -6.9 0.7 0.6 0.8 0.9 1.5 2.5 1.5 -1.3 1.5 3.5 1.5 1.3 0.9 -0.3 0.6 0 1.5 -3.3 1.5 -6.7 1.5 -4 1.4 -1.4 1.6 3.1 1.5 2 1.5 1.6 1.5 4.4 1.6 2.1 1.4 0.1 1.5 -4.6 1.5 -2.2 1.5 -1.7 1.5 0.7 1.5 -4 1.5 -1.5 0.6 1.1 0.9 -0.7 1.5 1.9 1.5 2.3 1.5 1.8 1.5 3.9 0.8 0.7 0.7 -0.4 1.5 -1.7 1.5 0.1 1.5 1.1 1.5 -2.2 1.5 -0.1 1.7 -1.2 1.3 -2.5 1.5 -1.5 1.5 0.5 1.5 -0.8 1.5 -1.8 1.5 -1.4 1 -2.4 0.5 -0.4 1.5 6.5 1.5 2.7 1.5 5.2 0.5 2.5 1 -3.2 1.5 -1.9 1.5 -4.5 1.5 -1.4 1.5 -0.9 1.5 2.5 1.5 -2.6 1.5 4 1.5 -0.2 1.5 -0.3 0.9 -0.3 0.6 1.5 1.5 -1.7 1.5 2.8 1.5 0 1.5 -1.8 1.5 0.2 0.7 1.2 0.8 1.7 1.5 3.8 1.5 3.6 1.5 5.9 1.2 2.5 1.8 -4.2 1.5 -5 1.5 -5.2 1.5 -3.9 0.3 0.8 1.2 0.9 1.5 -0.5 1.5 1 1.5 -1.1 0.9 -0.3 0.6 -2.3 1.5 -0.5 1.5 -0.1 1.5 -2.5 1.5 -1.2 1.5 -2.1 0.7 -2.3 0.8 0.3 1.5 1.4 1.5 1.9 1.5 0.5 1.5 -0.7 1.5 0.7 1.5 0.9 1.2 1.6 0.3 -0.3 1.5 -1.3 1.5 2.3 1.5 -0.2 1.5 -3.6 1.5 2.4 1 -1.5 0.5 2.1 1.5 2.7 1.5 2.2 1.5 3.1 0.4 0.9 1.1 -3.3 1.5 -5.9 1.5 -4.9 1.5 -3.3 1 -2.4 0.5 -0.6 1.5 7.2 1.5 1.4 1.5 5.1 0.5 2.3 1 2 1.5 3 1.5 3.1 1.5 5.8 1.1 1.4 0.4 -0.9 1.5 -5.8 1.5 -1.5 1.5 -7.7 1.7 -3.8 1.3 1.8 1.5 2.7 1.5 4.5 1.5 -1 0.8 3 0.7 -1.9 1.5 -2.7 1.5 0.3 1.5 -5.5 1.5 0.8 1.5 -2.3 0.5 -1.9 1 -2 1.5 -1.3 1.5 -0.2 1.5 -1.8 1.1 0.9 0.4 0.3 1.5 2.9 1.5 6.7 1.5 2.3 0.6 3.2 0.9 -0.9 1.5 -2.2 1.5 -1.7 1.5 -3 1.5 -2.1 0.8 -1.1 0.7 1.9 1.5 3.4 1.5 4.3 0.7 3.6 0.8 0 1.5 -5.7 1.5 0.7 1.5 -3.4 1.5 -3.5 1.5 -1.4 1.5 -2.5 1.2 -1.8 0.3 1.1 1.5 2.3 1.5 3.9 1.5 -0.2 1.5 4 1.5 3.5 0.9 0.8 0.6 -0.5 1.5 -2 1.5 1.3 1.5 -1.6 1.5 0.6 1.5 2.8 1.5 2.7 1.5 1.2 1.5 1.1 1.7 3.1 1.3 -2.3 1.5 -2.7 1.5 -3.7 1.5 -4.7 1.5 -1.4 0.4 -2.7 1.1 0.2 1.5 -4.2 1.8 -0.4 1.2 0.5 1.5 3.7 1.5 5.8 1.3 1 1.7 -2.5 1.5 2 1.5 -0.8 1.5 -1.7 0.4 0.8 4.3 -24.2 1.3 5.5 1.5 6.1 1.5 3.6 1.5 4.8 0.8 4.2 0.7 -0.2 1.5 5.4 1.5 5.1 1.5 3.4 1.4 1.6 1.6 -3 1.5 -7.4 1.5 -3.2 1.5 -5.2 0.5 -0.9 1 -1.2 1.5 -4.6 1.5 -0.2 1.5 -1.5 1.5 -3.1 0.7 -2.6 0.8 -0.3 1.5 3.7 1.5 0.8 1.5 2 1.3 2.6 1.7 1.4 1.5 0.2 1.5 0.5 1.5 1.8 0.4 -1.7 1.1 2.8 1.5 6.6 1.5 6.6 1.5 4 0.9 4.1"/>
<path stroke="#ff0000" d="M174.4 1267.8l0.4 131.7 2.9 -28.6 2.2 22 1.6 -4.2 1.7 -6.8 2.2 11 3.3 -15.4 3.2 28.6 1.6 0.6 1.5 3.5 1.5 -1.5 1.5 4.2 1.5 2.5 1.2 -0.6 1.8 -3.8 1.5 -3.4 1.5 -2.8 0.7 -3.1 0.8 0.1 1.5 -1.7 1.5 0.1 1.5 1.8 1.5 -0.6 0.9 -1.9 0.6 -1.2 1.5 0.6 1.5 0.8 1.5 0.4 1.5 2.5 1.5 -0.5 0.7 1.8 0.8 1.4 1.5 -0.8 1.5 -2.1 1.5 1.6 1.3 -0.1 1.7 -1.8 1.5 -2.6 1.2 0 2.1 15.3 2.2 22 2.2 32.9 1.3 2.4 1.5 7.7 0.5 0.9 2.2 17.6 1.8 -3.6 1.5 -5.2 1.5 0.2 1.5 -1.2 1.5 3.2 1.5 -2 1.5 2.5 1.3 -0.5 1.7 1.3 1.5 -1 1.5 -0.6 1.5 1.9 0.4 0.6 1.1 -3.5 1.5 -1.2 1.5 -6 1.4 -2.5 1.6 2.6 1.5 3.9 1.3 0.1 1.7 4.7 1.5 3.4 1.2 2.9 3.2 -17.6 1.6 -3.1 1.5 -4.4 1.3 -3.5 3.3 19.8 1.4 1 1.5 -3.5 1.5 -1.2 1.5 1.7 0.7 -2.4 0.8 -1.1 1.5 0.7 1.5 0.8 1.5 3.9 1.5 0.6 0.9 -0.5 0.6 -0.2 1.5 0.7 1.5 -2.4 1.5 2.5 1.5 -0.9 1.5 0.3 0.7 0 0.8 0.4 1.5 1.5 1.5 0.8 1.5 0.8 1.3 3.1 1.7 -4.5 1.5 -1.2 1.1 -3.1 0.4 2.1 1.5 3.4 1.5 2.7 1 2.8 0.5 -1.2 1.5 0.3 1.5 0 1.5 0.3 1.5 1 1.5 -3.9 1.5 1.3 0.4 0 1.1 -3.5 1.5 -3.9 1.5 -4.2 1.4 -6 3.3 24.1 1.3 3.3 0.9 1.1 0.6 -0.2 1.5 -4.9 1.5 -4.2 1.5 -6 0.4 0 1.1 3.9 1.5 0.9 1.8 3.9 3.3 17.6 0.9 -0.7 1.5 -8.1 1.5 -3 1.5 -3.6 1.5 3.2 1.5 2.8 1.4 5 1.6 -1.7 1.5 0.9 1.5 2.6 1.5 -0.8 0.5 -1 1 0.4 1.5 -0.7 1.5 4.1 1.5 -0.2 1.5 -1.3 1.5 1.3 0.3 0.8 1.2 0.2 1.5 -0.4 1.5 -2.1 1.5 2.2 0.9 -2.1 0.6 0.5 1.5 2.8 1.5 5.3 1.5 0.3 1.5 4.3 1.5 -2.2 1.5 0.6 1.5 -2.3 1.5 -0.6 0.6 0.1 0.9 1.8 1.5 -1.9 1.5 -0.2 1.5 0.8 1.1 -0.5 0.4 0.1 1.5 3.8 1.5 5 1.5 3.8 0.6 2.7 0.9 -3.3 1.5 -0.4 1.5 -7.2 1.5 -0.4 1.2 -4.1 1.8 4.4 1.5 0.2 1.5 5 1.8 3.6 1.2 -0.3 1.5 -0.5 1.5 -2.7 1.5 -1.8 1.5 1.3 0.5 -0.4 1 -2.1 1.5 0.3 1.5 0 1.5 1.1 1.5 -2.7 1.5 -1.5 1.5 2 1 -1.5 0.5 2.2 1.5 1.3 1.5 0.6 1.5 3 1.5 3.9 1.5 -1 1.5 -2.5 1.5 1.1 1.5 -1 1.5 -0.9 1.5 -1.4 1.5 -4.6 0.5 1.5 1 0.8 1.5 -1.3 1.5 4.1 1.5 0.1 1.5 0.8 1.8 -0.1 1.2 0.6 1.5 6 1.5 2.2 1.5 3.1 0.9 1.2 0.6 -0.7 1.5 -0.2 1.5 -3.3 1.5 -1.8 1.5 -1.2 1.5 -1.7 0.7 0.2 0.8 0 1.5 0.3 1.5 -4 1.5 -0.7 1.5 1 1.5 -0.1 0.4 -0.9 1.1 -1.3 1.5 0.3 1.5 -0.8 1.5 -0.1 1.8 1.9 1.2 1.3 1.5 0.6 1.5 -1.2 1.5 0.5 1.5 4.1 1.6 -0.9 1.4 -2 1.5 -0.5 1.5 -1.6 1.5 -2.4 1.5 -3.5 1.5 1.3 0.9 -2.3 0.6 0.4 1.5 3.5 1.5 5.5 1.5 4.9 0.4 1 1.1 -2.5 1.5 -6 1.5 -2 1.4 -4.8 1.6 1.4 1.5 5.4 1.5 2.4 1.5 3.1 1.5 1.7 1.2 1.3 0.3 -1.8 1.5 -1.4 1.5 -3.1 1.5 -5.1 0.7 -1.7 0.8 2.2 1.5 1.2 1.5 -1.3 1.5 3.2 1.3 -0.9 1.7 8.1 1.5 2.9 1.2 6.5 0.3 -1.1 1.5 -1.5 1.5 -2.5 1.5 -1.9 1.7 -3.9 1.3 -0.1 1.5 4.5 1.5 0 1.5 2.8 0.8 -0.7 0.7 -3 1.5 -1.1 1.5 -5.9 1.5 -3.4 0.3 -1.9 1.2 4.3 1.5 4.7 1.5 2.2 1.3 4.1 1.7 -1.5 1.5 -1.9 1.5 0.5 1.5 0.1 0.4 -1.6 1.1 2.2 1.5 2.7 1.5 3.1 1.4 5.2 1.6 -5.5 1.5 -7.6 1.5 -2.9 0.9 -3.7 0.6 -1.4 1.5 -0.7 1.5 2.9 1.5 -2 1.5 1.1 1.5 -1.9 0.6 -0.2 2.2 24.1 1.7 -5.5 1.5 -3.9 1.5 -4.2 1.5 -4.8 1.5 -5.7 1.5 0.7 1.5 2.4 1.5 1.5 1.5 2.2 1.7 1.9 1.3 1.5 1.5 1.2 1.5 -0.2 1.5 4.6 1.5 0.6 1.5 1.1 1.5 -2.7 1.5 -3.6 1.5 -2.6 1 -4.2 0.5 -0.4 1.5 0.5 1.5 -1.1 1.5 3.1 1.5 0.1 1.1 0 0.4 1.3 1.5 6.2 1.5 1.3 1 4.3 0.5 -2.3 1.5 -2 1.5 -3.7 1.5 -5.3 1.6 -4.2 1.4 1.3 1.5 3.8 1.5 0.7 1.5 1.8 0.7 1.1 0.8 1.2 1.5 3.9 1.5 2.9 0.6 0.8 0.9 -1.3 1.5 -2.7 1.5 -3.9 1.5 -4.9 1.5 -4 0.8 -0.7 0.7 2.9 1.5 3.9 1.5 4.4 1.5 1 1.5 6.4 1 1.1 0.5 0.5 1.5 -6.3 1.5 -2 1.5 -1.7 1.5 -5 1.1 -0.8 0.4 2.3 1.5 1.9 1.5 5.9 1.5 2.6 0.6 2.6 0.9 -2.8 1.5 -3.1 1.5 -1.8 1.5 -2.2 1.2 -3.3 1.8 3.2 1.5 0.6 1.5 3.2 1.5 0.9 0.3 0.9 1.2 -3.6 1.5 -3.2 1.5 -3.3 1.5 -0.5 0.9 -2.5 0.6 1.6 1.5 3.7 1.5 7.9 1.5 4 1.5 2.3 1.5 7.7 0.7 1.3 4.4 -22 0.9 3.2 1.5 -0.4 1.5 3 1.5 2 1.1 1 0.4 -0.7 1.5 -1 1.5 0.7 1.5 -1.3 1.5 -1.7 1.5 -0.6 1.5 -2.1 1.6 0.1 1.4 -0.5 1.5 4 1.5 0.7 1.5 0.6 1.5 3 1.4 1 1.6 -2.8 1.5 0.4 1.5 -2.4 1.5 1.4 1.5 -3 1.2 -0.2 0.3 -0.3 1.5 1 1.5 0.9 1.5 2 1.8 3 1.2 -1.1 1.5 -1.1 1.5 -4.6 1.5 -2.4 0.8 0.4 0.7 2.1 1.5 2.9 1.5 5.6 0.7 2.6 0.8 0.3 1.5 -3.7 1.5 0.4 1.5 -2.1 1.3 -1.5 1.7 -3.1 1.5 -0.5 1.5 -3.8 1.5 -1.5 1.5 -0.4 1.1 -1.7 0.4 2.7 1.5 3.8 1.5 5.5 1.5 2.4 1.7 7.6 1.3 -3 1.5 -0.3 1.5 -4.8 1.5 -0.9 1.5 -5.7 1.5 -0.7 1.5 2 1.5 -0.1 1.5 -0.4 1.5 -1.2 1.5 3.3 1.2 -1.4 1.8 5.1 1.5 2 1.5 2.5 1.5 1.9 1.5 1.3 0.7 2.6 0.8 -2.7 1.5 -2.4 1.5 -3.8 1.5 -4.8 1.5 -2.1 1.5 -6.8 0.5 0.6 1 1 1.5 1.8 1.5 3.6 1.5 4.5 1.5 2.5 1.7 2 1.3 -2.6 1.5 -2.9 1.5 0.1 1.5 -3 1.5 -3 0.4 0.4 1.1 0.6 1.5 3.5 1.5 -0.3 1.5 2.6 1.5 1.2 1.7 1.2 1.3 -3 1.5 -4.5 1.6 -3.5 1.4 1.8 1.5 1.1 1.5 2 1.5 1.3 1.5 4.7 1.4 0.1 1.6 -2.4 1.5 -1.8 1.5 -0.4 1.5 1.5 1.5 -3.3 1.2 -0.2 0.3 0.5 1.5 -2.8 1.5 0.7 1.5 -1.8 1.7 -1 1.3 -0.6 1.5 -1.4 1.5 -1.3 1.5 0.4 1.5 0.1 0.4 -1.6 5.5 26.4 4.4 -22 1.7 5.7 1.5 3.6 1.5 5.1 1.5 3.7 0.4 -0.5 1.1 -2.7 1.5 0.8 1.5 -5 1.5 -2 1.5 0.1 1.7 -4.4 4.4 28.6 4.3 -26.4 1.6 2 1.5 1.2 1.5 1.3 1.5 1.1 0.5 -1.2 1 -0.4 1.5 -1.9 1.5 -4.5 1.5 -1.8 1.5 -3.3 0.7 -1.3 0.8 3.3 1.5 1.3 1.5 1.7 1.5 3.5 1.5 1.1 0.9 2.3 0.6 -1.7 1.5 0.4 1.5 -1.6 1.5 -1.1 1.5 -0.3 1.5 0.9 1.5 0.6 1.4 -1.6 1.6 1.7 1.5 -1.1 1.5 2.6 1.5 0.1 0.5 1.1 1 -2.6 1.5 -2.5 1.5 -4.7 1.5 -3.6 1 -2 5.5 26.4 1 -2.6 1.5 -5.4 1.5 -8.9 1.5 -5.1 1.5 2.3 1.5 4.5 1.5 3.6 1.5 0.2 1.5 3.8 1.3 3.2 1.7 -2.3 1.5 -0.4 1.5 -0.7 1.5 -3.7 1.5 0.5 1.5 -4.6 1.8 0.2 1.2 -0.4 1.5 1.9 1.5 0.6 1.5 0.3 1.5 4.3 1.5 -0.1 1.5 -3.3 1.5 -3.9 1.4 -3.8 1.6 4.5 1.5 2.1 1.5 1.2 1.5 5.4 0.5 0 1 -4 1.5 -0.3 1.5 -6.2 1.5 -3.9 1.5 -3.8 1.5 -2.9 1.4 -3 6.6 30.7 1 -4.4 1.5 -5.5 1.5 -4.8 1.5 -5.1 1.5 0.5 1.5 -5.2 1.5 2.1 1.5 -1.7 0.6 -2.3 5.4 28.6 1.5 -2.9 1.5 -2 1.5 -3.8 1.5 -3.3 1.7 -5.6 1.3 0.5 1.5 -1.5 1.5 1.2 1.5 -3.4 1.5 1 1.5 -2.2 1.5 2.2 1.5 -0.8 1.4 -1.4 1.6 1.4 1.5 1.3 1.5 4 1.5 2 0.5 0.1 1 -4.7 1.5 -0.7 1.5 -4.2 1.5 -6.4 1.5 -3.7 0.7 -2.2 0.8 2.1 1.5 5.6 1.5 3.9 1.5 4.9 1.5 6 0.8 1.6 0.7 -1.7 1.5 -0.7 1.5 0.7 1.5 -3.3 1.5 -1.7 1.5 2.2 0.6 -2.1 2.2 15.4 4.4 -17.6 1.8 -0.9 1.5 -2.6 1.5 0.8 1.5 -2.8 1.5 -0.8 1.5 -0.4 1.7 0.1 1.3 2 1.5 2.8 1.5 5.2 1.5 2.3 0.8 0.9 0.7 -0.6 1.5 0 1.5 -1.4 1.5 -2.6 1.5 0 1.5 -0.6 0.5 -1.4 1 0.6 1.5 1.6 1.5 0.2 1.5 1.8 1.5 -1.9 1.5 2.3 1.1 -0.2 0.4 2.3 1.5 -0.3 1.5 3.1 1.5 -1.8 1.7 3.3 1.3 -3.6 1.5 -1.1 1.5 -4.3 1.5 -2.5 0.8 -1.7 0.7 -2 1.5 -2.1 1.5 0.2 1.5 -3 1.5 -2.2 0.9 -1.8 2.2 26.3 1.4 -0.1 1.5 -5.2 1.5 -0.8 1.5 -1.5 1.5 -2.9 0.3 -0.5 1.2 -1.8 1.5 -0.9 1.5 -3.3 1.5 -4.8 1.5 -1.8 0.5 -0.5 4.4 28.5 1.1 -3.5 1.5 -1.7 1.5 -4.5 1.5 -5.1 1.5 -2.3 0.6 -0.5 0.9 -1.6 1.5 -2.6 1.5 0 1.5 -0.6 1.5 -2.1 1.5 -3.1 0.3 -0.9 1.2 5.1 1.5 3.4 1.5 5.3 1.5 6.1 1.5 1.5 1.6 7.1 1.4 -5.1 1.5 -5.1 1.5 -4.7 1.5 -6.5 0.7 -0.6 0.8 0.6 1.5 0.8 1.5 -3.3 1.5 -0.5 1.5 0.3 1.5 1.5 1.6 -1.6 1.4 2.7 1.5 -0.6 1.5 3.4 1.5 2.2 1.8 1.1 1.2 -2.5 1.5 2.4 1.5 -1.6 1.5 -2.5 1.5 0.4 1.5 -2.1 1.5 -2.8 1.5 -0.2 0.3 0.1 1.2 4 1.5 2 1.5 1.7 1.5 3.9 1.5 3.5 0.5 2.5 1 -0.9 1.5 -1.6 1.5 -2.7 1.5 -2 1.5 0.3 1.5 -4.3 0.3 0.2 1.2 0.5 1.5 -2.2 1.5 0.9 1.5 -1.6 1.5 -0.6 1.5 0.6 1.5 -1.2 0.8 1.4 0.7 -0.9 1.5 0.2 1.5 -1.3 1.5 0.1 1.5 -2.2 1.5 -2.5 1.5 1.7 1.3 -1.7 1.7 1.9 1.5 1.7 1.5 -1.1 1.5 -0.3 1.5 1.2 1 1 0.5 0.5 1.5 0.8 1.5 0.6 1.5 2.7 1.5 2.5 1.5 2.2 0.8 -0.5 0.7 0.2 1.5 -1.6 1.5 -2.3 1.5 -3.5 1.4 -1.6 1.6 -3.9 1.5 1 1.5 -2.4 1.5 -3.7 0.5 0.3 1 2.4 1.5 2.9 1.5 5.9 1.5 2.2 1.5 5.2 1.8 3.3 1.2 -0.1 1.5 -3.1 1.5 -1.7 1.5 1 1.5 -1.7 1.5 -4.4 1.5 -0.8 1.5 0.2 1.4 -2.6 1.6 1 1.5 2.5 1.5 3.9 1.5 -1.7 1.5 2.5 1.5 3.4 1.5 2.7 0.4 -1.1 1.1 -0.4 1.5 -4.9 1.5 -1.7 1.5 -2.3 1.5 -5.6 0.6 -0.5 0.9 0.8 1.5 3.1 1.5 5.1 1.5 0.4 1.5 4.6 0.8 1.4 0.7 0.6 1.5 -5.1 1.5 -0.6 1.5 -2.6 1.5 -0.5 1.5 -4.1 0.6 -0.9 0.9 0.4 1.5 2.2 1.5 0 1.5 -1.8 1.5 3.2 1.5 -1 1.5 2.9 1 -1.5 0.5 1.7 1.5 -2.5 1.5 -0.9 1.5 -1.4 1.5 -0.4 1.5 -0.8 1.5 -0.8 1.5 0.7 1.5 -1.3 1.5 2.7 1.5 0.5 1.5 1.1 1.5 -0.2 1.5 1.9 1.5 -2 1.5 -0.3 1.2 2 0.3 0.2 1.5 -1.8 1.5 2.3 1.5 -0.9 1.5 -1.6 1.5 0 1.5 -2.9 1.6 0.3 1.4 2.3 1.5 2.8 1.5 3.1 1.5 3.5 0.7 1.5 0.8 -0.5 1.5 -4.8 1.5 -0.2 1.5 -3.9 1.5 1.1 1.5 -3.9 0.5 -1 1 1.8 1.5 1 1.5 3.6 1.5 2.2 1.5 2.9 1.5 0.7 1.5 0.9 1 2.3 0.5 -0.5 1.5 -5.3 1.5 -0.2 1.5 -4.8 1.5 -1.3 1.5 -5.4 0.8 -0.1 0.7 0.6 1.5 -1.4 1.5 -0.3 1.5 1.2 1.5 2.7 1.5 -1.6 1.5 0.9 1.2 0.1 1.8 7.2 1.5 1.6 1.1 4.4 3 -17.6 0.4 2.2 1.5 1.7 1.5 4 1.5 4.8 1.7 2.7 1.3 2.1 1.5 3 1.5 3.2 1.2 0.5 0.3 -1.8 1.5 -1.6 1.5 -5.2 1.5 -3.5 1.5 -2.1 1.5 -2.6 1.5 -3.4 0.5 -1.8 1 5.7 1.5 2.9 1.5 7.4 0.4 1.6 1.1 -1.7 1.5 -3.1 1.5 0.4 1.5 -5.4 1.5 -1.8 1.7 -1.6 1.3 -0.7 1.5 -1.4 1.5 -3.3 1.5 1.3 1.5 -2.6 1.5 -2 4.4 28.5 7.7 -32.9 4.3 26.3 1.6 -1.8 1.5 -5.6 1.5 -0.3 1.5 -5 1.6 -2.7 1.4 3.6 1.5 -0.2 1.5 3.3 1.5 2.7 1.5 2 1.4 1.8 1.6 2 1.5 -0.1 1.5 0.7 1.5 0.7 1.6 3.3 1.4 -2.5 1.5 -2.1 1.5 -5.6 1.5 -0.9 1.5 -3.9 1.5 -2.7 1 -2.1 0.5 1.4 1.5 -1.3 1.5 -0.3 1.5 0.8 1.5 -2 1.5 2.9 0.7 -1.5 4.4 17.6 0.9 0.7 1.5 -1.6 1.5 -4 1.6 -1.7 1.4 -1.4 1.5 -6 1.5 -4.5 1.5 -2.5 1.5 -2.6 0.3 -0.5 1.2 0.3 1.5 -2.8 1.5 0.7 1.5 1.2 1.5 -1.9 1.6 0.3 1.4 5.6 1.5 4.1 1.5 6.2 1.5 4.3 1.8 6.1 1.2 -1.3 1.5 0.2 1.5 -2.3 1.5 -2.1 1.5 -2.6 1.5 -1.2 1.1 -1.7 0.4 -0.7 1.5 -2 1.5 2.3 1.5 -1.1 1.5 -1 1.5 -0.5 1.5 -2.1 1.5 0.9 1.5 -2.9 1.5 1.1 1.5 -2.8 1.5 3 1.5 4.3 1.5 4.5 1.5 2.3 0.6 1.3 0.9 -0.4 1.5 -4.3 1.5 -1.4 1.5 -2.2 1.5 -3.4 1.5 -4.9 0.4 1.2 1.1 4 1.5 1.9 1.5 5.7 1.5 3.8 1 4.4 0.5 -0.2 1.5 -5.9 1.5 -1.3 1.5 -6.1 1.5 -1.9 1.5 2.9 1.5 3.1 1.5 -1.3 1.5 4.3 1.7 2 1.3 -1.5 1.5 -4.5 1.5 -2.6 1.5 -2.1 1.5 1 1.5 -4 1.1 -1.7 0.4 1.3 1.5 1.1 1.5 5.2 1.5 3.8 1.5 0.2 1.5 5.4 0.9 0.6 0.6 0.6 1.5 -1.3 1.5 -3.6 1.5 -1.5 1.5 -3.1 1.5 -0.1 0.7 -2 0.8 1.4 1.5 5 1.5 3.7 0.6 0.9 0.9 0.9 1.5 -2.5 1.5 -4.5 1.5 -1.4 1.5 -1 1.5 -1.6 1.5 -0.4 1.5 -3.5 1.5 -0.6 1.5 -2.1 0.9 -0.9 0.6 1 1.5 5.9 1.5 3.6 1.5 6.7 1.5 2.6 1.5 -2.4 1.5 -5 1.5 -4.8 1.5 -5.5 0.6 0.1 0.9 2.4 1.5 3.7 1.5 1.2 1.5 4.4 1.5 2.3 0.8 1.4 0.7 -3.1 1.5 0.1 1.5 -5.2 1.5 -2.3 1.5 -1.9 1.5 -2.5 0.6 -2.7 0.9 3.7 1.5 1.7 1.5 5.5 1.5 2.3 1.5 -2 1.5 -2.7 1.4 -1.9 1.6 3 1.5 1.8 1.5 2.6 1.5 0.1 1.5 2.4 1.5 0.6 0.8 2.7 0.7 -1.5 1.5 -2.6 1.5 0.1 1.5 -4.4 1.5 1.1 1.5 -3.2 1.7 -2.7 1.3 -1.9 1.5 0.8 1.5 -0.1 1.5 -2.1 1.5 2.8 1.5 -3 1.5 -0.2 1.5 -1.1 1.4 0.4 1.6 4.1 1.5 6.8 1.2 2.3 1.8 -0.5 1.1 0.5 0.4 0.3 1.5 -0.9 1.5 -1.1 1.5 0.2 1.5 -2.1 1.3 1.4 1.7 -2.7 1.5 -0.9 1.5 -3.4 1.5 -2.2 1.4 -1.8 1.6 2.3 1.5 4.1 1.5 1.5 1.5 4.7 1.6 2.8 1.4 -1.5 1.5 -1.3 1.5 -2.6 1.5 -1.5 1.5 -5.2 1.4 -1.1 1.6 0.8 1.5 0.6 1.5 1.2 1.5 2.8 1.5 1 1.5 0.3 1.5 -1.1 0.4 1 1.1 -1.5 1.5 0.3 1.5 1.9 1.5 0.1 1.5 -2.5 1.7 1.7 1.3 0.1 1.5 -4.7 1.5 -3.3 1.5 -0.4 1.5 -3.6 1.5 0.8 1.5 -3.2 0.6 -1 4.4 21.9 1 -3.1 1.5 -0.7 1.5 -3.7 1.5 -3.7 1.1 -2 0.4 -0.4 1.5 1.7 1.5 1.9 1.5 0.6 1.5 0.5 1.5 0.8 1.5 -2.8 1.6 2.1 1.4 -0.1 1.5 -3.8 1.5 -0.4 1.5 -1.7 1.5 0.5 1.5 -3.6 1.5 -2.8 0.6 0.9 0.9 1.7 1.5 7.3 1.5 4.2 1.5 1.7 1.1 4.9 0.4 1.1 1.5 -5.3 1.5 -1.6 1.5 -3.7 1.7 -3.7 1.3 2.5 1.5 1.2 1.5 5.1 1.5 4.2 0.8 0.2 0.7 -2.8 1.5 -3.6 1.5 -6.7 0.7 -2.3 0.8 0 1.5 0.9 1.5 0.3 1.5 2 1.5 2.8 1.5 -0.6 1.5 1.6 1.2 -0.4 0.3 -1.3 1.5 0.8 1.5 0.8 1.5 -0.7 1.5 -1.5 1.5 3.4 1.5 -3 1.6 1.5 1.4 5.2 1.5 0.8 1.5 3.5 1.1 3.7 0.4 -2 1.5 -4.8 1.5 -3.8 1.5 -8.9 1.5 -5.2 1.3 -3.8 1.7 2.9 1.5 4.9 1.5 3.6 1.5 0.5 1.5 3.5 1.1 4.3 0.4 0.4 1.5 -1.6 1.5 -3.1 1.5 -3.2 1.5 -3.7 1.5 -0.5 0.9 -1.5 0.6 -0.6 1.5 3.1 1.5 1.1 1.5 4.2 1.5 2 1.5 1.6 0.7 1.8 0.8 -2.1 1.5 -2.4 1.5 -2 1.5 -1.4 1.5 1.6 1.5 -5.6 1.5 1 1.1 -2.3 0.4 0.9 1.5 4.5 1.5 2.8 1.5 6.8 1.7 2.6 1.3 -3.4 1.5 -3.4 1.5 -1.5 1.5 -6.6 0.8 -0.5 0.7 2.2 1.5 0.5 1.5 1.3 1.5 1.4 1.5 1.7 1.5 -0.5 1.5 2.1 1.3 2.3 1.7 -3.3 1.5 -2.4 1.5 0.7 1.5 -3.1 1.5 -0.6 1.1 -2.3 0.4 -0.2 1.5 2.8 1.5 -2.2 1.5 1.7 1.5 0.2 1.5 2.1 1.5 -2.1 1.5 2.1 1.5 1 1.5 1.9 1.5 -0.4 1.5 2.5 1.5 2.9 1.5 -2.3 1.5 4.7 0.5 -1.5 1 0.5 1.5 -4 1.5 -3.5 1.5 -0.3 1.5 -0.2 1.5 -5.8 1.4 0.1 1.6 4.4 1.5 0.3 1.5 5 1.5 1.2 1.5 2.8 1.5 4.7 1.5 2.1 0.4 1.5 5.4 -32.9 1.7 3.5 1.5 8.2 1.5 2.9 1.5 7.5 0.4 -0.2 1.1 1.7 1.5 1.1 1.5 0.7 1.5 4.3 1.5 1.7 0.6 -0.7 0.9 1 1.5 -2.8 1.5 0 1.5 -1.4 1.5 -2.3 1.5 -2.6 1.5 -0.7 1.5 -1.4 1.5 1.2 1.5 -1.8 1.5 0.5 1.5 -0.7 1.3 -2.2 1.7 -3.3 1.5 -1.4 1.5 -2.8 1.5 -0.9 1.5 -2.6 1 0 0.5 0.2 1.5 4.9 1.5 0.3 0.9 3.4"/>
<path stroke="#00ff00" d="M174.4 1265.5l0.4 131.7 2.9 -28.6 2.2 22 1.6 -4.2 1.7 -6.8 2.2 11 3.3 -15.4 3.2 28.6 1.6 0.6 1.5 3.5 1.5 -1.5 1.5 4.2 1.5 2.5 1.2 -0.6 1.8 -3.8 1.5 -3.4 1.5 -2.8 0.7 -3.1 0.8 0.1 1.5 -1.7 1.5 0.1 1.5 1.8 1.5 -0.6 0.9 -1.9 0.6 -1.2 1.5 0.6 1.5 0.8 1.5 0.4 1.5 2.5 1.5 -0.5 0.7 1.8 0.8 1.4 1.5 -0.8 1.5 -2.1 1.5 1.6 1.3 -0.1 1.7 -1.8 1.5 -2.6 1.2 0 2.1 15.3 2.2 22 2.2 32.9 1.3 2.4 1.5 7.7 0.5 0.9 2.2 17.6 1.8 -3.6 1.5 -5.2 1.5 0.2 1.5 -1.2 1.5 3.2 1.5 -2 1.5 2.5 1.3 -0.5 1.7 1.3 1.5 -1 1.5 -0.6 1.5 1.9 0.4 0.6 1.1 -3.5 1.5 -1.2 1.5 -6 1.4 -2.5 1.6 2.6 1.5 3.9 1.3 0.1 1.7 4.7 1.5 3.4 1.2 2.9 3.2 -17.6 1.6 -3.1 1.5 -4.4 1.3 -3.5 3.3 19.8 1.4 1 1.5 -3.5 1.5 -1.2 1.5 1.7 0.7 -2.4 0.8 -1.1 1.5 0.7 1.5 0.8 1.5 3.9 1.5 0.6 0.9 -0.5 0.6 -0.2 1.5 0.7 1.5 -2.4 1.5 2.5 1.5 -0.9 1.5 0.3 0.7 0 0.8 0.4 1.5 1.5 1.5 0.8 1.5 0.8 1.3 3.1 1.7 -4.5 1.5 -1.2 1.1 -3.1 0.4 2.1 1.5 3.4 1.5 2.7 1 2.8 0.5 -1.2 1.5 0.3 1.5 0 1.5 0.3 1.5 1 1.5 -3.9 1.5 1.3 0.4 0 1.1 -3.5 1.5 -3.9 1.5 -4.2 1.4 -6 3.3 24.1 1.3 3.3 0.9 1.1 0.6 -0.2 1.5 -4.9 1.5 -4.2 1.5 -6 0.4 0 1.1 3.9 1.5 0.9 1.8 3.9 3.3 17.6 0.9 -0.7 1.5 -8.1 1.5 -3 1.5 -3.6 1.5 3.2 1.5 2.8 1.4 5 1.6 -1.7 1.5 0.9 1.5 2.6 1.5 -0.8 0.5 -1 1 0.4 1.5 -0.7 1.5 4.1 1.5 -0.2 1.5 -1.3 1.5 1.3 0.3 0.8 1.2 0.2 1.5 -0.4 1.5 -2.1 1.5 2.2 0.9 -2.1 0.6 0.5 1.5 2.8 1.5 5.3 1.5 0.3 1.5 4.3 1.5 -2.2 1.5 0.6 1.5 -2.3 1.5 -0.6 0.6 0.1 0.9 1.8 1.5 -1.9 1.5 -0.2 1.5 0.8 1.1 -0.5 0.4 0.1 1.5 3.8 1.5 5 1.5 3.8 0.6 2.7 0.9 -3.3 1.5 -0.4 1.5 -7.2 1.5 -0.4 1.2 -4.1 1.8 4.4 1.5 0.2 1.5 5 1.8 3.6 1.2 -0.3 1.5 -0.5 1.5 -2.7 1.5 -1.8 1.5 1.3 0.5 -0.4 1 -2.1 1.5 0.3 1.5 0 1.5 1.1 1.5 -2.7 1.5 -1.5 1.5 2 1 -1.5 0.5 2.2 1.5 1.3 1.5 0.6 1.5 3 1.5 3.9 1.5 -1 1.5 -2.5 1.5 1.1 1.5 -1 1.5 -0.9 1.5 -1.4 1.5 -4.6 0.5 1.5 1 0.8 1.5 -1.3 1.5 4.1 1.5 0.1 1.5 0.8 1.8 -0.1 1.2 0.6 1.5 6 1.5 2.2 1.5 3.1 0.9 1.2 0.6 -0.7 1.5 -0.2 1.5 -3.3 1.5 -1.8 1.5 -1.2 1.5 -1.7 0.7 0.2 0.8 0 1.5 0.3 1.5 -4 1.5 -0.7 1.5 1 1.5 -0.1 0.4 -0.9 1.1 -1.3 1.5 0.3 1.5 -0.8 1.5 -0.1 1.8 1.9 1.2 1.3 1.5 0.6 1.5 -1.2 1.5 0.5 1.5 4.1 1.6 -0.9 1.4 -2 1.5 -0.5 1.5 -1.6 1.5 -2.4 1.5 -3.5 1.5 1.3 0.9 -2.3 0.6 0.4 1.5 3.5 1.5 5.5 1.5 4.9 0.4 1 1.1 -2.5 1.5 -6 1.5 -2 1.4 -4.8 1.6 1.4 1.5 5.4 1.5 2.4 1.5 3.1 1.5 1.7 1.2 1.3 0.3 -1.8 1.5 -1.4 1.5 -3.1 1.5 -5.1 0.7 -1.7 0.8 2.2 1.5 1.2 1.5 -1.3 1.5 3.2 1.3 -0.9 1.7 8.1 1.5 2.9 1.2 6.5 0.3 -1.1 1.5 -1.5 1.5 -2.5 1.5 -1.9 1.7 -3.9 1.3 -0.1 1.5 4.5 1.5 0 1.5 2.8 0.8 -0.7 0.7 -3 1.5 -1.1 1.5 -5.9 1.5 -3.4 0.3 -1.9 1.2 4.3 1.5 4.7 1.5 2.2 1.3 4.1 1.7 -1.5 1.5 -1.9 1.5 0.5 1.5 0.1 0.4 -1.6 1.1 2.2 1.5 2.7 1.5 3.1 1.4 5.2 1.6 -5.5 1.5 -7.6 1.5 -2.9 0.9 -3.7 0.6 -1.4 1.5 -0.7 1.5 2.9 1.5 -2 1.5 1.1 1.5 -1.9 0.6 -0.2 2.2 24.1 1.7 -5.5 1.5 -3.9 1.5 -4.2 1.5 -4.8 1.5 -5.7 1.5 0.7 1.5 2.4 1.5 1.5 1.5 2.2 1.7 1.9 1.3 1.5 1.5 1.2 1.5 -0.2 1.5 4.6 1.5 0.6 1.5 1.1 1.5 -2.7 1.5 -3.6 1.5 -2.6 1 -4.2 0.5 -0.4 1.5 0.5 1.5 -1.1 1.5 3.1 1.5 0.1 1.1 0 0.4 1.3 1.5 6.2 1.5 1.3 1 4.3 0.5 -2.3 1.5 -2 1.5 -3.7 1.5 -5.3 1.6 -4.2 1.4 1.3 1.5 3.8 1.5 0.7 1.5 1.8 0.7 1.1 0.8 1.2 1.5 3.9 1.5 2.9 0.6 0.8 0.9 -1.3 1.5 -2.7 1.5 -3.9 1.5 -4.9 1.5 -4 0.8 -0.7 0.7 2.9 1.5 3.9 1.5 4.4 1.5 1 1.5 6.4 1 1.1 0.5 0.5 1.5 -6.3 1.5 -2 1.5 -1.7 1.5 -5 1.1 -0.8 0.4 2.3 1.5 1.9 1.5 5.9 1.5 2.6 0.6 2.6 0.9 -2.8 1.5 -3.1 1.5 -1.8 1.5 -2.2 1.2 -3.3 1.8 3.2 1.5 0.6 1.5 3.2 1.5 0.9 0.3 0.9 1.2 -3.6 1.5 -3.2 1.5 -3.3 1.5 -0.5 0.9 -2.5 0.6 1.6 1.5 3.7 1.5 7.9 1.5 4 1.5 2.3 1.5 7.7 0.7 1.3 4.4 -22 0.9 3.2 1.5 -0.4 1.5 3 1.5 2 1.1 1 0.4 -0.7 1.5 -1 1.5 0.7 1.5 -1.3 1.5 -1.7 1.5 -0.6 1.5 -2.1 1.6 0.1 1.4 -0.5 1.5 4 1.5 0.7 1.5 0.6 1.5 3 1.4 1 1.6 -2.8 1.5 0.4 1.5 -2.4 1.5 1.4 1.5 -3 1.2 -0.2 0.3 -0.3 1.5 1 1.5 0.9 1.5 2 1.8 3 1.2 -1.1 1.5 -1.1 1.5 -4.6 1.5 -2.4 0.8 0.4 0.7 2.1 1.5 2.9 1.5 5.6 0.7 2.6 0.8 0.3 1.5 -3.7 1.5 0.4 1.5 -2.1 1.3 -1.5 1.7 -3.1 1.5 -0.5 1.5 -3.8 1.5 -1.5 1.5 -0.4 1.1 -1.7 0.4 2.7 1.5 3.8 1.5 5.5 1.5 2.4 1.7 7.6 1.3 -3 1.5 -0.3 1.5 -4.8 1.5 -0.9 1.5 -5.7 1.5 -0.7 1.5 2 1.5 -0.1 1.5 -0.4 1.5 -1.2 1.5 3.3 1.2 -1.4 1.8 5.1 1.5 2 1.5 2.5 1.5 1.9 1.5 1.3 0.7 2.6 0.8 -2.7 1.5 -2.4 1.5 -3.8 1.5 -4.8 1.5 -2.1 1.5 -6.8 0.5 0.6 1 1 1.5 1.8 1.5 3.6 1.5 4.5 1.5 2.5 1.7 2 1.3 -2.6 1.5 -2.9 1.5 0.1 1.5 -3 1.5 -3 0.4 0.4 1.1 0.6 1.5 3.5 1.5 -0.3 1.5 2.6 1.5 1.2 1.7 1.2 1.3 -3 1.5 -4.5 1.6 -3.5 1.4 1.8 1.5 1.1 1.5 2 1.5 1.3 1.5 4.7 1.4 0.1 1.6 -2.4 1.5 -1.8 1.5 -0.4 1.5 1.5 1.5 -3.3 1.2 -0.2 0.3 0.5 1.5 -2.8 1.5 0.7 1.5 -1.8 1.7 -1 1.3 -0.6 1.5 -1.4 1.5 -1.3 1.5 0.4 1.5 0.1 0.4 -1.6 5.5 26.4 4.4 -22 1.7 5.7 1.5 3.6 1.5 5.1 1.5 3.7 0.4 -0.5 1.1 -2.7 1.5 0.8 1.5 -5 1.5 -2 1.5 0.1 1.7 -4.4 4.4 28.6 4.3 -26.4 1.6 2 1.5 1.2 1.5 1.3 1.5 1.1 0.5 -1.2 1 -0.4 1.5 -1.9 1.5 -4.5 1.5 -1.8 1.5 -3.3 0.7 -1.3 0.8 3.3 1.5 1.3 1.5 1.7 1.5 3.5 1.5 1.1 0.9 2.3 0.6 -1.7 1.5 0.4 1.5 -1.6 1.5 -1.1 1.5 -0.3 1.5 0.9 1.5 0.6 1.4 -1.6 1.6 1.7 1.5 -1.1 1.5 2.6 1.5 0.1 0.5 1.1 1 -2.6 1.5 -2.5 1.5 -4.7 1.5 -3.6 1 -2 5.5 26.4 1 -2.6 1.5 -5.4 1.5 -8.9 1.5 -5.1 1.5 2.3 1.5 4.5 1.5 3.6 1.5 0.2 1.5 3.8 1.3 3.2 1.7 -2.3 1.5 -0.4 1.5 -0.7 1.5 -3.7 1.5 0.5 1.5 -4.6 1.8 0.2 1.2 -0.4 1.5 1.9 1.5 0.6 1.5 0.3 1.5 4.3 1.5 -0.1 1.5 -3.3 1.5 -3.9 1.4 -3.8 1.6 4.5 1.5 2.1 1.5 1.2 1.5 5.4 0.5 0 1 -4 1.5 -0.3 1.5 -6.2 1.5 -3.9 1.5 -3.8 1.5 -2.9 1.4 -3 6.6 30.7 1 -4.4 1.5 -5.5 1.5 -4.8 1.5 -5.1 1.5 0.5 1.5 -5.2 1.5 2.1 1.5 -1.7 0.6 -2.3 5.4 28.6 1.5 -2.9 1.5 -2 1.5 -3.8 1.5 -3.3 1.7 -5.6 1.3 0.5 1.5 -1.5 1.5 1.2 1.5 -3.4 1.5 1 1.5 -2.2 1.5 2.2 1.5 -0.8 1.4 -1.4 1.6 1.4 1.5 1.3 1.5 4 1.5 2 0.5 0.1 1 -4.7 1.5 -0.7 1.5 -4.2 1.5 -6.4 1.5 -3.7 0.7 -2.2 0.8 2.1 1.5 5.6 1.5 3.9 1.5 4.9 1.5 6 0.8 1.6 0.7 -1.7 1.5 -0.7 1.5 0.7 1.5 -3.3 1.5 -1.7 1.5 2.2 0.6 -2.1 2.2 15.4 4.4 -17.6 1.8 -0.9 1.5 -2.6 1.5 0.8 1.5 -2.8 1.5 -0.8 1.5 -0.4 1.7 0.1 1.3 2 1.5 2.8 1.5 5.2 1.5 2.3 0.8 0.9 0.7 -0.6 1.5 0 1.5 -1.4 1.5 -2.6 1.5 0 1.5 -0.6 0.5 -1.4 1 0.6 1.5 1.6 1.5 0.2 1.5 1.8 1.5 -1.9 1.5 2.3 1.1 -0.2 0.4 2.3 1.5 -0.3 1.5 3.1 1.5 -1.8 1.7 3.3 1.3 -3.6 1.5 -1.1 1.5 -4.3 1.5 -2.5 0.8 -1.7 0.7 -2 1.5 -2.1 1.5 0.2 1.5 -3 1.5 -2.2 0.9 -1.8 2.2 26.3 1.4 -0.1 1.5 -5.2 1.5 -0.8 1.5 -1.5 1.5 -2.9 0.3 -0.5 1.2 -1.8 1.5 -0.9 1.5 -3.3 1.5 -4.8 1.5 -1.8 0.5 -0.5 4.4 28.5 1.1 -3.5 1.5 -1.7 1.5 -4.5 1.5 -5.1 1.5 -2.3 0.6 -0.5 0.9 -1.6 1.5 -2.6 1.5 0 1.5 -0.6 1.5 -2.1 1.5 -3.1 0.3 -0.9 1.2 5.1 1.5 3.4 1.5 5.3 1.5 6.1 1.5 1.5 1.6 7.1 1.4 -5.1 1.5 -5.1 1.5 -4.7 1.5 -6.5 0.7 -0.6 0.8 0.6 1.5 0.8 1.5 -3.3 1.5 -0.5 1.5 0.3 1.5 1.5 1.6 -1.6 1.4 2.7 1.5 -0.6 1.5 3.4 1.5 2.2 1.8 1.1 1.2 -2.5 1.5 2.4 1.5 -1.6 1.5 -2.5 1.5 0.4 1.5 -2.1 1.5 -2.8 1.5 -0.2 0.3 0.1 1.2 4 1.5 2 1.5 1.7 1.5 3.9 1.5 3.5 0.5 2.5 1 -0.9 1.5 -1.6 1.5 -2.7 1.5 -2 1.5 0.3 1.5 -4.3 0.3 0.2 1.2 0.5 1.5 -2.2 1.5 0.9 1.5 -1.6 1.5 -0.6 1.5 0.6 1.5 -1.2 0.8 1.4 0.7 -0.9 1.5 0.2 1.5 -1.3 1.5 0.1 1.5 -2.2 1.5 -2.5 1.5 1.7 1.3 -1.7 1.7 1.9 1.5 1.7 1.5 -1.1 1.5 -0.3 1.5 1.2 1 1 0.5 0.5 1.5 0.8 1.5 0.6 1.5 2.7 1.5 2.5 1.5 2.2 0.8 -0.5 0.7 0.2 1.5 -1.6 1.5 -2.3 1.5 -3.5 1.4 -1.6 1.6 -3.9 1.5 1 1.5 -2.4 1.5 -3.7 0.5 0.3 1 2.4 1.5 2.9 1.5 5.9 1.5 2.2 1.5 5.2 1.8 3.3 1.2 -0.1 1.5 -3.1 1.5 -1.7 1.5 1 1.5 -1.7 1.5 -4.4 1.5 -0.8 1.5 0.2 1.4 -2.6 1.6 1 1.5 2.5 1.5 3.9 1.5 -1.7 1.5 2.5 1.5 3.4 1.5 2.7 0.4 -1.1 1.1 -0.4 1.5 -4.9 1.5 -1.7 1.5 -2.3 1.5 -5.6 0.6 -0.5 0.9 0.8 1.5 3.1 1.5 5.1 1.5 0.4 1.5 4.6 0.8 1.4 0.7 0.6 1.5 -5.1 1.5 -0.6 1.5 -2.6 1.5 -0.5 1.5 -4.1 0.6 -0.9 0.9 0.4 1.5 2.2 1.5 0 1.5 -1.8 1.5 3.2 1.5 -1 1.5 2.9 1 -1.5 0.5 1.7 1.5 -2.5 1.5 -0.9 1.5 -1.4 1.5 -0.4 1.5 -0.8 1.5 -0.8 1.5 0.7 1.5 -1.3 1.5 2.7 1.5 0.5 1.5 1.1 1.5 -0.2 1.5 1.9 1.5 -2 1.5 -0.3 1.2 2 0.3 0.2 1.5 -1.8 1.5 2.3 1.5 -0.9 1.5 -1.6 1.5 0 1.5 -2.9 1.6 0.3 1.4 2.3 1.5 2.8 1.5 3.1 1.5 3.5 0.7 1.5 0.8 -0.5 1.5 -4.8 1.5 -0.2 1.5 -3.9 1.5 1.1 1.5 -3.9 0.5 -1 1 1.8 1.5 1 1.5 3.6 1.5 2.2 1.5 2.9 1.5 0.7 1.5 0.9 1 2.3 0.5 -0.5 1.5 -5.3 1.5 -0.2 1.5 -4.8 1.5 -1.3 1.5 -5.4 0.8 -0.1 0.7 0.6 1.5 -1.4 1.5 -0.3 1.5 1.2 1.5 2.7 1.5 -1.6 1.5 0.9 1.2 0.1 1.8 7.2 1.5 1.6 1.1 4.4 3 -17.6 0.4 2.2 1.5 1.7 1.5 4 1.5 4.8 1.7 2.7 1.3 2.1 1.5 3 1.5 3.2 1.2 0.5 0.3 -1.8 1.5 -1.6 1.5 -5.2 1.5 -3.5 1.5 -2.1 1.5 -2.6 1.5 -3.4 0.5 -1.8 1 5.7 1.5 2.9 1.5 7.4 0.4 1.6 1.1 -1.7 1.5 -3.1 1.5 0.4 1.5 -5.4 1.5 -1.8 1.7 -1.6 1.3 -0.7 1.5 -1.4 1.5 -3.3 1.5 1.3 1.5 -2.6 1.5 -2 4.4 28.5 7.7 -32.9 4.3 26.3 1.6 -1.8 1.5 -5.6 1.5 -0.3 1.5 -5 1.6 -2.7 1.4 3.6 1.5 -0.2 1.5 3.3 1.5 2.7 1.5 2 1.4 1.8 1.6 2 1.5 -0.1 1.5 0.7 1.5 0.7 1.6 3.3 1.4 -2.5 1.5 -2.1 1.5 -5.6 1.5 -0.9 1.5 -3.9 1.5 -2.7 1 -2.1 0.5 1.4 1.5 -1.3 1.5 -0.3 1.5 0.8 1.5 -2 1.5 2.9 0.7 -1.5 4.4 17.6 0.9 0.7 1.5 -1.6 1.5 -4 1.6 -1.7 1.4 -1.4 1.5 -6 1.5 -4.5 1.5 -2.5 1.5 -2.6 0.3 -0.5 1.2 0.3 1.5 -2.8 1.5 0.7 1.5 1.2 1.5 -1.9 1.6 0.3 1.4 5.6 1.5 4.1 1.5 6.2 1.5 4.3 1.8 6.1 1.2 -1.3 1.5 0.2 1.5 -2.3 1.5 -2.1 1.5 -2.6 1.5 -1.2 1.1 -1.7 0.4 -0.7 1.5 -2 1.5 2.3 1.5 -1.1 1.5 -1 1.5 -0.5 1.5 -2.1 1.5 0.9 1.5 -2.9 1.5 1.1 1.5 -2.8 1.5 3 1.5 4.3 1.5 4.5 1.5 2.3 0.6 1.3 0.9 -0.4 1.5 -4.3 1.5 -1.4 1.5 -2.2 1.5 -3.4 1.5 -4.9 0.4 1.2 1.1 4 1.5 1.9 1.5 5.7 1.5 3.8 1 4.4 0.5 -0.2 1.5 -5.9 1.5 -1.3 1.5 -6.1 1.5 -1.9 1.5 2.9 1.5 3.1 1.5 -1.3 1.5 4.3 1.7 2 1.3 -1.5 1.5 -4.5 1.5 -2.6 1.5 -2.1 1.5 1 1.5 -4 1.1 -1.7 0.4 1.3 1.5 1.1 1.5 5.2 1.5 3.8 1.5 0.2 1.5 5.4 0.9 0.6 0.6 0.6 1.5 -1.3 1.5 -3.6 1.5 -1.5 1.5 -3.1 1.5 -0.1 0.7 -2 0.8 1.4 1.5 5 1.5 3.7 0.6 0.9 0.9 0.9 1.5 -2.5 1.5 -4.5 1.5 -1.4 1.5 -1 1.5 -1.6 1.5 -0.4 1.5 -3.5 1.5 -0.6 1.5 -2.1 0.9 -0.9 0.6 1 1.5 5.9 1.5 3.6 1.5 6.7 1.5 2.6 1.5 -2.4 1.5 -5 1.5 -4.8 1.5 -5.5 0.6 0.1 0.9 2.4 1.5 3.7 1.5 1.2 1.5 4.4 1.5 2.3 0.8 1.4 0.7 -3.1 1.5 0.1 1.5 -5.2 1.5 -2.3 1.5 -1.9 1.5 -2.5 0.6 -2.7 0.9 3.7 1.5 1.7 1.5 5.5 1.5 2.3 1.5 -2 1.5 -2.7 1.4 -1.9 1.6 3 1.5 1.8 1.5 2.6 1.5 0.1 1.5 2.4 1.5 0.6 0.8 2.7 0.7 -1.5 1.5 -2.6 1.5 0.1 1.5 -4.4 1.5 1.1 1.5 -3.2 1.7 -2.7 1.3 -1.9 1.5 0.8 1.5 -0.1 1.5 -2.1 1.5 2.8 1.5 -3 1.5 -0.2 1.5 -1.1 1.4 0.4 1.6 4.1 1.5 6.8 1.2 2.3 1.8 -0.5 1.1 0.5 0.4 0.3 1.5 -0.9 1.5 -1.1 1.5 0.2 1.5 -2.1 1.3 1.4 1.7 -2.7 1.5 -0.9 1.5 -3.4 1.5 -2.2 1.4 -1.8 1.6 2.3 1.5 4.1 1.5 1.5 1.5 4.7 1.6 2.8 1.4 -1.5 1.5 -1.3 1.5 -2.6 1.5 -1.5 1.5 -5.2 1.4 -1.1 1.6 0.8 1.5 0.6 1.5 1.2 1.5 2.8 1.5 1 1.5 0.3 1.5 -1.1 0.4 1 1.1 -1.5 1.5 0.3 1.5 1.9 1.5 0.1 1.5 -2.5 1.7 1.7 1.3 0.1 1.5 -4.7 1.5 -3.3 1.5 -0.4 1.5 -3.6 1.5 0.8 1.5 -3.2 0.6 -1 4.4 21.9 1 -3.1 1.5 -0.7 1.5 -3.7 1.5 -3.7 1.1 -2 0.4 -0.4 1.5 1.7 1.5 1.9 1.5 0.6 1.5 0.5 1.5 0.8 1.5 -2.8 1.6 2.1 1.4 -0.1 1.5 -3.8 1.5 -0.4 1.5 -1.7 1.5 0.5 1.5 -3.6 1.5 -2.8 0.6 0.9 0.9 1.7 1.5 7.3 1.5 4.2 1.5 1.7 1.1 4.9 0.4 1.1 1.5 -5.3 1.5 -1.6 1.5 -3.7 1.7 -3.7 1.3 2.5 1.5 1.2 1.5 5.1 1.5 4.2 0.8 0.2 0.7 -2.8 1.5 -3.6 1.5 -6.7 0.7 -2.3 0.8 0 1.5 0.9 1.5 0.3 1.5 2 1.5 2.8 1.5 -0.6 1.5 1.6 1.2 -0.4 0.3 -1.3 1.5 0.8 1.5 0.8 1.5 -0.7 1.5 -1.5 1.5 3.4 1.5 -3 1.6 1.5 1.4 5.2 1.5 0.8 1.5 3.5 1.1 3.7 0.4 -2 1.5 -4.8 1.5 -3.8 1.5 -8.9 1.5 -5.2 1.3 -3.8 1.7 2.9 1.5 4.9 1.5 3.6 1.5 0.5 1.5 3.5 1.1 4.3 0.4 0.4 1.5 -1.6 1.5 -3.1 1.5 -3.2 1.5 -3.7 1.5 -0.5 0.9 -1.5 0.6 -0.6 1.5 3.1 1.5 1.1 1.5 4.2 1.5 2 1.5 1.6 0.7 1.8 0.8 -2.1 1.5 -2.4 1.5 -2 1.5 -1.4 1.5 1.6 1.5 -5.6 1.5 1 1.1 -2.3 0.4 0.9 1.5 4.5 1.5 2.8 1.5 6.8 1.7 2.6 1.3 -3.4 1.5 -3.4 1.5 -1.5 1.5 -6.6 0.8 -0.5 0.7 2.2 1.5 0.5 1.5 1.3 1.5 1.4 1.5 1.7 1.5 -0.5 1.5 2.1 1.3 2.3 1.7 -3.3 1.5 -2.4 1.5 0.7 1.5 -3.1 1.5 -0.6 1.1 -2.3 0.4 -0.2 1.5 2.8 1.5 -2.2 1.5 1.7 1.5 0.2 1.5 2.1 1.5 -2.1 1.5 2.1 1.5 1 1.5 1.9 1.5 -0.4 1.5 2.5 1.5 2.9 1.5 -2.3 1.5 4.7 0.5 -1.5 1 0.5 1.5 -4 1.5 -3.5 1.5 -0.3 1.5 -0.2 1.5 -5.8 1.4 0.1 1.6 4.4 1.5 0.3 1.5 5 1.5 1.2 1.5 2.8 1.5 4.7 1.5 2.1 0.4 1.5 5.4 -32.9 1.7 3.5 1.5 8.2 1.5 2.9 1.5 7.5 0.4 -0.2 1.1 1.7 1.5 1.1 1.5 0.7 1.5 4.3 1.5 1.7 0.6 -0.7 0.9 1 1.5 -2.8 1.5 0 1.5 -1.4 1.5 -2.3 1.5 -2.6 1.5 -0.7 1.5 -1.4 1.5 1.2 1.5 -1.8 1.5 0.5 1.5 -0.7 1.3 -2.2 1.7 -3.3 1.5 -1.4 1.5 -2.8 1.5 -0.9 1.5 -2.6 1 0 0.5 0.2 1.5 4.9 1.5 0.3 0.9 3.4"/>
</g>
<g font-size="46" fill="#262626" stroke="#262626" stroke-width="0.7"><text transform="translate(172.20 1641.90) scale(1 1.045)" text-anchor="middle">0</text><text transform="translate(368.73 1641.90) scale(1 1.045)" text-anchor="middle">200</text><text transform="translate(565.26 1641.90) scale(1 1.045)" text-anchor="middle">400</text><text transform="translate(761.79 1641.90) scale(1 1.045)" text-anchor="middle">600</text><text transform="translate(958.32 1641.90) scale(1 1.045)" text-anchor="middle">800</text><text transform="translate(1154.85 1641.90) scale(1 1.045)" text-anchor="middle">1000</text><text transform="translate(1351.38 1641.90) scale(1 1.045)" text-anchor="middle">1200</text><text transform="translate(1547.91 1641.90) scale(1 1.045)" text-anchor="middle">1400</text><text transform="translate(1744.44 1641.90) scale(1 1.045)" text-anchor="middle">1600</text><text transform="translate(1940.97 1641.90) scale(1 1.045)" text-anchor="middle">1800</text><text transform="translate(2137.50 1641.90) scale(1 1.045)" text-anchor="middle">2000</text><text transform="translate(157.2 1568.90) scale(1 1.045)" text-anchor="end">0</text><text transform="translate(157.2 1406.90) scale(1 1.045)" text-anchor="end">1</text><text transform="translate(157.2 1244.90) scale(1 1.045)" text-anchor="end">2</text></g>
<text x="1155" y="1704.80" text-anchor="middle" font-size="50.5" fill="#262626" stroke="#262626" stroke-width="0.7">Time (sec)</text>
<text transform="translate(107.90 1403.15) rotate(-90)" text-anchor="middle" font-size="50.5" fill="#262626" stroke="#262626" stroke-width="0.7">Down (m)</text>
<rect x="1321.00" y="15.60" width="806.00" height="177.40" fill="#fff" stroke="#262626" stroke-width="3.5"/>
<path d="M1336 49.80H1489.5" stroke="#0000ff" stroke-width="6" shape-rendering="crispEdges"/>
<text x="1500.9" y="66.20" font-size="41" fill="#000" stroke="#000" stroke-width="1">Uncompensated</text>
<path d="M1336 104.60H1489.5" stroke="#ff0000" stroke-width="6" shape-rendering="crispEdges"/>
<text x="1501.0" y="119.80" font-size="41" fill="#000" stroke="#000" stroke-width="1">Weighted recursive least squares</text>
<path d="M1336 159.40H1489.5" stroke="#00ff00" stroke-width="6" shape-rendering="crispEdges"/>
<text x="1500.9" y="175.00" font-size="41" fill="#000" stroke="#000" stroke-width="1">Proposed method</text>
</svg>
</body></html>
